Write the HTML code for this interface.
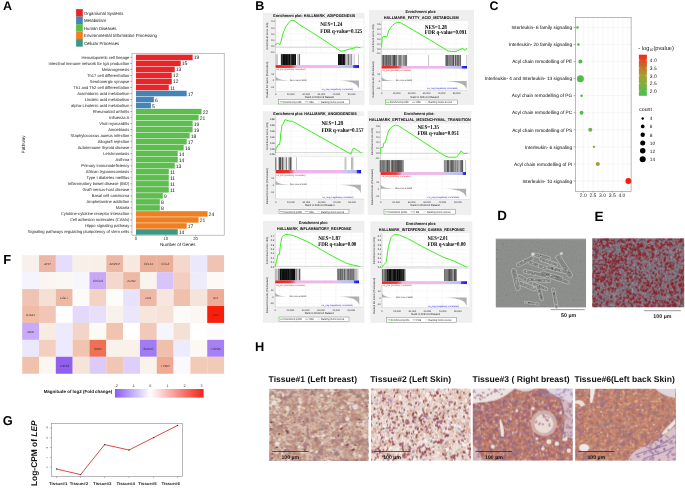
<!DOCTYPE html>
<html><head><meta charset="utf-8"><style>
html,body{margin:0;padding:0;background:#fff;overflow:hidden}
svg{display:block;will-change:transform;text-rendering:geometricPrecision}

</style></head><body>
<svg width="685" height="490" viewBox="0 0 685 490">
<rect width="685" height="490" fill="#fff"/>
<text x="2.90" y="9.80" font-size="12.5" text-anchor="start" font-weight="bold" fill="#000" font-family="'Liberation Sans',sans-serif"  style="">A</text>
<text x="255.20" y="9.90" font-size="12.6" text-anchor="start" font-weight="bold" fill="#000" font-family="'Liberation Sans',sans-serif"  style="">B</text>
<text x="489.50" y="9.70" font-size="12.4" text-anchor="start" font-weight="bold" fill="#000" font-family="'Liberation Sans',sans-serif"  style="">C</text>
<text x="497.20" y="220.40" font-size="13.4" text-anchor="start" font-weight="bold" fill="#000" font-family="'Liberation Sans',sans-serif"  style="">D</text>
<text x="594.40" y="220.60" font-size="13.6" text-anchor="start" font-weight="bold" fill="#000" font-family="'Liberation Sans',sans-serif"  style="">E</text>
<text x="3.20" y="264.00" font-size="13.0" text-anchor="start" font-weight="bold" fill="#000" font-family="'Liberation Sans',sans-serif"  style="">F</text>
<text x="2.80" y="425.20" font-size="12.8" text-anchor="start" font-weight="bold" fill="#000" font-family="'Liberation Sans',sans-serif"  style="">G</text>
<text x="255.10" y="350.80" font-size="12.8" text-anchor="start" font-weight="bold" fill="#000" font-family="'Liberation Sans',sans-serif"  style="">H</text>
<rect x="76.10" y="9.10" width="6.70" height="7.55" fill="#e8262a" />
<text x="84.00" y="14.60" font-size="4.45" text-anchor="start" font-weight="normal" fill="#111" font-family="'Liberation Sans',sans-serif" textLength="39.4" lengthAdjust="spacingAndGlyphs"  style="">Organismal Systems</text>
<rect x="76.10" y="16.60" width="6.70" height="7.55" fill="#4684b8" />
<text x="84.00" y="22.10" font-size="4.45" text-anchor="start" font-weight="normal" fill="#111" font-family="'Liberation Sans',sans-serif" textLength="22.2" lengthAdjust="spacingAndGlyphs"  style="">Metabolism</text>
<rect x="76.10" y="24.10" width="6.70" height="7.55" fill="#5ebd4f" />
<text x="84.00" y="29.60" font-size="4.45" text-anchor="start" font-weight="normal" fill="#111" font-family="'Liberation Sans',sans-serif" textLength="32.4" lengthAdjust="spacingAndGlyphs"  style="">Human Diseases</text>
<rect x="76.10" y="31.60" width="6.70" height="7.55" fill="#ee8022" />
<text x="84.00" y="37.10" font-size="4.45" text-anchor="start" font-weight="normal" fill="#111" font-family="'Liberation Sans',sans-serif" textLength="73.0" lengthAdjust="spacingAndGlyphs"  style="">Environmental Information Processing</text>
<rect x="76.10" y="39.10" width="6.70" height="7.55" fill="#3e9888" />
<text x="84.00" y="44.60" font-size="4.45" text-anchor="start" font-weight="normal" fill="#111" font-family="'Liberation Sans',sans-serif" textLength="35.2" lengthAdjust="spacingAndGlyphs"  style="">Cellular Processes</text>
<rect x="132.00" y="53.40" width="92.20" height="181.80" fill="#fff" stroke="#9a9a9a" stroke-width="0.6"/>
<rect x="136.00" y="54.65" width="56.62" height="5.50" fill="#e8262a" />
<text x="193.72" y="59.40" font-size="5.0" text-anchor="start" font-weight="normal" fill="#111" font-family="'Liberation Sans',sans-serif"  style="">19</text>
<text x="129.30" y="58.90" font-size="4.1" text-anchor="end" font-weight="normal" fill="#222" font-family="'Liberation Sans',sans-serif"  style="">Hematopoietic cell lineage</text>
<line x1="130.40" y1="57.40" x2="132.00" y2="57.40" stroke="#333" stroke-width="0.4" />
<rect x="136.00" y="60.67" width="44.70" height="5.50" fill="#e8262a" />
<text x="181.80" y="65.42" font-size="5.0" text-anchor="start" font-weight="normal" fill="#111" font-family="'Liberation Sans',sans-serif"  style="">15</text>
<text x="129.30" y="64.92" font-size="4.1" text-anchor="end" font-weight="normal" fill="#222" font-family="'Liberation Sans',sans-serif"  style="">Intestinal immune network for IgA production</text>
<line x1="130.40" y1="63.42" x2="132.00" y2="63.42" stroke="#333" stroke-width="0.4" />
<rect x="136.00" y="66.69" width="38.74" height="5.50" fill="#e8262a" />
<text x="175.84" y="71.44" font-size="5.0" text-anchor="start" font-weight="normal" fill="#111" font-family="'Liberation Sans',sans-serif"  style="">13</text>
<text x="129.30" y="70.94" font-size="4.1" text-anchor="end" font-weight="normal" fill="#222" font-family="'Liberation Sans',sans-serif"  style="">Melanogenesis</text>
<line x1="130.40" y1="69.44" x2="132.00" y2="69.44" stroke="#333" stroke-width="0.4" />
<rect x="136.00" y="72.71" width="35.76" height="5.50" fill="#e8262a" />
<text x="172.86" y="77.46" font-size="5.0" text-anchor="start" font-weight="normal" fill="#111" font-family="'Liberation Sans',sans-serif"  style="">12</text>
<text x="129.30" y="76.96" font-size="4.1" text-anchor="end" font-weight="normal" fill="#222" font-family="'Liberation Sans',sans-serif"  style="">Th17 cell differentiation</text>
<line x1="130.40" y1="75.46" x2="132.00" y2="75.46" stroke="#333" stroke-width="0.4" />
<rect x="136.00" y="78.73" width="35.76" height="5.50" fill="#e8262a" />
<text x="172.86" y="83.48" font-size="5.0" text-anchor="start" font-weight="normal" fill="#111" font-family="'Liberation Sans',sans-serif"  style="">12</text>
<text x="129.30" y="82.98" font-size="4.1" text-anchor="end" font-weight="normal" fill="#222" font-family="'Liberation Sans',sans-serif"  style="">Serotonergic synapse</text>
<line x1="130.40" y1="81.48" x2="132.00" y2="81.48" stroke="#333" stroke-width="0.4" />
<rect x="136.00" y="84.75" width="32.78" height="5.50" fill="#e8262a" />
<text x="169.88" y="89.50" font-size="5.0" text-anchor="start" font-weight="normal" fill="#111" font-family="'Liberation Sans',sans-serif"  style="">11</text>
<text x="129.30" y="89.00" font-size="4.1" text-anchor="end" font-weight="normal" fill="#222" font-family="'Liberation Sans',sans-serif"  style="">Th1 and Th2 cell differentiation</text>
<line x1="130.40" y1="87.50" x2="132.00" y2="87.50" stroke="#333" stroke-width="0.4" />
<rect x="136.00" y="90.77" width="50.66" height="5.50" fill="#4684b8" />
<text x="187.76" y="95.52" font-size="5.0" text-anchor="start" font-weight="normal" fill="#111" font-family="'Liberation Sans',sans-serif"  style="">17</text>
<text x="129.30" y="95.02" font-size="4.1" text-anchor="end" font-weight="normal" fill="#222" font-family="'Liberation Sans',sans-serif"  style="">Arachidonic acid metabolism</text>
<line x1="130.40" y1="93.52" x2="132.00" y2="93.52" stroke="#333" stroke-width="0.4" />
<rect x="136.00" y="96.79" width="17.88" height="5.50" fill="#4684b8" />
<text x="154.98" y="101.54" font-size="5.0" text-anchor="start" font-weight="normal" fill="#111" font-family="'Liberation Sans',sans-serif"  style="">6</text>
<text x="129.30" y="101.04" font-size="4.1" text-anchor="end" font-weight="normal" fill="#222" font-family="'Liberation Sans',sans-serif"  style="">Linoleic acid metabolism</text>
<line x1="130.40" y1="99.54" x2="132.00" y2="99.54" stroke="#333" stroke-width="0.4" />
<rect x="136.00" y="102.81" width="14.90" height="5.50" fill="#4684b8" />
<text x="152.00" y="107.56" font-size="5.0" text-anchor="start" font-weight="normal" fill="#111" font-family="'Liberation Sans',sans-serif"  style="">5</text>
<text x="129.30" y="107.06" font-size="4.1" text-anchor="end" font-weight="normal" fill="#222" font-family="'Liberation Sans',sans-serif"  style="">alpha-Linolenic acid metabolism</text>
<line x1="130.40" y1="105.56" x2="132.00" y2="105.56" stroke="#333" stroke-width="0.4" />
<rect x="136.00" y="108.83" width="65.56" height="5.50" fill="#5ebd4f" />
<text x="202.66" y="113.58" font-size="5.0" text-anchor="start" font-weight="normal" fill="#111" font-family="'Liberation Sans',sans-serif"  style="">22</text>
<text x="129.30" y="113.08" font-size="4.1" text-anchor="end" font-weight="normal" fill="#222" font-family="'Liberation Sans',sans-serif"  style="">Rheumatoid arthritis</text>
<line x1="130.40" y1="111.58" x2="132.00" y2="111.58" stroke="#333" stroke-width="0.4" />
<rect x="136.00" y="114.85" width="62.58" height="5.50" fill="#5ebd4f" />
<text x="199.68" y="119.60" font-size="5.0" text-anchor="start" font-weight="normal" fill="#111" font-family="'Liberation Sans',sans-serif"  style="">21</text>
<text x="129.30" y="119.10" font-size="4.1" text-anchor="end" font-weight="normal" fill="#222" font-family="'Liberation Sans',sans-serif"  style="">Influenza A</text>
<line x1="130.40" y1="117.60" x2="132.00" y2="117.60" stroke="#333" stroke-width="0.4" />
<rect x="136.00" y="120.87" width="56.62" height="5.50" fill="#5ebd4f" />
<text x="193.72" y="125.62" font-size="5.0" text-anchor="start" font-weight="normal" fill="#111" font-family="'Liberation Sans',sans-serif"  style="">19</text>
<text x="129.30" y="125.12" font-size="4.1" text-anchor="end" font-weight="normal" fill="#222" font-family="'Liberation Sans',sans-serif"  style="">Viral myocarditis</text>
<line x1="130.40" y1="123.62" x2="132.00" y2="123.62" stroke="#333" stroke-width="0.4" />
<rect x="136.00" y="126.89" width="56.62" height="5.50" fill="#5ebd4f" />
<text x="193.72" y="131.64" font-size="5.0" text-anchor="start" font-weight="normal" fill="#111" font-family="'Liberation Sans',sans-serif"  style="">19</text>
<text x="129.30" y="131.14" font-size="4.1" text-anchor="end" font-weight="normal" fill="#222" font-family="'Liberation Sans',sans-serif"  style="">Amoebiasis</text>
<line x1="130.40" y1="129.64" x2="132.00" y2="129.64" stroke="#333" stroke-width="0.4" />
<rect x="136.00" y="132.91" width="53.64" height="5.50" fill="#5ebd4f" />
<text x="190.74" y="137.66" font-size="5.0" text-anchor="start" font-weight="normal" fill="#111" font-family="'Liberation Sans',sans-serif"  style="">18</text>
<text x="129.30" y="137.16" font-size="4.1" text-anchor="end" font-weight="normal" fill="#222" font-family="'Liberation Sans',sans-serif"  style="">Staphylococcus aureus infection</text>
<line x1="130.40" y1="135.66" x2="132.00" y2="135.66" stroke="#333" stroke-width="0.4" />
<rect x="136.00" y="138.93" width="50.66" height="5.50" fill="#5ebd4f" />
<text x="187.76" y="143.68" font-size="5.0" text-anchor="start" font-weight="normal" fill="#111" font-family="'Liberation Sans',sans-serif"  style="">17</text>
<text x="129.30" y="143.18" font-size="4.1" text-anchor="end" font-weight="normal" fill="#222" font-family="'Liberation Sans',sans-serif"  style="">Allograft rejection</text>
<line x1="130.40" y1="141.68" x2="132.00" y2="141.68" stroke="#333" stroke-width="0.4" />
<rect x="136.00" y="144.95" width="47.68" height="5.50" fill="#5ebd4f" />
<text x="184.78" y="149.70" font-size="5.0" text-anchor="start" font-weight="normal" fill="#111" font-family="'Liberation Sans',sans-serif"  style="">16</text>
<text x="129.30" y="149.20" font-size="4.1" text-anchor="end" font-weight="normal" fill="#222" font-family="'Liberation Sans',sans-serif"  style="">Autoimmune thyroid disease</text>
<line x1="130.40" y1="147.70" x2="132.00" y2="147.70" stroke="#333" stroke-width="0.4" />
<rect x="136.00" y="150.97" width="41.72" height="5.50" fill="#5ebd4f" />
<text x="178.82" y="155.72" font-size="5.0" text-anchor="start" font-weight="normal" fill="#111" font-family="'Liberation Sans',sans-serif"  style="">14</text>
<text x="129.30" y="155.22" font-size="4.1" text-anchor="end" font-weight="normal" fill="#222" font-family="'Liberation Sans',sans-serif"  style="">Leishmaniasis</text>
<line x1="130.40" y1="153.72" x2="132.00" y2="153.72" stroke="#333" stroke-width="0.4" />
<rect x="136.00" y="156.99" width="41.72" height="5.50" fill="#5ebd4f" />
<text x="178.82" y="161.74" font-size="5.0" text-anchor="start" font-weight="normal" fill="#111" font-family="'Liberation Sans',sans-serif"  style="">14</text>
<text x="129.30" y="161.24" font-size="4.1" text-anchor="end" font-weight="normal" fill="#222" font-family="'Liberation Sans',sans-serif"  style="">Asthma</text>
<line x1="130.40" y1="159.74" x2="132.00" y2="159.74" stroke="#333" stroke-width="0.4" />
<rect x="136.00" y="163.01" width="38.74" height="5.50" fill="#5ebd4f" />
<text x="175.84" y="167.76" font-size="5.0" text-anchor="start" font-weight="normal" fill="#111" font-family="'Liberation Sans',sans-serif"  style="">13</text>
<text x="129.30" y="167.26" font-size="4.1" text-anchor="end" font-weight="normal" fill="#222" font-family="'Liberation Sans',sans-serif"  style="">Primary immunodeficiency</text>
<line x1="130.40" y1="165.76" x2="132.00" y2="165.76" stroke="#333" stroke-width="0.4" />
<rect x="136.00" y="169.03" width="32.78" height="5.50" fill="#5ebd4f" />
<text x="169.88" y="173.78" font-size="5.0" text-anchor="start" font-weight="normal" fill="#111" font-family="'Liberation Sans',sans-serif"  style="">11</text>
<text x="129.30" y="173.28" font-size="4.1" text-anchor="end" font-weight="normal" fill="#222" font-family="'Liberation Sans',sans-serif"  style="">African trypanosomiasis</text>
<line x1="130.40" y1="171.78" x2="132.00" y2="171.78" stroke="#333" stroke-width="0.4" />
<rect x="136.00" y="175.05" width="32.78" height="5.50" fill="#5ebd4f" />
<text x="169.88" y="179.80" font-size="5.0" text-anchor="start" font-weight="normal" fill="#111" font-family="'Liberation Sans',sans-serif"  style="">11</text>
<text x="129.30" y="179.30" font-size="4.1" text-anchor="end" font-weight="normal" fill="#222" font-family="'Liberation Sans',sans-serif"  style="">Type I diabetes mellitus</text>
<line x1="130.40" y1="177.80" x2="132.00" y2="177.80" stroke="#333" stroke-width="0.4" />
<rect x="136.00" y="181.07" width="32.78" height="5.50" fill="#5ebd4f" />
<text x="169.88" y="185.82" font-size="5.0" text-anchor="start" font-weight="normal" fill="#111" font-family="'Liberation Sans',sans-serif"  style="">11</text>
<text x="129.30" y="185.32" font-size="4.1" text-anchor="end" font-weight="normal" fill="#222" font-family="'Liberation Sans',sans-serif"  style="">Inflammatory bowel disease (IBD)</text>
<line x1="130.40" y1="183.82" x2="132.00" y2="183.82" stroke="#333" stroke-width="0.4" />
<rect x="136.00" y="187.09" width="32.78" height="5.50" fill="#5ebd4f" />
<text x="169.88" y="191.84" font-size="5.0" text-anchor="start" font-weight="normal" fill="#111" font-family="'Liberation Sans',sans-serif"  style="">11</text>
<text x="129.30" y="191.34" font-size="4.1" text-anchor="end" font-weight="normal" fill="#222" font-family="'Liberation Sans',sans-serif"  style="">Graft-versus-host disease</text>
<line x1="130.40" y1="189.84" x2="132.00" y2="189.84" stroke="#333" stroke-width="0.4" />
<rect x="136.00" y="193.11" width="26.82" height="5.50" fill="#5ebd4f" />
<text x="163.92" y="197.86" font-size="5.0" text-anchor="start" font-weight="normal" fill="#111" font-family="'Liberation Sans',sans-serif"  style="">9</text>
<text x="129.30" y="197.36" font-size="4.1" text-anchor="end" font-weight="normal" fill="#222" font-family="'Liberation Sans',sans-serif"  style="">Basal cell carcinoma</text>
<line x1="130.40" y1="195.86" x2="132.00" y2="195.86" stroke="#333" stroke-width="0.4" />
<rect x="136.00" y="199.13" width="23.84" height="5.50" fill="#5ebd4f" />
<text x="160.94" y="203.88" font-size="5.0" text-anchor="start" font-weight="normal" fill="#111" font-family="'Liberation Sans',sans-serif"  style="">8</text>
<text x="129.30" y="203.38" font-size="4.1" text-anchor="end" font-weight="normal" fill="#222" font-family="'Liberation Sans',sans-serif"  style="">Amphetamine addiction</text>
<line x1="130.40" y1="201.88" x2="132.00" y2="201.88" stroke="#333" stroke-width="0.4" />
<rect x="136.00" y="205.15" width="23.84" height="5.50" fill="#5ebd4f" />
<text x="160.94" y="209.90" font-size="5.0" text-anchor="start" font-weight="normal" fill="#111" font-family="'Liberation Sans',sans-serif"  style="">8</text>
<text x="129.30" y="209.40" font-size="4.1" text-anchor="end" font-weight="normal" fill="#222" font-family="'Liberation Sans',sans-serif"  style="">Malaria</text>
<line x1="130.40" y1="207.90" x2="132.00" y2="207.90" stroke="#333" stroke-width="0.4" />
<rect x="136.00" y="211.17" width="71.52" height="5.50" fill="#ee8022" />
<text x="208.62" y="215.92" font-size="5.0" text-anchor="start" font-weight="normal" fill="#111" font-family="'Liberation Sans',sans-serif"  style="">24</text>
<text x="129.30" y="215.42" font-size="4.1" text-anchor="end" font-weight="normal" fill="#222" font-family="'Liberation Sans',sans-serif"  style="">Cytokine-cytokine receptor interaction</text>
<line x1="130.40" y1="213.92" x2="132.00" y2="213.92" stroke="#333" stroke-width="0.4" />
<rect x="136.00" y="217.19" width="62.58" height="5.50" fill="#ee8022" />
<text x="199.68" y="221.94" font-size="5.0" text-anchor="start" font-weight="normal" fill="#111" font-family="'Liberation Sans',sans-serif"  style="">21</text>
<text x="129.30" y="221.44" font-size="4.1" text-anchor="end" font-weight="normal" fill="#222" font-family="'Liberation Sans',sans-serif"  style="">Cell adhesion molecules (CAMs)</text>
<line x1="130.40" y1="219.94" x2="132.00" y2="219.94" stroke="#333" stroke-width="0.4" />
<rect x="136.00" y="223.21" width="50.66" height="5.50" fill="#ee8022" />
<text x="187.76" y="227.96" font-size="5.0" text-anchor="start" font-weight="normal" fill="#111" font-family="'Liberation Sans',sans-serif"  style="">17</text>
<text x="129.30" y="227.46" font-size="4.1" text-anchor="end" font-weight="normal" fill="#222" font-family="'Liberation Sans',sans-serif"  style="">Hippo signaling pathway</text>
<line x1="130.40" y1="225.96" x2="132.00" y2="225.96" stroke="#333" stroke-width="0.4" />
<rect x="136.00" y="229.23" width="41.72" height="5.50" fill="#3e9888" />
<text x="178.82" y="233.98" font-size="5.0" text-anchor="start" font-weight="normal" fill="#111" font-family="'Liberation Sans',sans-serif"  style="">14</text>
<text x="129.30" y="233.48" font-size="4.1" text-anchor="end" font-weight="normal" fill="#222" font-family="'Liberation Sans',sans-serif"  style="">Signaling pathways regulating pluripotency of stem cells</text>
<line x1="130.40" y1="231.98" x2="132.00" y2="231.98" stroke="#333" stroke-width="0.4" />
<line x1="136.00" y1="235.20" x2="136.00" y2="236.40" stroke="#333" stroke-width="0.4" />
<text x="136.00" y="239.60" font-size="4.2" text-anchor="middle" font-weight="normal" fill="#333" font-family="'Liberation Sans',sans-serif"  style="">0</text>
<line x1="165.80" y1="235.20" x2="165.80" y2="236.40" stroke="#333" stroke-width="0.4" />
<text x="165.80" y="239.60" font-size="4.2" text-anchor="middle" font-weight="normal" fill="#333" font-family="'Liberation Sans',sans-serif"  style="">10</text>
<line x1="195.60" y1="235.20" x2="195.60" y2="236.40" stroke="#333" stroke-width="0.4" />
<text x="195.60" y="239.60" font-size="4.2" text-anchor="middle" font-weight="normal" fill="#333" font-family="'Liberation Sans',sans-serif"  style="">20</text>
<text x="177.80" y="246.30" font-size="4.5" text-anchor="middle" font-weight="normal" fill="#111" font-family="'Liberation Sans',sans-serif"  style="">Number of Genes</text>
<text x="0" y="0" font-size="4.7" fill="#111" font-family="'Liberation Sans',sans-serif" text-anchor="middle" transform="translate(25.0,144.4) rotate(-90)">Pathway</text>
<rect x="262.80" y="13.00" width="101.80" height="92.00" fill="#efefef" />
<text x="273.30" y="16.65" font-size="4.0" text-anchor="start" font-weight="bold" fill="#000" font-family="'Liberation Sans',sans-serif" textLength="81.9" lengthAdjust="spacingAndGlyphs"  style="">Enrichment plot: HALLMARK_ADIPOGENESIS</text>
<rect x="275.60" y="18.60" width="87.80" height="35.00" fill="#fff" />
<line x1="290.74" y1="18.60" x2="290.74" y2="53.60" stroke="#ebebeb" stroke-width="0.35" />
<line x1="305.88" y1="18.60" x2="305.88" y2="53.60" stroke="#ebebeb" stroke-width="0.35" />
<line x1="321.01" y1="18.60" x2="321.01" y2="53.60" stroke="#ebebeb" stroke-width="0.35" />
<line x1="336.15" y1="18.60" x2="336.15" y2="53.60" stroke="#ebebeb" stroke-width="0.35" />
<line x1="351.29" y1="18.60" x2="351.29" y2="53.60" stroke="#ebebeb" stroke-width="0.35" />
<line x1="275.60" y1="21.60" x2="363.40" y2="21.60" stroke="#ebebeb" stroke-width="0.35" />
<text x="274.60" y="22.45" font-size="2.4" text-anchor="end" font-weight="normal" fill="#222" font-family="'Liberation Sans',sans-serif"  style="">0.4</text>
<line x1="275.60" y1="27.80" x2="363.40" y2="27.80" stroke="#ebebeb" stroke-width="0.35" />
<text x="274.60" y="28.65" font-size="2.4" text-anchor="end" font-weight="normal" fill="#222" font-family="'Liberation Sans',sans-serif"  style="">0.3</text>
<line x1="275.60" y1="34.00" x2="363.40" y2="34.00" stroke="#ebebeb" stroke-width="0.35" />
<text x="274.60" y="34.85" font-size="2.4" text-anchor="end" font-weight="normal" fill="#222" font-family="'Liberation Sans',sans-serif"  style="">0.2</text>
<line x1="275.60" y1="40.20" x2="363.40" y2="40.20" stroke="#ebebeb" stroke-width="0.35" />
<text x="274.60" y="41.05" font-size="2.4" text-anchor="end" font-weight="normal" fill="#222" font-family="'Liberation Sans',sans-serif"  style="">0.1</text>
<line x1="275.60" y1="46.40" x2="363.40" y2="46.40" stroke="#ebebeb" stroke-width="0.35" />
<text x="274.60" y="47.25" font-size="2.4" text-anchor="end" font-weight="normal" fill="#222" font-family="'Liberation Sans',sans-serif"  style="">0.0</text>
<line x1="275.60" y1="52.60" x2="363.40" y2="52.60" stroke="#ebebeb" stroke-width="0.35" />
<text x="274.60" y="53.45" font-size="2.4" text-anchor="end" font-weight="normal" fill="#222" font-family="'Liberation Sans',sans-serif"  style="">-0.1</text>
<line x1="275.60" y1="47.30" x2="363.40" y2="47.30" stroke="#9a9a9a" stroke-width="0.4" />
<line x1="275.60" y1="18.60" x2="275.60" y2="53.60" stroke="#999" stroke-width="0.35" />
<text x="0" y="0" font-size="2.7" fill="#222" font-family="'Liberation Sans',sans-serif" text-anchor="middle" transform="translate(268.20,36.10) rotate(-90)">Enrichment score (ES)</text>
<polyline points="275.60,45.20 276.20,43.80 277.20,43.20 278.50,43.60 279.80,44.60 281.20,41.00 282.50,35.00 284.00,31.00 286.00,26.50 288.50,23.00 290.50,20.80 292.50,20.30 294.00,20.60 300.00,25.00 320.00,37.50 341.00,51.40 343.00,51.00 346.00,50.00 350.00,49.00 353.00,48.30 355.00,47.80 356.50,46.60 357.50,47.80 359.00,47.40 360.00,47.80" fill="none" stroke="#3cf01c" stroke-width="1.0" stroke-linejoin="round" stroke-linecap="round"/>
<text x="320.30" y="26.00" font-size="5.9" text-anchor="start" font-weight="bold" fill="#000" font-family="'Liberation Serif',serif" textLength="22.0" lengthAdjust="spacingAndGlyphs"  style="">NES=1.24</text>
<text x="320.30" y="32.50" font-size="5.9" text-anchor="start" font-weight="bold" fill="#000" font-family="'Liberation Serif',serif" textLength="42.1" lengthAdjust="spacingAndGlyphs"  style="">FDR q-value=0.125</text>
<rect x="275.60" y="54.00" width="87.80" height="11.10" fill="#fff" />
<line x1="275.60" y1="54.00" x2="275.60" y2="65.10" stroke="#999" stroke-width="0.35" />
<rect x="280.90" y="54.10" width="15.10" height="10.90" fill="#0c0c0c" />
<line x1="282.08" y1="54.10" x2="282.08" y2="65.00" stroke="#bbb" stroke-width="0.4642157515961874" />
<line x1="285.42" y1="54.10" x2="285.42" y2="65.00" stroke="#444" stroke-width="0.37696031826556775" />
<line x1="288.17" y1="54.10" x2="288.17" y2="65.00" stroke="#777" stroke-width="0.45097507818026217" />
<line x1="290.57" y1="54.10" x2="290.57" y2="65.00" stroke="#bbb" stroke-width="0.44824421812998816" />
<line x1="291.78" y1="54.10" x2="291.78" y2="65.00" stroke="#999" stroke-width="0.28544878231486404" />
<line x1="294.37" y1="54.10" x2="294.37" y2="65.00" stroke="#555" stroke-width="0.3988591264601674" />
<line x1="297.50" y1="54.10" x2="297.50" y2="65.00" stroke="#a8a8a8" stroke-width="0.55" />
<line x1="298.34" y1="54.10" x2="298.34" y2="65.00" stroke="#a8a8a8" stroke-width="0.55" />
<line x1="299.12" y1="54.10" x2="299.12" y2="65.00" stroke="#a8a8a8" stroke-width="0.55" />
<line x1="299.56" y1="54.10" x2="299.56" y2="65.00" stroke="#0c0c0c" stroke-width="0.55" />
<rect x="338.00" y="54.10" width="7.00" height="10.90" fill="#0c0c0c" />
<line x1="339.40" y1="54.10" x2="339.40" y2="65.00" stroke="#444" stroke-width="0.3315733381370662" />
<line x1="342.15" y1="54.10" x2="342.15" y2="65.00" stroke="#777" stroke-width="0.37978102869101915" />
<line x1="345.00" y1="54.10" x2="345.00" y2="65.00" stroke="#555" stroke-width="0.55" />
<line x1="345.80" y1="54.10" x2="345.80" y2="65.00" stroke="#555" stroke-width="0.55" />
<line x1="346.36" y1="54.10" x2="346.36" y2="65.00" stroke="#a8a8a8" stroke-width="0.55" />
<line x1="347.36" y1="54.10" x2="347.36" y2="65.00" stroke="#a8a8a8" stroke-width="0.55" />
<line x1="348.19" y1="54.10" x2="348.19" y2="65.00" stroke="#0c0c0c" stroke-width="0.55" />
<line x1="348.72" y1="54.10" x2="348.72" y2="65.00" stroke="#0c0c0c" stroke-width="0.55" />
<line x1="349.17" y1="54.10" x2="349.17" y2="65.00" stroke="#a8a8a8" stroke-width="0.55" />
<line x1="349.81" y1="54.10" x2="349.81" y2="65.00" stroke="#a8a8a8" stroke-width="0.55" />
<line x1="350.44" y1="54.10" x2="350.44" y2="65.00" stroke="#a8a8a8" stroke-width="0.55" />
<line x1="351.35" y1="54.10" x2="351.35" y2="65.00" stroke="#0c0c0c" stroke-width="0.55" />
<line x1="351.87" y1="54.10" x2="351.87" y2="65.00" stroke="#a8a8a8" stroke-width="0.55" />
<line x1="276.30" y1="54.20" x2="276.30" y2="64.90" stroke="#555" stroke-width="0.35" />
<line x1="277.40" y1="54.20" x2="277.40" y2="64.90" stroke="#555" stroke-width="0.35" />
<line x1="354.20" y1="54.20" x2="354.20" y2="64.90" stroke="#555" stroke-width="0.35" />
<line x1="358.50" y1="54.20" x2="358.50" y2="64.90" stroke="#555" stroke-width="0.35" />
<linearGradient id="cb1" x1="0" x2="1" y1="0" y2="0"><stop offset="0" stop-color="#f02020"/><stop offset="0.168" stop-color="#e83838"/><stop offset="0.210" stop-color="#e07090"/><stop offset="0.240" stop-color="#f0b4ea"/><stop offset="0.710" stop-color="#f0b8ea"/><stop offset="0.715" stop-color="#c8c8f0"/><stop offset="0.880" stop-color="#b8b8f2"/><stop offset="0.890" stop-color="#3838f0"/><stop offset="0.950" stop-color="#1010e8"/><stop offset="0.951" stop-color="#ffffff"/><stop offset="1" stop-color="#ffffff"/></linearGradient>
<rect x="275.60" y="65.10" width="87.80" height="2.80" fill="url(#cb1)" />
<rect x="275.60" y="68.40" width="87.80" height="23.00" fill="#fff" />
<line x1="275.60" y1="68.40" x2="275.60" y2="91.40" stroke="#999" stroke-width="0.35" />
<line x1="275.60" y1="91.40" x2="363.40" y2="91.40" stroke="#bbb" stroke-width="0.35" />
<line x1="290.74" y1="68.40" x2="290.74" y2="91.40" stroke="#ebebeb" stroke-width="0.35" />
<line x1="305.88" y1="68.40" x2="305.88" y2="91.40" stroke="#ebebeb" stroke-width="0.35" />
<line x1="321.01" y1="68.40" x2="321.01" y2="91.40" stroke="#ebebeb" stroke-width="0.35" />
<line x1="336.15" y1="68.40" x2="336.15" y2="91.40" stroke="#ebebeb" stroke-width="0.35" />
<line x1="351.29" y1="68.40" x2="351.29" y2="91.40" stroke="#ebebeb" stroke-width="0.35" />
<line x1="275.60" y1="73.60" x2="363.40" y2="73.60" stroke="#f0f0f0" stroke-width="0.3" />
<text x="274.20" y="74.50" font-size="2.6" text-anchor="end" font-weight="normal" fill="#333" font-family="'Liberation Sans',sans-serif"  style="">10</text>
<line x1="275.60" y1="80.40" x2="363.40" y2="80.40" stroke="#f0f0f0" stroke-width="0.3" />
<text x="274.20" y="81.30" font-size="2.6" text-anchor="end" font-weight="normal" fill="#333" font-family="'Liberation Sans',sans-serif"  style="">0</text>
<line x1="275.60" y1="87.20" x2="363.40" y2="87.20" stroke="#f0f0f0" stroke-width="0.3" />
<text x="274.20" y="88.10" font-size="2.6" text-anchor="end" font-weight="normal" fill="#333" font-family="'Liberation Sans',sans-serif"  style="">-10</text>
<text x="276.40" y="70.00" font-size="2.2" text-anchor="start" font-weight="normal" fill="#e02020" font-family="'Liberation Sans',sans-serif" textLength="29.0" lengthAdjust="spacingAndGlyphs"  style="">na_pos (positively correlated)</text>
<text x="321.87" y="90.30" font-size="2.2" text-anchor="start" font-weight="normal" fill="#2020e0" font-family="'Liberation Sans',sans-serif" textLength="31.2" lengthAdjust="spacingAndGlyphs"  style="">na_neg (negatively correlated)</text>
<path d="M275.60,80.40 L275.60,76.20 C277.60,78.90 280.60,80.10 289.65,80.40 Z" fill="#b0b0b0"/>
<path d="M338.82,80.40 L359.01,80.40 L359.01,88.90 C357.51,82.90 351.01,81.20 338.82,80.40 Z" fill="#b0b0b0"/>
<text x="289.95" y="80.50" font-size="2.2" text-anchor="start" font-weight="normal" fill="#333" font-family="'Liberation Sans',sans-serif" textLength="16.7" lengthAdjust="spacingAndGlyphs"  style="">Zero cross at 16918</text>
<text x="0" y="0" font-size="2.6" fill="#222" font-family="'Liberation Sans',sans-serif" text-anchor="middle" transform="translate(268.20,79.65) rotate(-90)">Ranked list metric (PreRanked)</text>
<text x="275.60" y="94.50" font-size="2.5" text-anchor="middle" font-weight="normal" fill="#333" font-family="'Liberation Sans',sans-serif"  style="">0</text>
<text x="290.81" y="94.50" font-size="2.5" text-anchor="middle" font-weight="normal" fill="#333" font-family="'Liberation Sans',sans-serif"  style="">10,000</text>
<text x="306.03" y="94.50" font-size="2.5" text-anchor="middle" font-weight="normal" fill="#333" font-family="'Liberation Sans',sans-serif"  style="">20,000</text>
<text x="321.24" y="94.50" font-size="2.5" text-anchor="middle" font-weight="normal" fill="#333" font-family="'Liberation Sans',sans-serif"  style="">30,000</text>
<text x="336.45" y="94.50" font-size="2.5" text-anchor="middle" font-weight="normal" fill="#333" font-family="'Liberation Sans',sans-serif"  style="">40,000</text>
<text x="351.67" y="94.50" font-size="2.5" text-anchor="middle" font-weight="normal" fill="#333" font-family="'Liberation Sans',sans-serif"  style="">50,000</text>
<text x="319.50" y="97.60" font-size="2.8" text-anchor="middle" font-weight="normal" fill="#222" font-family="'Liberation Sans',sans-serif" textLength="29.0" lengthAdjust="spacingAndGlyphs"  style="">Rank in Ordered Dataset</text>
<rect x="278.80" y="99.60" width="70.40" height="4.40" fill="#fff" stroke="#666" stroke-width="0.4"/>
<line x1="279.70" y1="101.80" x2="282.80" y2="101.80" stroke="#3cf01c" stroke-width="0.9" />
<text x="283.20" y="102.80" font-size="2.8" text-anchor="start" font-weight="normal" fill="#222" font-family="'Liberation Sans',sans-serif" textLength="18.7" lengthAdjust="spacingAndGlyphs"  style="">Enrichment profile</text>
<line x1="304.85" y1="101.80" x2="308.37" y2="101.80" stroke="#444" stroke-width="0.4" />
<text x="308.72" y="102.80" font-size="2.8" text-anchor="start" font-weight="normal" fill="#222" font-family="'Liberation Sans',sans-serif"  style="">Hits</text>
<line x1="317.52" y1="101.80" x2="320.34" y2="101.80" stroke="#aaa" stroke-width="0.4" />
<text x="321.04" y="102.80" font-size="2.8" text-anchor="start" font-weight="normal" fill="#222" font-family="'Liberation Sans',sans-serif" textLength="23.2" lengthAdjust="spacingAndGlyphs"  style="">Ranking metric scores</text>
<rect x="369.00" y="9.80" width="105.00" height="95.20" fill="#efefef" />
<text x="405.60" y="13.45" font-size="4.0" text-anchor="start" font-weight="bold" fill="#000" font-family="'Liberation Sans',sans-serif" textLength="30.6" lengthAdjust="spacingAndGlyphs"  style="">Enrichment plot:</text>
<text x="383.80" y="18.75" font-size="4.0" text-anchor="start" font-weight="bold" fill="#000" font-family="'Liberation Sans',sans-serif" textLength="75.0" lengthAdjust="spacingAndGlyphs"  style="">HALLMARK_FATTY_ACID_METABOLISM</text>
<rect x="381.60" y="21.20" width="86.40" height="33.40" fill="#fff" />
<line x1="396.50" y1="21.20" x2="396.50" y2="54.60" stroke="#ebebeb" stroke-width="0.35" />
<line x1="411.39" y1="21.20" x2="411.39" y2="54.60" stroke="#ebebeb" stroke-width="0.35" />
<line x1="426.29" y1="21.20" x2="426.29" y2="54.60" stroke="#ebebeb" stroke-width="0.35" />
<line x1="441.19" y1="21.20" x2="441.19" y2="54.60" stroke="#ebebeb" stroke-width="0.35" />
<line x1="456.08" y1="21.20" x2="456.08" y2="54.60" stroke="#ebebeb" stroke-width="0.35" />
<line x1="381.60" y1="24.20" x2="468.00" y2="24.20" stroke="#ebebeb" stroke-width="0.35" />
<text x="380.60" y="25.05" font-size="2.4" text-anchor="end" font-weight="normal" fill="#222" font-family="'Liberation Sans',sans-serif"  style="">0.5</text>
<line x1="381.60" y1="29.10" x2="468.00" y2="29.10" stroke="#ebebeb" stroke-width="0.35" />
<text x="380.60" y="29.95" font-size="2.4" text-anchor="end" font-weight="normal" fill="#222" font-family="'Liberation Sans',sans-serif"  style="">0.4</text>
<line x1="381.60" y1="34.00" x2="468.00" y2="34.00" stroke="#ebebeb" stroke-width="0.35" />
<text x="380.60" y="34.85" font-size="2.4" text-anchor="end" font-weight="normal" fill="#222" font-family="'Liberation Sans',sans-serif"  style="">0.3</text>
<line x1="381.60" y1="38.90" x2="468.00" y2="38.90" stroke="#ebebeb" stroke-width="0.35" />
<text x="380.60" y="39.75" font-size="2.4" text-anchor="end" font-weight="normal" fill="#222" font-family="'Liberation Sans',sans-serif"  style="">0.2</text>
<line x1="381.60" y1="43.80" x2="468.00" y2="43.80" stroke="#ebebeb" stroke-width="0.35" />
<text x="380.60" y="44.65" font-size="2.4" text-anchor="end" font-weight="normal" fill="#222" font-family="'Liberation Sans',sans-serif"  style="">0.1</text>
<line x1="381.60" y1="48.70" x2="468.00" y2="48.70" stroke="#ebebeb" stroke-width="0.35" />
<text x="380.60" y="49.55" font-size="2.4" text-anchor="end" font-weight="normal" fill="#222" font-family="'Liberation Sans',sans-serif"  style="">0.0</text>
<line x1="381.60" y1="53.60" x2="468.00" y2="53.60" stroke="#ebebeb" stroke-width="0.35" />
<text x="380.60" y="54.45" font-size="2.4" text-anchor="end" font-weight="normal" fill="#222" font-family="'Liberation Sans',sans-serif"  style="">-0.1</text>
<line x1="381.60" y1="49.20" x2="468.00" y2="49.20" stroke="#9a9a9a" stroke-width="0.4" />
<line x1="381.60" y1="21.20" x2="381.60" y2="54.60" stroke="#999" stroke-width="0.35" />
<text x="0" y="0" font-size="2.7" fill="#222" font-family="'Liberation Sans',sans-serif" text-anchor="middle" transform="translate(374.20,37.90) rotate(-90)">Enrichment score (ES)</text>
<polyline points="381.60,47.00 382.20,38.00 383.00,36.50 384.00,37.00 385.00,36.00 386.50,37.00 387.50,35.00 388.50,31.00 390.00,29.00 391.00,27.00 392.50,25.50 394.50,23.60 396.50,22.70 399.00,22.30 401.00,23.00 420.00,34.00 445.00,49.00 448.00,51.00 452.00,51.50 456.00,51.40 458.00,50.50 461.00,49.00 463.00,48.60 465.00,50.50 466.50,48.50" fill="none" stroke="#3cf01c" stroke-width="1.0" stroke-linejoin="round" stroke-linecap="round"/>
<text x="424.80" y="28.50" font-size="5.9" text-anchor="start" font-weight="bold" fill="#000" font-family="'Liberation Serif',serif" textLength="22.0" lengthAdjust="spacingAndGlyphs"  style="">NES=1.28</text>
<text x="424.80" y="34.40" font-size="5.9" text-anchor="start" font-weight="bold" fill="#000" font-family="'Liberation Serif',serif" textLength="42.0" lengthAdjust="spacingAndGlyphs"  style="">FDR q-value=0.091</text>
<rect x="381.60" y="54.90" width="86.40" height="11.10" fill="#fff" />
<line x1="381.60" y1="54.90" x2="381.60" y2="66.00" stroke="#999" stroke-width="0.35" />
<line x1="382.30" y1="55.00" x2="382.30" y2="65.90" stroke="#0c0c0c" stroke-width="0.55" />
<line x1="383.09" y1="55.00" x2="383.09" y2="65.90" stroke="#555" stroke-width="0.55" />
<line x1="383.58" y1="55.00" x2="383.58" y2="65.90" stroke="#0c0c0c" stroke-width="0.55" />
<line x1="384.20" y1="55.00" x2="384.20" y2="65.90" stroke="#0c0c0c" stroke-width="0.55" />
<line x1="385.09" y1="55.00" x2="385.09" y2="65.90" stroke="#555" stroke-width="0.55" />
<line x1="385.85" y1="55.00" x2="385.85" y2="65.90" stroke="#555" stroke-width="0.55" />
<line x1="386.00" y1="55.00" x2="386.00" y2="65.90" stroke="#0c0c0c" stroke-width="0.55" />
<line x1="386.66" y1="55.00" x2="386.66" y2="65.90" stroke="#0c0c0c" stroke-width="0.55" />
<line x1="387.61" y1="55.00" x2="387.61" y2="65.90" stroke="#0c0c0c" stroke-width="0.55" />
<line x1="388.50" y1="55.00" x2="388.50" y2="65.90" stroke="#0c0c0c" stroke-width="0.55" />
<line x1="389.31" y1="55.00" x2="389.31" y2="65.90" stroke="#0c0c0c" stroke-width="0.55" />
<line x1="389.95" y1="55.00" x2="389.95" y2="65.90" stroke="#555" stroke-width="0.55" />
<line x1="390.37" y1="55.00" x2="390.37" y2="65.90" stroke="#0c0c0c" stroke-width="0.55" />
<line x1="391.31" y1="55.00" x2="391.31" y2="65.90" stroke="#0c0c0c" stroke-width="0.55" />
<line x1="391.77" y1="55.00" x2="391.77" y2="65.90" stroke="#a8a8a8" stroke-width="0.55" />
<line x1="392.74" y1="55.00" x2="392.74" y2="65.90" stroke="#0c0c0c" stroke-width="0.55" />
<line x1="393.39" y1="55.00" x2="393.39" y2="65.90" stroke="#0c0c0c" stroke-width="0.55" />
<line x1="393.98" y1="55.00" x2="393.98" y2="65.90" stroke="#0c0c0c" stroke-width="0.55" />
<line x1="394.48" y1="55.00" x2="394.48" y2="65.90" stroke="#0c0c0c" stroke-width="0.55" />
<line x1="394.91" y1="55.00" x2="394.91" y2="65.90" stroke="#0c0c0c" stroke-width="0.55" />
<line x1="395.80" y1="55.00" x2="395.80" y2="65.90" stroke="#0c0c0c" stroke-width="0.55" />
<line x1="396.00" y1="55.00" x2="396.00" y2="65.90" stroke="#555" stroke-width="0.55" />
<line x1="396.69" y1="55.00" x2="396.69" y2="65.90" stroke="#0c0c0c" stroke-width="0.55" />
<line x1="397.10" y1="55.00" x2="397.10" y2="65.90" stroke="#a8a8a8" stroke-width="0.55" />
<line x1="398.08" y1="55.00" x2="398.08" y2="65.90" stroke="#a8a8a8" stroke-width="0.55" />
<line x1="398.88" y1="55.00" x2="398.88" y2="65.90" stroke="#0c0c0c" stroke-width="0.55" />
<line x1="399.50" y1="55.00" x2="399.50" y2="65.90" stroke="#555" stroke-width="0.55" />
<line x1="400.31" y1="55.00" x2="400.31" y2="65.90" stroke="#0c0c0c" stroke-width="0.55" />
<line x1="400.50" y1="55.00" x2="400.50" y2="65.90" stroke="#555" stroke-width="0.55" />
<line x1="401.21" y1="55.00" x2="401.21" y2="65.90" stroke="#a8a8a8" stroke-width="0.55" />
<line x1="401.91" y1="55.00" x2="401.91" y2="65.90" stroke="#0c0c0c" stroke-width="0.55" />
<line x1="402.80" y1="55.00" x2="402.80" y2="65.90" stroke="#a8a8a8" stroke-width="0.55" />
<line x1="403.51" y1="55.00" x2="403.51" y2="65.90" stroke="#555" stroke-width="0.55" />
<line x1="404.17" y1="55.00" x2="404.17" y2="65.90" stroke="#555" stroke-width="0.55" />
<line x1="405.03" y1="55.00" x2="405.03" y2="65.90" stroke="#0c0c0c" stroke-width="0.55" />
<line x1="405.76" y1="55.00" x2="405.76" y2="65.90" stroke="#0c0c0c" stroke-width="0.55" />
<line x1="406.58" y1="55.00" x2="406.58" y2="65.90" stroke="#0c0c0c" stroke-width="0.55" />
<line x1="445.80" y1="55.00" x2="445.80" y2="65.90" stroke="#0c0c0c" stroke-width="0.55" />
<line x1="446.58" y1="55.00" x2="446.58" y2="65.90" stroke="#0c0c0c" stroke-width="0.55" />
<line x1="447.26" y1="55.00" x2="447.26" y2="65.90" stroke="#0c0c0c" stroke-width="0.55" />
<line x1="447.83" y1="55.00" x2="447.83" y2="65.90" stroke="#0c0c0c" stroke-width="0.55" />
<line x1="448.80" y1="55.00" x2="448.80" y2="65.90" stroke="#0c0c0c" stroke-width="0.55" />
<line x1="449.78" y1="55.00" x2="449.78" y2="65.90" stroke="#0c0c0c" stroke-width="0.55" />
<line x1="450.73" y1="55.00" x2="450.73" y2="65.90" stroke="#0c0c0c" stroke-width="0.55" />
<line x1="451.24" y1="55.00" x2="451.24" y2="65.90" stroke="#555" stroke-width="0.55" />
<line x1="452.19" y1="55.00" x2="452.19" y2="65.90" stroke="#0c0c0c" stroke-width="0.55" />
<line x1="452.75" y1="55.00" x2="452.75" y2="65.90" stroke="#555" stroke-width="0.55" />
<line x1="453.36" y1="55.00" x2="453.36" y2="65.90" stroke="#0c0c0c" stroke-width="0.55" />
<line x1="453.76" y1="55.00" x2="453.76" y2="65.90" stroke="#0c0c0c" stroke-width="0.55" />
<line x1="454.53" y1="55.00" x2="454.53" y2="65.90" stroke="#a8a8a8" stroke-width="0.55" />
<line x1="455.53" y1="55.00" x2="455.53" y2="65.90" stroke="#0c0c0c" stroke-width="0.55" />
<line x1="455.95" y1="55.00" x2="455.95" y2="65.90" stroke="#0c0c0c" stroke-width="0.55" />
<line x1="456.82" y1="55.00" x2="456.82" y2="65.90" stroke="#555" stroke-width="0.55" />
<line x1="457.60" y1="55.00" x2="457.60" y2="65.90" stroke="#0c0c0c" stroke-width="0.55" />
<line x1="458.32" y1="55.00" x2="458.32" y2="65.90" stroke="#0c0c0c" stroke-width="0.55" />
<line x1="459.10" y1="55.00" x2="459.10" y2="65.90" stroke="#0c0c0c" stroke-width="0.55" />
<line x1="460.06" y1="55.00" x2="460.06" y2="65.90" stroke="#555" stroke-width="0.55" />
<line x1="460.56" y1="55.00" x2="460.56" y2="65.90" stroke="#0c0c0c" stroke-width="0.55" />
<line x1="428.60" y1="55.10" x2="428.60" y2="65.80" stroke="#555" stroke-width="0.35" />
<line x1="466.80" y1="55.10" x2="466.80" y2="65.80" stroke="#555" stroke-width="0.35" />
<linearGradient id="cb2" x1="0" x2="1" y1="0" y2="0"><stop offset="0" stop-color="#f02020"/><stop offset="0.171" stop-color="#e83838"/><stop offset="0.214" stop-color="#e07090"/><stop offset="0.244" stop-color="#f0b4ea"/><stop offset="0.743" stop-color="#f0b8ea"/><stop offset="0.748" stop-color="#c8c8f0"/><stop offset="0.923" stop-color="#b8b8f2"/><stop offset="0.933" stop-color="#3838f0"/><stop offset="0.985" stop-color="#1010e8"/><stop offset="0.986" stop-color="#ffffff"/><stop offset="1" stop-color="#ffffff"/></linearGradient>
<rect x="381.60" y="66.00" width="86.40" height="2.50" fill="url(#cb2)" />
<rect x="381.60" y="69.20" width="86.40" height="21.20" fill="#fff" />
<line x1="381.60" y1="69.20" x2="381.60" y2="90.40" stroke="#999" stroke-width="0.35" />
<line x1="381.60" y1="90.40" x2="468.00" y2="90.40" stroke="#bbb" stroke-width="0.35" />
<line x1="396.50" y1="69.20" x2="396.50" y2="90.40" stroke="#ebebeb" stroke-width="0.35" />
<line x1="411.39" y1="69.20" x2="411.39" y2="90.40" stroke="#ebebeb" stroke-width="0.35" />
<line x1="426.29" y1="69.20" x2="426.29" y2="90.40" stroke="#ebebeb" stroke-width="0.35" />
<line x1="441.19" y1="69.20" x2="441.19" y2="90.40" stroke="#ebebeb" stroke-width="0.35" />
<line x1="456.08" y1="69.20" x2="456.08" y2="90.40" stroke="#ebebeb" stroke-width="0.35" />
<line x1="381.60" y1="74.20" x2="468.00" y2="74.20" stroke="#f0f0f0" stroke-width="0.3" />
<text x="380.20" y="75.10" font-size="2.6" text-anchor="end" font-weight="normal" fill="#333" font-family="'Liberation Sans',sans-serif"  style="">10</text>
<line x1="381.60" y1="81.00" x2="468.00" y2="81.00" stroke="#f0f0f0" stroke-width="0.3" />
<text x="380.20" y="81.90" font-size="2.6" text-anchor="end" font-weight="normal" fill="#333" font-family="'Liberation Sans',sans-serif"  style="">0</text>
<line x1="381.60" y1="87.80" x2="468.00" y2="87.80" stroke="#f0f0f0" stroke-width="0.3" />
<text x="380.20" y="88.70" font-size="2.6" text-anchor="end" font-weight="normal" fill="#333" font-family="'Liberation Sans',sans-serif"  style="">-10</text>
<text x="382.40" y="70.60" font-size="2.2" text-anchor="start" font-weight="normal" fill="#e02020" font-family="'Liberation Sans',sans-serif" textLength="28.5" lengthAdjust="spacingAndGlyphs"  style="">na_pos (positively correlated)</text>
<text x="427.13" y="89.30" font-size="2.2" text-anchor="start" font-weight="normal" fill="#2020e0" font-family="'Liberation Sans',sans-serif" textLength="30.7" lengthAdjust="spacingAndGlyphs"  style="">na_neg (negatively correlated)</text>
<path d="M381.60,81.00 L381.60,76.80 C383.60,79.50 386.60,80.70 395.42,81.00 Z" fill="#b0b0b0"/>
<path d="M443.81,81.00 L466.70,81.00 L466.70,89.50 C465.20,83.50 458.70,81.80 443.81,81.00 Z" fill="#b0b0b0"/>
<text x="395.72" y="81.10" font-size="2.2" text-anchor="start" font-weight="normal" fill="#333" font-family="'Liberation Sans',sans-serif" textLength="16.4" lengthAdjust="spacingAndGlyphs"  style="">Zero cross at 16918</text>
<text x="0" y="0" font-size="2.6" fill="#222" font-family="'Liberation Sans',sans-serif" text-anchor="middle" transform="translate(374.20,79.45) rotate(-90)">Ranked list metric (PreRanked)</text>
<text x="381.60" y="94.20" font-size="2.5" text-anchor="middle" font-weight="normal" fill="#333" font-family="'Liberation Sans',sans-serif"  style="">0</text>
<text x="396.57" y="94.20" font-size="2.5" text-anchor="middle" font-weight="normal" fill="#333" font-family="'Liberation Sans',sans-serif"  style="">10,000</text>
<text x="411.54" y="94.20" font-size="2.5" text-anchor="middle" font-weight="normal" fill="#333" font-family="'Liberation Sans',sans-serif"  style="">20,000</text>
<text x="426.51" y="94.20" font-size="2.5" text-anchor="middle" font-weight="normal" fill="#333" font-family="'Liberation Sans',sans-serif"  style="">30,000</text>
<text x="441.48" y="94.20" font-size="2.5" text-anchor="middle" font-weight="normal" fill="#333" font-family="'Liberation Sans',sans-serif"  style="">40,000</text>
<text x="456.46" y="94.20" font-size="2.5" text-anchor="middle" font-weight="normal" fill="#333" font-family="'Liberation Sans',sans-serif"  style="">50,000</text>
<text x="424.80" y="97.50" font-size="2.8" text-anchor="middle" font-weight="normal" fill="#222" font-family="'Liberation Sans',sans-serif" textLength="28.5" lengthAdjust="spacingAndGlyphs"  style="">Rank in Ordered Dataset</text>
<rect x="385.30" y="100.00" width="71.90" height="4.60" fill="#fff" stroke="#666" stroke-width="0.4"/>
<line x1="386.20" y1="102.30" x2="389.30" y2="102.30" stroke="#3cf01c" stroke-width="0.9" />
<text x="389.70" y="103.30" font-size="2.8" text-anchor="start" font-weight="normal" fill="#222" font-family="'Liberation Sans',sans-serif" textLength="19.1" lengthAdjust="spacingAndGlyphs"  style="">Enrichment profile</text>
<line x1="411.90" y1="102.30" x2="415.50" y2="102.30" stroke="#444" stroke-width="0.4" />
<text x="415.86" y="103.30" font-size="2.8" text-anchor="start" font-weight="normal" fill="#222" font-family="'Liberation Sans',sans-serif"  style="">Hits</text>
<line x1="424.85" y1="102.30" x2="427.72" y2="102.30" stroke="#aaa" stroke-width="0.4" />
<text x="428.44" y="103.30" font-size="2.8" text-anchor="start" font-weight="normal" fill="#222" font-family="'Liberation Sans',sans-serif" textLength="23.7" lengthAdjust="spacingAndGlyphs"  style="">Ranking metric scores</text>
<rect x="262.80" y="111.20" width="101.40" height="103.20" fill="#efefef" />
<text x="273.30" y="114.95" font-size="4.0" text-anchor="start" font-weight="bold" fill="#000" font-family="'Liberation Sans',sans-serif" textLength="83.5" lengthAdjust="spacingAndGlyphs"  style="">Enrichment plot: HALLMARK_ANGIOGENESIS</text>
<rect x="275.60" y="116.20" width="88.40" height="39.40" fill="#fff" />
<line x1="290.84" y1="116.20" x2="290.84" y2="155.60" stroke="#ebebeb" stroke-width="0.35" />
<line x1="306.08" y1="116.20" x2="306.08" y2="155.60" stroke="#ebebeb" stroke-width="0.35" />
<line x1="321.32" y1="116.20" x2="321.32" y2="155.60" stroke="#ebebeb" stroke-width="0.35" />
<line x1="336.57" y1="116.20" x2="336.57" y2="155.60" stroke="#ebebeb" stroke-width="0.35" />
<line x1="351.81" y1="116.20" x2="351.81" y2="155.60" stroke="#ebebeb" stroke-width="0.35" />
<line x1="275.60" y1="119.20" x2="364.00" y2="119.20" stroke="#ebebeb" stroke-width="0.35" />
<text x="274.60" y="120.05" font-size="2.4" text-anchor="end" font-weight="normal" fill="#222" font-family="'Liberation Sans',sans-serif"  style="">0.55</text>
<line x1="275.60" y1="125.10" x2="364.00" y2="125.10" stroke="#ebebeb" stroke-width="0.35" />
<text x="274.60" y="125.95" font-size="2.4" text-anchor="end" font-weight="normal" fill="#222" font-family="'Liberation Sans',sans-serif"  style="">0.45</text>
<line x1="275.60" y1="131.00" x2="364.00" y2="131.00" stroke="#ebebeb" stroke-width="0.35" />
<text x="274.60" y="131.85" font-size="2.4" text-anchor="end" font-weight="normal" fill="#222" font-family="'Liberation Sans',sans-serif"  style="">0.35</text>
<line x1="275.60" y1="136.90" x2="364.00" y2="136.90" stroke="#ebebeb" stroke-width="0.35" />
<text x="274.60" y="137.75" font-size="2.4" text-anchor="end" font-weight="normal" fill="#222" font-family="'Liberation Sans',sans-serif"  style="">0.25</text>
<line x1="275.60" y1="142.80" x2="364.00" y2="142.80" stroke="#ebebeb" stroke-width="0.35" />
<text x="274.60" y="143.65" font-size="2.4" text-anchor="end" font-weight="normal" fill="#222" font-family="'Liberation Sans',sans-serif"  style="">0.15</text>
<line x1="275.60" y1="148.70" x2="364.00" y2="148.70" stroke="#ebebeb" stroke-width="0.35" />
<text x="274.60" y="149.55" font-size="2.4" text-anchor="end" font-weight="normal" fill="#222" font-family="'Liberation Sans',sans-serif"  style="">0.05</text>
<line x1="275.60" y1="154.60" x2="364.00" y2="154.60" stroke="#ebebeb" stroke-width="0.35" />
<text x="274.60" y="155.45" font-size="2.4" text-anchor="end" font-weight="normal" fill="#222" font-family="'Liberation Sans',sans-serif"  style="">-0.05</text>
<line x1="275.60" y1="152.60" x2="364.00" y2="152.60" stroke="#9a9a9a" stroke-width="0.4" />
<line x1="275.60" y1="116.20" x2="275.60" y2="155.60" stroke="#999" stroke-width="0.35" />
<text x="0" y="0" font-size="2.7" fill="#222" font-family="'Liberation Sans',sans-serif" text-anchor="middle" transform="translate(268.20,135.90) rotate(-90)">Enrichment score (ES)</text>
<polyline points="275.60,152.60 276.00,147.00 277.00,147.50 277.60,146.00 278.20,144.50 279.50,144.80 280.30,140.00 280.60,134.00 281.50,130.00 281.80,125.30 283.00,124.50 284.00,122.00 285.00,119.60 287.00,120.30 289.00,121.00 292.50,121.30 351.00,154.20 352.00,151.00 353.50,148.00 357.00,150.00 360.80,152.60" fill="none" stroke="#3cf01c" stroke-width="1.0" stroke-linejoin="round" stroke-linecap="round"/>
<text x="321.40" y="124.90" font-size="5.9" text-anchor="start" font-weight="bold" fill="#000" font-family="'Liberation Serif',serif" textLength="21.7" lengthAdjust="spacingAndGlyphs"  style="">NES=1.28</text>
<text x="321.40" y="131.60" font-size="5.9" text-anchor="start" font-weight="bold" fill="#000" font-family="'Liberation Serif',serif" textLength="42.1" lengthAdjust="spacingAndGlyphs"  style="">FDR q-value=0.157</text>
<rect x="275.60" y="157.20" width="88.40" height="12.80" fill="#fff" />
<line x1="275.60" y1="157.20" x2="275.60" y2="170.00" stroke="#999" stroke-width="0.35" />
<line x1="275.80" y1="157.30" x2="275.80" y2="169.90" stroke="#0c0c0c" stroke-width="0.55" />
<line x1="276.61" y1="157.30" x2="276.61" y2="169.90" stroke="#a8a8a8" stroke-width="0.55" />
<line x1="279.00" y1="157.30" x2="279.00" y2="169.90" stroke="#0c0c0c" stroke-width="0.55" />
<line x1="279.54" y1="157.30" x2="279.54" y2="169.90" stroke="#0c0c0c" stroke-width="0.55" />
<line x1="280.07" y1="157.30" x2="280.07" y2="169.90" stroke="#555" stroke-width="0.55" />
<line x1="280.55" y1="157.30" x2="280.55" y2="169.90" stroke="#0c0c0c" stroke-width="0.55" />
<line x1="281.08" y1="157.30" x2="281.08" y2="169.90" stroke="#0c0c0c" stroke-width="0.55" />
<line x1="281.74" y1="157.30" x2="281.74" y2="169.90" stroke="#a8a8a8" stroke-width="0.55" />
<line x1="282.50" y1="157.30" x2="282.50" y2="169.90" stroke="#0c0c0c" stroke-width="0.55" />
<line x1="283.07" y1="157.30" x2="283.07" y2="169.90" stroke="#0c0c0c" stroke-width="0.55" />
<line x1="283.99" y1="157.30" x2="283.99" y2="169.90" stroke="#a8a8a8" stroke-width="0.55" />
<line x1="284.88" y1="157.30" x2="284.88" y2="169.90" stroke="#a8a8a8" stroke-width="0.55" />
<line x1="285.72" y1="157.30" x2="285.72" y2="169.90" stroke="#a8a8a8" stroke-width="0.55" />
<line x1="286.60" y1="157.30" x2="286.60" y2="169.90" stroke="#0c0c0c" stroke-width="0.55" />
<line x1="289.00" y1="157.30" x2="289.00" y2="169.90" stroke="#0c0c0c" stroke-width="0.55" />
<line x1="289.85" y1="157.30" x2="289.85" y2="169.90" stroke="#555" stroke-width="0.55" />
<line x1="290.51" y1="157.30" x2="290.51" y2="169.90" stroke="#0c0c0c" stroke-width="0.55" />
<line x1="291.17" y1="157.30" x2="291.17" y2="169.90" stroke="#0c0c0c" stroke-width="0.55" />
<line x1="291.64" y1="157.30" x2="291.64" y2="169.90" stroke="#a8a8a8" stroke-width="0.55" />
<line x1="296.50" y1="157.40" x2="296.50" y2="169.80" stroke="#555" stroke-width="0.35" />
<line x1="345.00" y1="157.40" x2="345.00" y2="169.80" stroke="#555" stroke-width="0.35" />
<line x1="346.00" y1="157.40" x2="346.00" y2="169.80" stroke="#555" stroke-width="0.35" />
<line x1="351.50" y1="157.40" x2="351.50" y2="169.80" stroke="#555" stroke-width="0.35" />
<line x1="352.20" y1="157.40" x2="352.20" y2="169.80" stroke="#555" stroke-width="0.35" />
<line x1="353.00" y1="157.40" x2="353.00" y2="169.80" stroke="#555" stroke-width="0.35" />
<linearGradient id="cb3" x1="0" x2="1" y1="0" y2="0"><stop offset="0" stop-color="#f02020"/><stop offset="0.148" stop-color="#e83838"/><stop offset="0.185" stop-color="#e07090"/><stop offset="0.215" stop-color="#f0b4ea"/><stop offset="0.764" stop-color="#f0b8ea"/><stop offset="0.769" stop-color="#c8c8f0"/><stop offset="0.913" stop-color="#b8b8f2"/><stop offset="0.923" stop-color="#3838f0"/><stop offset="0.964" stop-color="#1010e8"/><stop offset="0.965" stop-color="#ffffff"/><stop offset="1" stop-color="#ffffff"/></linearGradient>
<rect x="275.60" y="170.00" width="88.40" height="3.40" fill="url(#cb3)" />
<rect x="275.60" y="173.80" width="88.40" height="25.20" fill="#fff" />
<line x1="275.60" y1="173.80" x2="275.60" y2="199.00" stroke="#999" stroke-width="0.35" />
<line x1="275.60" y1="199.00" x2="364.00" y2="199.00" stroke="#bbb" stroke-width="0.35" />
<line x1="290.84" y1="173.80" x2="290.84" y2="199.00" stroke="#ebebeb" stroke-width="0.35" />
<line x1="306.08" y1="173.80" x2="306.08" y2="199.00" stroke="#ebebeb" stroke-width="0.35" />
<line x1="321.32" y1="173.80" x2="321.32" y2="199.00" stroke="#ebebeb" stroke-width="0.35" />
<line x1="336.57" y1="173.80" x2="336.57" y2="199.00" stroke="#ebebeb" stroke-width="0.35" />
<line x1="351.81" y1="173.80" x2="351.81" y2="199.00" stroke="#ebebeb" stroke-width="0.35" />
<line x1="275.60" y1="178.00" x2="364.00" y2="178.00" stroke="#f0f0f0" stroke-width="0.3" />
<text x="274.20" y="178.90" font-size="2.6" text-anchor="end" font-weight="normal" fill="#333" font-family="'Liberation Sans',sans-serif"  style="">10</text>
<line x1="275.60" y1="184.80" x2="364.00" y2="184.80" stroke="#f0f0f0" stroke-width="0.3" />
<text x="274.20" y="185.70" font-size="2.6" text-anchor="end" font-weight="normal" fill="#333" font-family="'Liberation Sans',sans-serif"  style="">0</text>
<line x1="275.60" y1="191.60" x2="364.00" y2="191.60" stroke="#f0f0f0" stroke-width="0.3" />
<text x="274.20" y="192.50" font-size="2.6" text-anchor="end" font-weight="normal" fill="#333" font-family="'Liberation Sans',sans-serif"  style="">-10</text>
<text x="276.40" y="175.50" font-size="2.2" text-anchor="start" font-weight="normal" fill="#e02020" font-family="'Liberation Sans',sans-serif" textLength="29.2" lengthAdjust="spacingAndGlyphs"  style="">na_pos (positively correlated)</text>
<text x="322.19" y="197.90" font-size="2.2" text-anchor="start" font-weight="normal" fill="#2020e0" font-family="'Liberation Sans',sans-serif" textLength="31.4" lengthAdjust="spacingAndGlyphs"  style="">na_neg (negatively correlated)</text>
<path d="M275.60,184.80 L275.60,180.60 C277.60,183.30 280.60,184.50 289.74,184.80 Z" fill="#b0b0b0"/>
<path d="M339.25,184.80 L360.82,184.80 L360.82,193.30 C359.32,187.30 352.82,185.60 339.25,184.80 Z" fill="#b0b0b0"/>
<text x="290.04" y="184.90" font-size="2.2" text-anchor="start" font-weight="normal" fill="#333" font-family="'Liberation Sans',sans-serif" textLength="16.8" lengthAdjust="spacingAndGlyphs"  style="">Zero cross at 16918</text>
<text x="0" y="0" font-size="2.6" fill="#222" font-family="'Liberation Sans',sans-serif" text-anchor="middle" transform="translate(268.20,186.20) rotate(-90)">Ranked list metric (PreRanked)</text>
<text x="275.60" y="202.80" font-size="2.5" text-anchor="middle" font-weight="normal" fill="#333" font-family="'Liberation Sans',sans-serif"  style="">0</text>
<text x="290.92" y="202.80" font-size="2.5" text-anchor="middle" font-weight="normal" fill="#333" font-family="'Liberation Sans',sans-serif"  style="">10,000</text>
<text x="306.24" y="202.80" font-size="2.5" text-anchor="middle" font-weight="normal" fill="#333" font-family="'Liberation Sans',sans-serif"  style="">20,000</text>
<text x="321.55" y="202.80" font-size="2.5" text-anchor="middle" font-weight="normal" fill="#333" font-family="'Liberation Sans',sans-serif"  style="">30,000</text>
<text x="336.87" y="202.80" font-size="2.5" text-anchor="middle" font-weight="normal" fill="#333" font-family="'Liberation Sans',sans-serif"  style="">40,000</text>
<text x="352.19" y="202.80" font-size="2.5" text-anchor="middle" font-weight="normal" fill="#333" font-family="'Liberation Sans',sans-serif"  style="">50,000</text>
<text x="319.80" y="206.40" font-size="2.8" text-anchor="middle" font-weight="normal" fill="#222" font-family="'Liberation Sans',sans-serif" textLength="29.2" lengthAdjust="spacingAndGlyphs"  style="">Rank in Ordered Dataset</text>
<rect x="279.00" y="209.60" width="70.00" height="4.00" fill="#fff" stroke="#666" stroke-width="0.4"/>
<line x1="279.90" y1="211.60" x2="283.00" y2="211.60" stroke="#3cf01c" stroke-width="0.9" />
<text x="283.40" y="212.60" font-size="2.8" text-anchor="start" font-weight="normal" fill="#222" font-family="'Liberation Sans',sans-serif" textLength="18.6" lengthAdjust="spacingAndGlyphs"  style="">Enrichment profile</text>
<line x1="304.90" y1="211.60" x2="308.40" y2="211.60" stroke="#444" stroke-width="0.4" />
<text x="308.75" y="212.60" font-size="2.8" text-anchor="start" font-weight="normal" fill="#222" font-family="'Liberation Sans',sans-serif"  style="">Hits</text>
<line x1="317.50" y1="211.60" x2="320.30" y2="211.60" stroke="#aaa" stroke-width="0.4" />
<text x="321.00" y="212.60" font-size="2.8" text-anchor="start" font-weight="normal" fill="#222" font-family="'Liberation Sans',sans-serif" textLength="23.1" lengthAdjust="spacingAndGlyphs"  style="">Ranking metric scores</text>
<rect x="367.70" y="111.00" width="103.70" height="104.00" fill="#efefef" />
<text x="404.00" y="115.05" font-size="4.0" text-anchor="start" font-weight="bold" fill="#000" font-family="'Liberation Sans',sans-serif" textLength="30.5" lengthAdjust="spacingAndGlyphs"  style="">Enrichment plot:</text>
<text x="369.00" y="120.55" font-size="4.0" text-anchor="start" font-weight="bold" fill="#000" font-family="'Liberation Sans',sans-serif" textLength="101.6" lengthAdjust="spacingAndGlyphs"  style="">HALLMARK_EPITHELIAL_MESENCHYMAL_TRANSITION</text>
<rect x="380.60" y="123.60" width="89.20" height="36.00" fill="#fff" />
<line x1="395.98" y1="123.60" x2="395.98" y2="159.60" stroke="#ebebeb" stroke-width="0.35" />
<line x1="411.36" y1="123.60" x2="411.36" y2="159.60" stroke="#ebebeb" stroke-width="0.35" />
<line x1="426.74" y1="123.60" x2="426.74" y2="159.60" stroke="#ebebeb" stroke-width="0.35" />
<line x1="442.12" y1="123.60" x2="442.12" y2="159.60" stroke="#ebebeb" stroke-width="0.35" />
<line x1="457.50" y1="123.60" x2="457.50" y2="159.60" stroke="#ebebeb" stroke-width="0.35" />
<line x1="380.60" y1="126.60" x2="469.80" y2="126.60" stroke="#ebebeb" stroke-width="0.35" />
<text x="379.60" y="127.45" font-size="2.4" text-anchor="end" font-weight="normal" fill="#222" font-family="'Liberation Sans',sans-serif"  style="">0.5</text>
<line x1="380.60" y1="131.93" x2="469.80" y2="131.93" stroke="#ebebeb" stroke-width="0.35" />
<text x="379.60" y="132.78" font-size="2.4" text-anchor="end" font-weight="normal" fill="#222" font-family="'Liberation Sans',sans-serif"  style="">0.4</text>
<line x1="380.60" y1="137.27" x2="469.80" y2="137.27" stroke="#ebebeb" stroke-width="0.35" />
<text x="379.60" y="138.12" font-size="2.4" text-anchor="end" font-weight="normal" fill="#222" font-family="'Liberation Sans',sans-serif"  style="">0.3</text>
<line x1="380.60" y1="142.60" x2="469.80" y2="142.60" stroke="#ebebeb" stroke-width="0.35" />
<text x="379.60" y="143.45" font-size="2.4" text-anchor="end" font-weight="normal" fill="#222" font-family="'Liberation Sans',sans-serif"  style="">0.2</text>
<line x1="380.60" y1="147.93" x2="469.80" y2="147.93" stroke="#ebebeb" stroke-width="0.35" />
<text x="379.60" y="148.78" font-size="2.4" text-anchor="end" font-weight="normal" fill="#222" font-family="'Liberation Sans',sans-serif"  style="">0.1</text>
<line x1="380.60" y1="153.27" x2="469.80" y2="153.27" stroke="#ebebeb" stroke-width="0.35" />
<text x="379.60" y="154.12" font-size="2.4" text-anchor="end" font-weight="normal" fill="#222" font-family="'Liberation Sans',sans-serif"  style="">0.0</text>
<line x1="380.60" y1="158.60" x2="469.80" y2="158.60" stroke="#ebebeb" stroke-width="0.35" />
<text x="379.60" y="159.45" font-size="2.4" text-anchor="end" font-weight="normal" fill="#222" font-family="'Liberation Sans',sans-serif"  style="">-0.1</text>
<line x1="380.60" y1="153.30" x2="469.80" y2="153.30" stroke="#9a9a9a" stroke-width="0.4" />
<line x1="380.60" y1="123.60" x2="380.60" y2="159.60" stroke="#999" stroke-width="0.35" />
<text x="0" y="0" font-size="2.7" fill="#222" font-family="'Liberation Sans',sans-serif" text-anchor="middle" transform="translate(373.20,141.60) rotate(-90)">Enrichment score (ES)</text>
<polyline points="380.60,153.20 380.90,147.60 383.00,147.60 383.80,143.10 385.40,142.60 386.50,137.50 388.70,130.70 390.50,128.20 392.10,126.70 394.00,125.50 395.50,125.10 397.50,125.40 398.80,125.90 444.90,155.90 448.30,157.20 456.10,157.20 458.50,155.00 461.10,150.90 462.50,152.20 464.00,153.60 466.90,153.20" fill="none" stroke="#3cf01c" stroke-width="1.0" stroke-linejoin="round" stroke-linecap="round"/>
<text x="417.40" y="129.00" font-size="5.9" text-anchor="start" font-weight="bold" fill="#000" font-family="'Liberation Serif',serif" textLength="21.6" lengthAdjust="spacingAndGlyphs"  style="">NES=1.35</text>
<text x="417.40" y="134.90" font-size="5.9" text-anchor="start" font-weight="bold" fill="#000" font-family="'Liberation Serif',serif" textLength="41.6" lengthAdjust="spacingAndGlyphs"  style="">FDR q-value=0.051</text>
<rect x="380.60" y="160.00" width="89.20" height="12.10" fill="#fff" />
<line x1="380.60" y1="160.00" x2="380.60" y2="172.10" stroke="#999" stroke-width="0.35" />
<line x1="380.20" y1="160.10" x2="380.20" y2="172.00" stroke="#0c0c0c" stroke-width="0.55" />
<line x1="381.02" y1="160.10" x2="381.02" y2="172.00" stroke="#0c0c0c" stroke-width="0.55" />
<line x1="381.99" y1="160.10" x2="381.99" y2="172.00" stroke="#0c0c0c" stroke-width="0.55" />
<line x1="382.54" y1="160.10" x2="382.54" y2="172.00" stroke="#555" stroke-width="0.55" />
<line x1="383.33" y1="160.10" x2="383.33" y2="172.00" stroke="#0c0c0c" stroke-width="0.55" />
<line x1="384.14" y1="160.10" x2="384.14" y2="172.00" stroke="#0c0c0c" stroke-width="0.55" />
<line x1="385.01" y1="160.10" x2="385.01" y2="172.00" stroke="#0c0c0c" stroke-width="0.55" />
<line x1="385.55" y1="160.10" x2="385.55" y2="172.00" stroke="#a8a8a8" stroke-width="0.55" />
<line x1="386.16" y1="160.10" x2="386.16" y2="172.00" stroke="#0c0c0c" stroke-width="0.55" />
<line x1="387.04" y1="160.10" x2="387.04" y2="172.00" stroke="#0c0c0c" stroke-width="0.55" />
<line x1="387.53" y1="160.10" x2="387.53" y2="172.00" stroke="#0c0c0c" stroke-width="0.55" />
<line x1="388.33" y1="160.10" x2="388.33" y2="172.00" stroke="#0c0c0c" stroke-width="0.55" />
<line x1="389.12" y1="160.10" x2="389.12" y2="172.00" stroke="#0c0c0c" stroke-width="0.55" />
<line x1="389.72" y1="160.10" x2="389.72" y2="172.00" stroke="#0c0c0c" stroke-width="0.55" />
<line x1="390.25" y1="160.10" x2="390.25" y2="172.00" stroke="#a8a8a8" stroke-width="0.55" />
<line x1="390.89" y1="160.10" x2="390.89" y2="172.00" stroke="#a8a8a8" stroke-width="0.55" />
<line x1="391.55" y1="160.10" x2="391.55" y2="172.00" stroke="#0c0c0c" stroke-width="0.55" />
<line x1="392.48" y1="160.10" x2="392.48" y2="172.00" stroke="#0c0c0c" stroke-width="0.55" />
<line x1="392.94" y1="160.10" x2="392.94" y2="172.00" stroke="#0c0c0c" stroke-width="0.55" />
<line x1="393.72" y1="160.10" x2="393.72" y2="172.00" stroke="#0c0c0c" stroke-width="0.55" />
<line x1="394.18" y1="160.10" x2="394.18" y2="172.00" stroke="#555" stroke-width="0.55" />
<line x1="394.89" y1="160.10" x2="394.89" y2="172.00" stroke="#0c0c0c" stroke-width="0.55" />
<line x1="395.56" y1="160.10" x2="395.56" y2="172.00" stroke="#0c0c0c" stroke-width="0.55" />
<line x1="396.44" y1="160.10" x2="396.44" y2="172.00" stroke="#0c0c0c" stroke-width="0.55" />
<line x1="396.90" y1="160.10" x2="396.90" y2="172.00" stroke="#555" stroke-width="0.55" />
<line x1="397.35" y1="160.10" x2="397.35" y2="172.00" stroke="#0c0c0c" stroke-width="0.55" />
<line x1="397.77" y1="160.10" x2="397.77" y2="172.00" stroke="#555" stroke-width="0.55" />
<line x1="398.24" y1="160.10" x2="398.24" y2="172.00" stroke="#0c0c0c" stroke-width="0.55" />
<line x1="398.69" y1="160.10" x2="398.69" y2="172.00" stroke="#0c0c0c" stroke-width="0.55" />
<line x1="399.51" y1="160.10" x2="399.51" y2="172.00" stroke="#0c0c0c" stroke-width="0.55" />
<line x1="400.18" y1="160.10" x2="400.18" y2="172.00" stroke="#0c0c0c" stroke-width="0.55" />
<line x1="400.84" y1="160.10" x2="400.84" y2="172.00" stroke="#0c0c0c" stroke-width="0.55" />
<line x1="401.30" y1="160.10" x2="401.30" y2="172.00" stroke="#0c0c0c" stroke-width="0.55" />
<line x1="401.84" y1="160.10" x2="401.84" y2="172.00" stroke="#555" stroke-width="0.55" />
<line x1="402.80" y1="160.10" x2="402.80" y2="172.00" stroke="#0c0c0c" stroke-width="0.55" />
<line x1="403.29" y1="160.10" x2="403.29" y2="172.00" stroke="#555" stroke-width="0.55" />
<line x1="444.40" y1="160.10" x2="444.40" y2="172.00" stroke="#0c0c0c" stroke-width="0.55" />
<line x1="445.22" y1="160.10" x2="445.22" y2="172.00" stroke="#a8a8a8" stroke-width="0.55" />
<line x1="445.88" y1="160.10" x2="445.88" y2="172.00" stroke="#0c0c0c" stroke-width="0.55" />
<line x1="446.62" y1="160.10" x2="446.62" y2="172.00" stroke="#a8a8a8" stroke-width="0.55" />
<line x1="447.18" y1="160.10" x2="447.18" y2="172.00" stroke="#0c0c0c" stroke-width="0.55" />
<line x1="447.69" y1="160.10" x2="447.69" y2="172.00" stroke="#0c0c0c" stroke-width="0.55" />
<line x1="448.37" y1="160.10" x2="448.37" y2="172.00" stroke="#0c0c0c" stroke-width="0.55" />
<line x1="449.00" y1="160.10" x2="449.00" y2="172.00" stroke="#0c0c0c" stroke-width="0.55" />
<line x1="449.59" y1="160.10" x2="449.59" y2="172.00" stroke="#a8a8a8" stroke-width="0.55" />
<line x1="450.34" y1="160.10" x2="450.34" y2="172.00" stroke="#0c0c0c" stroke-width="0.55" />
<line x1="451.30" y1="160.10" x2="451.30" y2="172.00" stroke="#0c0c0c" stroke-width="0.55" />
<line x1="451.86" y1="160.10" x2="451.86" y2="172.00" stroke="#0c0c0c" stroke-width="0.55" />
<line x1="452.34" y1="160.10" x2="452.34" y2="172.00" stroke="#0c0c0c" stroke-width="0.55" />
<line x1="452.88" y1="160.10" x2="452.88" y2="172.00" stroke="#555" stroke-width="0.55" />
<line x1="453.44" y1="160.10" x2="453.44" y2="172.00" stroke="#0c0c0c" stroke-width="0.55" />
<line x1="454.20" y1="160.10" x2="454.20" y2="172.00" stroke="#a8a8a8" stroke-width="0.55" />
<line x1="454.78" y1="160.10" x2="454.78" y2="172.00" stroke="#555" stroke-width="0.55" />
<line x1="455.40" y1="160.10" x2="455.40" y2="172.00" stroke="#0c0c0c" stroke-width="0.55" />
<line x1="456.16" y1="160.10" x2="456.16" y2="172.00" stroke="#a8a8a8" stroke-width="0.55" />
<line x1="457.01" y1="160.10" x2="457.01" y2="172.00" stroke="#0c0c0c" stroke-width="0.55" />
<line x1="457.92" y1="160.10" x2="457.92" y2="172.00" stroke="#0c0c0c" stroke-width="0.55" />
<line x1="458.55" y1="160.10" x2="458.55" y2="172.00" stroke="#a8a8a8" stroke-width="0.55" />
<line x1="459.27" y1="160.10" x2="459.27" y2="172.00" stroke="#555" stroke-width="0.55" />
<line x1="459.86" y1="160.10" x2="459.86" y2="172.00" stroke="#a8a8a8" stroke-width="0.55" />
<line x1="460.63" y1="160.10" x2="460.63" y2="172.00" stroke="#0c0c0c" stroke-width="0.55" />
<line x1="461.59" y1="160.10" x2="461.59" y2="172.00" stroke="#0c0c0c" stroke-width="0.55" />
<line x1="462.19" y1="160.10" x2="462.19" y2="172.00" stroke="#0c0c0c" stroke-width="0.55" />
<line x1="462.66" y1="160.10" x2="462.66" y2="172.00" stroke="#0c0c0c" stroke-width="0.55" />
<line x1="465.60" y1="160.20" x2="465.60" y2="171.90" stroke="#555" stroke-width="0.35" />
<linearGradient id="cb4" x1="0" x2="1" y1="0" y2="0"><stop offset="0" stop-color="#f02020"/><stop offset="0.170" stop-color="#e83838"/><stop offset="0.212" stop-color="#e07090"/><stop offset="0.242" stop-color="#f0b4ea"/><stop offset="0.714" stop-color="#f0b8ea"/><stop offset="0.719" stop-color="#c8c8f0"/><stop offset="0.915" stop-color="#b8b8f2"/><stop offset="0.925" stop-color="#3838f0"/><stop offset="0.959" stop-color="#1010e8"/><stop offset="0.960" stop-color="#ffffff"/><stop offset="1" stop-color="#ffffff"/></linearGradient>
<rect x="380.60" y="172.10" width="89.20" height="2.80" fill="url(#cb4)" />
<rect x="380.60" y="175.00" width="89.20" height="24.50" fill="#fff" />
<line x1="380.60" y1="175.00" x2="380.60" y2="199.50" stroke="#999" stroke-width="0.35" />
<line x1="380.60" y1="199.50" x2="469.80" y2="199.50" stroke="#bbb" stroke-width="0.35" />
<line x1="395.98" y1="175.00" x2="395.98" y2="199.50" stroke="#ebebeb" stroke-width="0.35" />
<line x1="411.36" y1="175.00" x2="411.36" y2="199.50" stroke="#ebebeb" stroke-width="0.35" />
<line x1="426.74" y1="175.00" x2="426.74" y2="199.50" stroke="#ebebeb" stroke-width="0.35" />
<line x1="442.12" y1="175.00" x2="442.12" y2="199.50" stroke="#ebebeb" stroke-width="0.35" />
<line x1="457.50" y1="175.00" x2="457.50" y2="199.50" stroke="#ebebeb" stroke-width="0.35" />
<line x1="380.60" y1="182.00" x2="469.80" y2="182.00" stroke="#f0f0f0" stroke-width="0.3" />
<text x="379.20" y="182.90" font-size="2.6" text-anchor="end" font-weight="normal" fill="#333" font-family="'Liberation Sans',sans-serif"  style="">10</text>
<line x1="380.60" y1="188.80" x2="469.80" y2="188.80" stroke="#f0f0f0" stroke-width="0.3" />
<text x="379.20" y="189.70" font-size="2.6" text-anchor="end" font-weight="normal" fill="#333" font-family="'Liberation Sans',sans-serif"  style="">0</text>
<line x1="380.60" y1="195.60" x2="469.80" y2="195.60" stroke="#f0f0f0" stroke-width="0.3" />
<text x="379.20" y="196.50" font-size="2.6" text-anchor="end" font-weight="normal" fill="#333" font-family="'Liberation Sans',sans-serif"  style="">-10</text>
<text x="381.40" y="177.00" font-size="2.2" text-anchor="start" font-weight="normal" fill="#e02020" font-family="'Liberation Sans',sans-serif" textLength="29.4" lengthAdjust="spacingAndGlyphs"  style="">na_pos (positively correlated)</text>
<text x="427.61" y="198.40" font-size="2.2" text-anchor="start" font-weight="normal" fill="#2020e0" font-family="'Liberation Sans',sans-serif" textLength="31.7" lengthAdjust="spacingAndGlyphs"  style="">na_neg (negatively correlated)</text>
<path d="M380.60,188.80 L380.60,184.60 C382.60,187.30 385.60,188.50 394.87,188.80 Z" fill="#b0b0b0"/>
<path d="M444.82,188.80 L466.14,188.80 L466.14,197.30 C464.64,191.30 458.14,189.60 444.82,188.80 Z" fill="#b0b0b0"/>
<text x="395.17" y="188.90" font-size="2.2" text-anchor="start" font-weight="normal" fill="#333" font-family="'Liberation Sans',sans-serif" textLength="16.9" lengthAdjust="spacingAndGlyphs"  style="">Zero cross at 16918</text>
<text x="0" y="0" font-size="2.6" fill="#222" font-family="'Liberation Sans',sans-serif" text-anchor="middle" transform="translate(373.20,187.20) rotate(-90)">Ranked list metric (PreRanked)</text>
<text x="380.60" y="203.20" font-size="2.5" text-anchor="middle" font-weight="normal" fill="#333" font-family="'Liberation Sans',sans-serif"  style="">0</text>
<text x="396.06" y="203.20" font-size="2.5" text-anchor="middle" font-weight="normal" fill="#333" font-family="'Liberation Sans',sans-serif"  style="">10,000</text>
<text x="411.51" y="203.20" font-size="2.5" text-anchor="middle" font-weight="normal" fill="#333" font-family="'Liberation Sans',sans-serif"  style="">20,000</text>
<text x="426.97" y="203.20" font-size="2.5" text-anchor="middle" font-weight="normal" fill="#333" font-family="'Liberation Sans',sans-serif"  style="">30,000</text>
<text x="442.42" y="203.20" font-size="2.5" text-anchor="middle" font-weight="normal" fill="#333" font-family="'Liberation Sans',sans-serif"  style="">40,000</text>
<text x="457.88" y="203.20" font-size="2.5" text-anchor="middle" font-weight="normal" fill="#333" font-family="'Liberation Sans',sans-serif"  style="">50,000</text>
<text x="425.20" y="206.40" font-size="2.8" text-anchor="middle" font-weight="normal" fill="#222" font-family="'Liberation Sans',sans-serif" textLength="29.4" lengthAdjust="spacingAndGlyphs"  style="">Rank in Ordered Dataset</text>
<rect x="384.00" y="209.60" width="71.50" height="4.50" fill="#fff" stroke="#666" stroke-width="0.4"/>
<line x1="384.90" y1="211.85" x2="388.00" y2="211.85" stroke="#3cf01c" stroke-width="0.9" />
<text x="388.40" y="212.85" font-size="2.8" text-anchor="start" font-weight="normal" fill="#222" font-family="'Liberation Sans',sans-serif" textLength="18.9" lengthAdjust="spacingAndGlyphs"  style="">Enrichment profile</text>
<line x1="410.45" y1="211.85" x2="414.03" y2="211.85" stroke="#444" stroke-width="0.4" />
<text x="414.39" y="212.85" font-size="2.8" text-anchor="start" font-weight="normal" fill="#222" font-family="'Liberation Sans',sans-serif"  style="">Hits</text>
<line x1="423.32" y1="211.85" x2="426.19" y2="211.85" stroke="#aaa" stroke-width="0.4" />
<text x="426.90" y="212.85" font-size="2.8" text-anchor="start" font-weight="normal" fill="#222" font-family="'Liberation Sans',sans-serif" textLength="23.6" lengthAdjust="spacingAndGlyphs"  style="">Ranking metric scores</text>
<rect x="263.10" y="221.00" width="101.20" height="101.80" fill="#efefef" />
<text x="299.00" y="224.45" font-size="4.0" text-anchor="start" font-weight="bold" fill="#000" font-family="'Liberation Sans',sans-serif" textLength="28.9" lengthAdjust="spacingAndGlyphs"  style="">Enrichment plot:</text>
<text x="277.00" y="230.15" font-size="4.0" text-anchor="start" font-weight="bold" fill="#000" font-family="'Liberation Sans',sans-serif" textLength="74.5" lengthAdjust="spacingAndGlyphs"  style="">HALLMARK_INFLAMMATORY_RESPONSE</text>
<rect x="275.20" y="232.70" width="88.00" height="35.40" fill="#fff" />
<line x1="290.37" y1="232.70" x2="290.37" y2="268.10" stroke="#ebebeb" stroke-width="0.35" />
<line x1="305.54" y1="232.70" x2="305.54" y2="268.10" stroke="#ebebeb" stroke-width="0.35" />
<line x1="320.72" y1="232.70" x2="320.72" y2="268.10" stroke="#ebebeb" stroke-width="0.35" />
<line x1="335.89" y1="232.70" x2="335.89" y2="268.10" stroke="#ebebeb" stroke-width="0.35" />
<line x1="351.06" y1="232.70" x2="351.06" y2="268.10" stroke="#ebebeb" stroke-width="0.35" />
<line x1="275.20" y1="235.70" x2="363.20" y2="235.70" stroke="#ebebeb" stroke-width="0.35" />
<text x="274.20" y="236.55" font-size="2.4" text-anchor="end" font-weight="normal" fill="#222" font-family="'Liberation Sans',sans-serif"  style="">0.7</text>
<line x1="275.20" y1="240.19" x2="363.20" y2="240.19" stroke="#ebebeb" stroke-width="0.35" />
<text x="274.20" y="241.04" font-size="2.4" text-anchor="end" font-weight="normal" fill="#222" font-family="'Liberation Sans',sans-serif"  style="">0.6</text>
<line x1="275.20" y1="244.67" x2="363.20" y2="244.67" stroke="#ebebeb" stroke-width="0.35" />
<text x="274.20" y="245.52" font-size="2.4" text-anchor="end" font-weight="normal" fill="#222" font-family="'Liberation Sans',sans-serif"  style="">0.5</text>
<line x1="275.20" y1="249.16" x2="363.20" y2="249.16" stroke="#ebebeb" stroke-width="0.35" />
<text x="274.20" y="250.01" font-size="2.4" text-anchor="end" font-weight="normal" fill="#222" font-family="'Liberation Sans',sans-serif"  style="">0.4</text>
<line x1="275.20" y1="253.64" x2="363.20" y2="253.64" stroke="#ebebeb" stroke-width="0.35" />
<text x="274.20" y="254.49" font-size="2.4" text-anchor="end" font-weight="normal" fill="#222" font-family="'Liberation Sans',sans-serif"  style="">0.3</text>
<line x1="275.20" y1="258.13" x2="363.20" y2="258.13" stroke="#ebebeb" stroke-width="0.35" />
<text x="274.20" y="258.98" font-size="2.4" text-anchor="end" font-weight="normal" fill="#222" font-family="'Liberation Sans',sans-serif"  style="">0.2</text>
<line x1="275.20" y1="262.61" x2="363.20" y2="262.61" stroke="#ebebeb" stroke-width="0.35" />
<text x="274.20" y="263.46" font-size="2.4" text-anchor="end" font-weight="normal" fill="#222" font-family="'Liberation Sans',sans-serif"  style="">0.1</text>
<line x1="275.20" y1="267.10" x2="363.20" y2="267.10" stroke="#ebebeb" stroke-width="0.35" />
<text x="274.20" y="267.95" font-size="2.4" text-anchor="end" font-weight="normal" fill="#222" font-family="'Liberation Sans',sans-serif"  style="">0.0</text>
<line x1="275.20" y1="266.40" x2="363.20" y2="266.40" stroke="#9a9a9a" stroke-width="0.4" />
<line x1="275.20" y1="232.70" x2="275.20" y2="268.10" stroke="#999" stroke-width="0.35" />
<text x="0" y="0" font-size="2.7" fill="#222" font-family="'Liberation Sans',sans-serif" text-anchor="middle" transform="translate(267.80,250.40) rotate(-90)">Enrichment score (ES)</text>
<polyline points="275.20,266.40 276.50,261.60 277.30,258.00 278.00,254.30 279.50,254.30 280.50,243.90 282.00,237.50 283.50,235.50 285.30,234.50 288.50,234.50 292.00,235.30 296.50,236.70 310.00,243.00 322.20,250.30 335.00,257.50 346.30,263.20 352.00,264.80 359.20,266.40" fill="none" stroke="#3cf01c" stroke-width="1.0" stroke-linejoin="round" stroke-linecap="round"/>
<text x="318.20" y="240.30" font-size="5.9" text-anchor="start" font-weight="bold" fill="#000" font-family="'Liberation Serif',serif" textLength="22.5" lengthAdjust="spacingAndGlyphs"  style="">NES=1.87</text>
<text x="318.20" y="246.20" font-size="5.9" text-anchor="start" font-weight="bold" fill="#000" font-family="'Liberation Serif',serif" textLength="38.1" lengthAdjust="spacingAndGlyphs"  style="">FDR q-value=0.00</text>
<rect x="275.20" y="268.70" width="88.00" height="11.80" fill="#fff" />
<line x1="275.20" y1="268.70" x2="275.20" y2="280.50" stroke="#999" stroke-width="0.35" />
<line x1="275.50" y1="268.80" x2="275.50" y2="280.40" stroke="#a8a8a8" stroke-width="0.55" />
<line x1="275.91" y1="268.80" x2="275.91" y2="280.40" stroke="#a8a8a8" stroke-width="0.55" />
<line x1="276.40" y1="268.80" x2="276.40" y2="280.40" stroke="#a8a8a8" stroke-width="0.55" />
<line x1="276.81" y1="268.80" x2="276.81" y2="280.40" stroke="#a8a8a8" stroke-width="0.55" />
<line x1="277.62" y1="268.80" x2="277.62" y2="280.40" stroke="#a8a8a8" stroke-width="0.55" />
<line x1="278.62" y1="268.80" x2="278.62" y2="280.40" stroke="#0c0c0c" stroke-width="0.55" />
<line x1="279.22" y1="268.80" x2="279.22" y2="280.40" stroke="#a8a8a8" stroke-width="0.55" />
<line x1="279.79" y1="268.80" x2="279.79" y2="280.40" stroke="#0c0c0c" stroke-width="0.55" />
<line x1="280.33" y1="268.80" x2="280.33" y2="280.40" stroke="#a8a8a8" stroke-width="0.55" />
<rect x="280.00" y="268.80" width="15.50" height="11.60" fill="#0c0c0c" />
<line x1="281.70" y1="268.80" x2="281.70" y2="280.40" stroke="#777" stroke-width="0.32640962102420307" />
<line x1="285.01" y1="268.80" x2="285.01" y2="280.40" stroke="#444" stroke-width="0.3078464671543791" />
<line x1="287.45" y1="268.80" x2="287.45" y2="280.40" stroke="#444" stroke-width="0.372405342904775" />
<line x1="289.90" y1="268.80" x2="289.90" y2="280.40" stroke="#999" stroke-width="0.3598256121754939" />
<line x1="291.88" y1="268.80" x2="291.88" y2="280.40" stroke="#444" stroke-width="0.3512751064764127" />
<line x1="295.50" y1="268.80" x2="295.50" y2="280.40" stroke="#a8a8a8" stroke-width="0.55" />
<line x1="296.19" y1="268.80" x2="296.19" y2="280.40" stroke="#a8a8a8" stroke-width="0.55" />
<line x1="296.61" y1="268.80" x2="296.61" y2="280.40" stroke="#0c0c0c" stroke-width="0.55" />
<line x1="297.11" y1="268.80" x2="297.11" y2="280.40" stroke="#a8a8a8" stroke-width="0.55" />
<line x1="297.92" y1="268.80" x2="297.92" y2="280.40" stroke="#a8a8a8" stroke-width="0.55" />
<line x1="298.49" y1="268.80" x2="298.49" y2="280.40" stroke="#a8a8a8" stroke-width="0.55" />
<line x1="299.43" y1="268.80" x2="299.43" y2="280.40" stroke="#0c0c0c" stroke-width="0.55" />
<line x1="299.90" y1="268.80" x2="299.90" y2="280.40" stroke="#0c0c0c" stroke-width="0.55" />
<line x1="337.50" y1="268.80" x2="337.50" y2="280.40" stroke="#555" stroke-width="0.55" />
<line x1="338.23" y1="268.80" x2="338.23" y2="280.40" stroke="#0c0c0c" stroke-width="0.55" />
<line x1="338.93" y1="268.80" x2="338.93" y2="280.40" stroke="#0c0c0c" stroke-width="0.55" />
<line x1="339.90" y1="268.80" x2="339.90" y2="280.40" stroke="#0c0c0c" stroke-width="0.55" />
<line x1="340.44" y1="268.80" x2="340.44" y2="280.40" stroke="#0c0c0c" stroke-width="0.55" />
<line x1="341.34" y1="268.80" x2="341.34" y2="280.40" stroke="#0c0c0c" stroke-width="0.55" />
<line x1="342.28" y1="268.80" x2="342.28" y2="280.40" stroke="#0c0c0c" stroke-width="0.55" />
<line x1="342.95" y1="268.80" x2="342.95" y2="280.40" stroke="#0c0c0c" stroke-width="0.55" />
<line x1="343.89" y1="268.80" x2="343.89" y2="280.40" stroke="#555" stroke-width="0.55" />
<line x1="344.58" y1="268.80" x2="344.58" y2="280.40" stroke="#0c0c0c" stroke-width="0.55" />
<line x1="345.27" y1="268.80" x2="345.27" y2="280.40" stroke="#0c0c0c" stroke-width="0.55" />
<line x1="346.18" y1="268.80" x2="346.18" y2="280.40" stroke="#a8a8a8" stroke-width="0.55" />
<line x1="347.02" y1="268.80" x2="347.02" y2="280.40" stroke="#0c0c0c" stroke-width="0.55" />
<line x1="347.45" y1="268.80" x2="347.45" y2="280.40" stroke="#555" stroke-width="0.55" />
<line x1="348.41" y1="268.80" x2="348.41" y2="280.40" stroke="#0c0c0c" stroke-width="0.55" />
<line x1="349.11" y1="268.80" x2="349.11" y2="280.40" stroke="#0c0c0c" stroke-width="0.55" />
<line x1="350.10" y1="268.80" x2="350.10" y2="280.40" stroke="#0c0c0c" stroke-width="0.55" />
<line x1="350.53" y1="268.80" x2="350.53" y2="280.40" stroke="#555" stroke-width="0.55" />
<line x1="351.28" y1="268.80" x2="351.28" y2="280.40" stroke="#0c0c0c" stroke-width="0.55" />
<line x1="352.14" y1="268.80" x2="352.14" y2="280.40" stroke="#0c0c0c" stroke-width="0.55" />
<line x1="353.00" y1="268.80" x2="353.00" y2="280.40" stroke="#0c0c0c" stroke-width="0.55" />
<line x1="353.45" y1="268.80" x2="353.45" y2="280.40" stroke="#0c0c0c" stroke-width="0.55" />
<line x1="354.05" y1="268.80" x2="354.05" y2="280.40" stroke="#a8a8a8" stroke-width="0.55" />
<line x1="354.68" y1="268.80" x2="354.68" y2="280.40" stroke="#555" stroke-width="0.55" />
<line x1="355.45" y1="268.80" x2="355.45" y2="280.40" stroke="#a8a8a8" stroke-width="0.55" />
<line x1="356.21" y1="268.80" x2="356.21" y2="280.40" stroke="#555" stroke-width="0.55" />
<line x1="357.10" y1="268.80" x2="357.10" y2="280.40" stroke="#a8a8a8" stroke-width="0.55" />
<line x1="358.04" y1="268.80" x2="358.04" y2="280.40" stroke="#a8a8a8" stroke-width="0.55" />
<linearGradient id="cb5" x1="0" x2="1" y1="0" y2="0"><stop offset="0" stop-color="#f02020"/><stop offset="0.166" stop-color="#e83838"/><stop offset="0.208" stop-color="#e07090"/><stop offset="0.238" stop-color="#f0b4ea"/><stop offset="0.712" stop-color="#f0b8ea"/><stop offset="0.717" stop-color="#c8c8f0"/><stop offset="0.891" stop-color="#b8b8f2"/><stop offset="0.901" stop-color="#3838f0"/><stop offset="0.955" stop-color="#1010e8"/><stop offset="0.956" stop-color="#ffffff"/><stop offset="1" stop-color="#ffffff"/></linearGradient>
<rect x="275.20" y="280.50" width="88.00" height="2.90" fill="url(#cb5)" />
<rect x="275.20" y="283.70" width="88.00" height="23.30" fill="#fff" />
<line x1="275.20" y1="283.70" x2="275.20" y2="307.00" stroke="#999" stroke-width="0.35" />
<line x1="275.20" y1="307.00" x2="363.20" y2="307.00" stroke="#bbb" stroke-width="0.35" />
<line x1="290.37" y1="283.70" x2="290.37" y2="307.00" stroke="#ebebeb" stroke-width="0.35" />
<line x1="305.54" y1="283.70" x2="305.54" y2="307.00" stroke="#ebebeb" stroke-width="0.35" />
<line x1="320.72" y1="283.70" x2="320.72" y2="307.00" stroke="#ebebeb" stroke-width="0.35" />
<line x1="335.89" y1="283.70" x2="335.89" y2="307.00" stroke="#ebebeb" stroke-width="0.35" />
<line x1="351.06" y1="283.70" x2="351.06" y2="307.00" stroke="#ebebeb" stroke-width="0.35" />
<line x1="275.20" y1="289.80" x2="363.20" y2="289.80" stroke="#f0f0f0" stroke-width="0.3" />
<text x="273.80" y="290.70" font-size="2.6" text-anchor="end" font-weight="normal" fill="#333" font-family="'Liberation Sans',sans-serif"  style="">10</text>
<line x1="275.20" y1="296.60" x2="363.20" y2="296.60" stroke="#f0f0f0" stroke-width="0.3" />
<text x="273.80" y="297.50" font-size="2.6" text-anchor="end" font-weight="normal" fill="#333" font-family="'Liberation Sans',sans-serif"  style="">0</text>
<line x1="275.20" y1="303.40" x2="363.20" y2="303.40" stroke="#f0f0f0" stroke-width="0.3" />
<text x="273.80" y="304.30" font-size="2.6" text-anchor="end" font-weight="normal" fill="#333" font-family="'Liberation Sans',sans-serif"  style="">-10</text>
<text x="276.00" y="285.50" font-size="2.2" text-anchor="start" font-weight="normal" fill="#e02020" font-family="'Liberation Sans',sans-serif" textLength="29.0" lengthAdjust="spacingAndGlyphs"  style="">na_pos (positively correlated)</text>
<text x="321.58" y="305.90" font-size="2.2" text-anchor="start" font-weight="normal" fill="#2020e0" font-family="'Liberation Sans',sans-serif" textLength="31.2" lengthAdjust="spacingAndGlyphs"  style="">na_neg (negatively correlated)</text>
<path d="M275.20,296.60 L275.20,292.40 C277.20,295.10 280.20,296.30 289.28,296.60 Z" fill="#b0b0b0"/>
<path d="M338.56,296.60 L359.24,296.60 L359.24,305.10 C357.74,299.10 351.24,297.40 338.56,296.60 Z" fill="#b0b0b0"/>
<text x="289.58" y="296.70" font-size="2.2" text-anchor="start" font-weight="normal" fill="#333" font-family="'Liberation Sans',sans-serif" textLength="16.7" lengthAdjust="spacingAndGlyphs"  style="">Zero cross at 16918</text>
<text x="0" y="0" font-size="2.6" fill="#222" font-family="'Liberation Sans',sans-serif" text-anchor="middle" transform="translate(267.80,295.20) rotate(-90)">Ranked list metric (PreRanked)</text>
<text x="275.20" y="310.80" font-size="2.5" text-anchor="middle" font-weight="normal" fill="#333" font-family="'Liberation Sans',sans-serif"  style="">0</text>
<text x="290.45" y="310.80" font-size="2.5" text-anchor="middle" font-weight="normal" fill="#333" font-family="'Liberation Sans',sans-serif"  style="">10,000</text>
<text x="305.70" y="310.80" font-size="2.5" text-anchor="middle" font-weight="normal" fill="#333" font-family="'Liberation Sans',sans-serif"  style="">20,000</text>
<text x="320.94" y="310.80" font-size="2.5" text-anchor="middle" font-weight="normal" fill="#333" font-family="'Liberation Sans',sans-serif"  style="">30,000</text>
<text x="336.19" y="310.80" font-size="2.5" text-anchor="middle" font-weight="normal" fill="#333" font-family="'Liberation Sans',sans-serif"  style="">40,000</text>
<text x="351.44" y="310.80" font-size="2.5" text-anchor="middle" font-weight="normal" fill="#333" font-family="'Liberation Sans',sans-serif"  style="">50,000</text>
<text x="319.20" y="314.40" font-size="2.8" text-anchor="middle" font-weight="normal" fill="#222" font-family="'Liberation Sans',sans-serif" textLength="29.0" lengthAdjust="spacingAndGlyphs"  style="">Rank in Ordered Dataset</text>
<rect x="279.00" y="317.00" width="70.00" height="4.40" fill="#fff" stroke="#666" stroke-width="0.4"/>
<line x1="279.90" y1="319.20" x2="283.00" y2="319.20" stroke="#3cf01c" stroke-width="0.9" />
<text x="283.40" y="320.20" font-size="2.8" text-anchor="start" font-weight="normal" fill="#222" font-family="'Liberation Sans',sans-serif" textLength="18.6" lengthAdjust="spacingAndGlyphs"  style="">Enrichment profile</text>
<line x1="304.90" y1="319.20" x2="308.40" y2="319.20" stroke="#444" stroke-width="0.4" />
<text x="308.75" y="320.20" font-size="2.8" text-anchor="start" font-weight="normal" fill="#222" font-family="'Liberation Sans',sans-serif"  style="">Hits</text>
<line x1="317.50" y1="319.20" x2="320.30" y2="319.20" stroke="#aaa" stroke-width="0.4" />
<text x="321.00" y="320.20" font-size="2.8" text-anchor="start" font-weight="normal" fill="#222" font-family="'Liberation Sans',sans-serif" textLength="23.1" lengthAdjust="spacingAndGlyphs"  style="">Ranking metric scores</text>
<rect x="370.40" y="221.40" width="101.90" height="101.40" fill="#efefef" />
<text x="406.00" y="224.85" font-size="4.0" text-anchor="start" font-weight="bold" fill="#000" font-family="'Liberation Sans',sans-serif" textLength="30.2" lengthAdjust="spacingAndGlyphs"  style="">Enrichment plot:</text>
<text x="378.80" y="230.75" font-size="4.0" text-anchor="start" font-weight="bold" fill="#000" font-family="'Liberation Sans',sans-serif" textLength="85.9" lengthAdjust="spacingAndGlyphs"  style="">HALLMARK_INTERFERON_GAMMA_RESPONSE</text>
<rect x="382.00" y="233.10" width="87.40" height="34.90" fill="#fff" />
<line x1="397.07" y1="233.10" x2="397.07" y2="268.00" stroke="#ebebeb" stroke-width="0.35" />
<line x1="412.14" y1="233.10" x2="412.14" y2="268.00" stroke="#ebebeb" stroke-width="0.35" />
<line x1="427.21" y1="233.10" x2="427.21" y2="268.00" stroke="#ebebeb" stroke-width="0.35" />
<line x1="442.28" y1="233.10" x2="442.28" y2="268.00" stroke="#ebebeb" stroke-width="0.35" />
<line x1="457.34" y1="233.10" x2="457.34" y2="268.00" stroke="#ebebeb" stroke-width="0.35" />
<line x1="382.00" y1="236.10" x2="469.40" y2="236.10" stroke="#ebebeb" stroke-width="0.35" />
<text x="381.00" y="236.95" font-size="2.4" text-anchor="end" font-weight="normal" fill="#222" font-family="'Liberation Sans',sans-serif"  style="">0.7</text>
<line x1="382.00" y1="240.51" x2="469.40" y2="240.51" stroke="#ebebeb" stroke-width="0.35" />
<text x="381.00" y="241.36" font-size="2.4" text-anchor="end" font-weight="normal" fill="#222" font-family="'Liberation Sans',sans-serif"  style="">0.6</text>
<line x1="382.00" y1="244.93" x2="469.40" y2="244.93" stroke="#ebebeb" stroke-width="0.35" />
<text x="381.00" y="245.78" font-size="2.4" text-anchor="end" font-weight="normal" fill="#222" font-family="'Liberation Sans',sans-serif"  style="">0.5</text>
<line x1="382.00" y1="249.34" x2="469.40" y2="249.34" stroke="#ebebeb" stroke-width="0.35" />
<text x="381.00" y="250.19" font-size="2.4" text-anchor="end" font-weight="normal" fill="#222" font-family="'Liberation Sans',sans-serif"  style="">0.4</text>
<line x1="382.00" y1="253.76" x2="469.40" y2="253.76" stroke="#ebebeb" stroke-width="0.35" />
<text x="381.00" y="254.61" font-size="2.4" text-anchor="end" font-weight="normal" fill="#222" font-family="'Liberation Sans',sans-serif"  style="">0.3</text>
<line x1="382.00" y1="258.17" x2="469.40" y2="258.17" stroke="#ebebeb" stroke-width="0.35" />
<text x="381.00" y="259.02" font-size="2.4" text-anchor="end" font-weight="normal" fill="#222" font-family="'Liberation Sans',sans-serif"  style="">0.2</text>
<line x1="382.00" y1="262.59" x2="469.40" y2="262.59" stroke="#ebebeb" stroke-width="0.35" />
<text x="381.00" y="263.44" font-size="2.4" text-anchor="end" font-weight="normal" fill="#222" font-family="'Liberation Sans',sans-serif"  style="">0.1</text>
<line x1="382.00" y1="267.00" x2="469.40" y2="267.00" stroke="#ebebeb" stroke-width="0.35" />
<text x="381.00" y="267.85" font-size="2.4" text-anchor="end" font-weight="normal" fill="#222" font-family="'Liberation Sans',sans-serif"  style="">0.0</text>
<line x1="382.00" y1="267.00" x2="469.40" y2="267.00" stroke="#9a9a9a" stroke-width="0.4" />
<line x1="382.00" y1="233.10" x2="382.00" y2="268.00" stroke="#999" stroke-width="0.35" />
<text x="0" y="0" font-size="2.7" fill="#222" font-family="'Liberation Sans',sans-serif" text-anchor="middle" transform="translate(374.60,250.55) rotate(-90)">Enrichment score (ES)</text>
<polyline points="382.00,267.00 384.10,264.50 385.80,262.50 386.50,261.00 386.70,258.60 388.30,246.90 390.90,237.70 393.00,235.30 395.00,234.50 399.30,235.00 407.60,238.50 425.00,248.00 442.90,257.00 455.00,261.50 466.40,267.00" fill="none" stroke="#3cf01c" stroke-width="1.0" stroke-linejoin="round" stroke-linecap="round"/>
<text x="427.50" y="240.20" font-size="5.9" text-anchor="start" font-weight="bold" fill="#000" font-family="'Liberation Serif',serif" textLength="20.4" lengthAdjust="spacingAndGlyphs"  style="">NES=2.01</text>
<text x="427.50" y="245.90" font-size="5.9" text-anchor="start" font-weight="bold" fill="#000" font-family="'Liberation Serif',serif" textLength="38.1" lengthAdjust="spacingAndGlyphs"  style="">FDR q-value=0.00</text>
<rect x="382.00" y="269.00" width="87.40" height="12.30" fill="#fff" />
<line x1="382.00" y1="269.00" x2="382.00" y2="281.30" stroke="#999" stroke-width="0.35" />
<line x1="382.50" y1="269.10" x2="382.50" y2="281.20" stroke="#0c0c0c" stroke-width="0.55" />
<line x1="383.19" y1="269.10" x2="383.19" y2="281.20" stroke="#555" stroke-width="0.55" />
<line x1="383.86" y1="269.10" x2="383.86" y2="281.20" stroke="#555" stroke-width="0.55" />
<line x1="384.65" y1="269.10" x2="384.65" y2="281.20" stroke="#0c0c0c" stroke-width="0.55" />
<line x1="385.43" y1="269.10" x2="385.43" y2="281.20" stroke="#0c0c0c" stroke-width="0.55" />
<line x1="386.01" y1="269.10" x2="386.01" y2="281.20" stroke="#0c0c0c" stroke-width="0.55" />
<line x1="386.50" y1="269.10" x2="386.50" y2="281.20" stroke="#a8a8a8" stroke-width="0.55" />
<rect x="386.50" y="269.10" width="18.00" height="12.10" fill="#0c0c0c" />
<line x1="388.18" y1="269.10" x2="388.18" y2="281.20" stroke="#bbb" stroke-width="0.3133765012405315" />
<line x1="392.04" y1="269.10" x2="392.04" y2="281.20" stroke="#bbb" stroke-width="0.4168547422270402" />
<line x1="393.09" y1="269.10" x2="393.09" y2="281.20" stroke="#444" stroke-width="0.399671877970451" />
<line x1="396.33" y1="269.10" x2="396.33" y2="281.20" stroke="#777" stroke-width="0.44566284922843835" />
<line x1="398.46" y1="269.10" x2="398.46" y2="281.20" stroke="#444" stroke-width="0.4469563031307243" />
<line x1="400.55" y1="269.10" x2="400.55" y2="281.20" stroke="#444" stroke-width="0.3791858062949448" />
<line x1="402.06" y1="269.10" x2="402.06" y2="281.20" stroke="#bbb" stroke-width="0.3232554990402525" />
<line x1="403.17" y1="269.10" x2="403.17" y2="281.20" stroke="#555" stroke-width="0.4581426419316643" />
<line x1="404.50" y1="269.10" x2="404.50" y2="281.20" stroke="#a8a8a8" stroke-width="0.55" />
<line x1="405.04" y1="269.10" x2="405.04" y2="281.20" stroke="#0c0c0c" stroke-width="0.55" />
<line x1="444.50" y1="269.10" x2="444.50" y2="281.20" stroke="#0c0c0c" stroke-width="0.55" />
<line x1="444.94" y1="269.10" x2="444.94" y2="281.20" stroke="#555" stroke-width="0.55" />
<line x1="445.78" y1="269.10" x2="445.78" y2="281.20" stroke="#0c0c0c" stroke-width="0.55" />
<line x1="446.68" y1="269.10" x2="446.68" y2="281.20" stroke="#0c0c0c" stroke-width="0.55" />
<line x1="447.63" y1="269.10" x2="447.63" y2="281.20" stroke="#0c0c0c" stroke-width="0.55" />
<line x1="448.51" y1="269.10" x2="448.51" y2="281.20" stroke="#0c0c0c" stroke-width="0.55" />
<line x1="449.28" y1="269.10" x2="449.28" y2="281.20" stroke="#0c0c0c" stroke-width="0.55" />
<line x1="449.69" y1="269.10" x2="449.69" y2="281.20" stroke="#0c0c0c" stroke-width="0.55" />
<line x1="450.23" y1="269.10" x2="450.23" y2="281.20" stroke="#0c0c0c" stroke-width="0.55" />
<line x1="450.85" y1="269.10" x2="450.85" y2="281.20" stroke="#0c0c0c" stroke-width="0.55" />
<line x1="451.65" y1="269.10" x2="451.65" y2="281.20" stroke="#0c0c0c" stroke-width="0.55" />
<line x1="452.24" y1="269.10" x2="452.24" y2="281.20" stroke="#0c0c0c" stroke-width="0.55" />
<line x1="453.21" y1="269.10" x2="453.21" y2="281.20" stroke="#555" stroke-width="0.55" />
<line x1="454.00" y1="269.10" x2="454.00" y2="281.20" stroke="#555" stroke-width="0.55" />
<line x1="454.54" y1="269.10" x2="454.54" y2="281.20" stroke="#0c0c0c" stroke-width="0.55" />
<line x1="455.00" y1="269.10" x2="455.00" y2="281.20" stroke="#0c0c0c" stroke-width="0.55" />
<line x1="455.40" y1="269.10" x2="455.40" y2="281.20" stroke="#0c0c0c" stroke-width="0.55" />
<line x1="456.35" y1="269.10" x2="456.35" y2="281.20" stroke="#0c0c0c" stroke-width="0.55" />
<linearGradient id="cb6" x1="0" x2="1" y1="0" y2="0"><stop offset="0" stop-color="#f02020"/><stop offset="0.166" stop-color="#e83838"/><stop offset="0.207" stop-color="#e07090"/><stop offset="0.237" stop-color="#f0b4ea"/><stop offset="0.725" stop-color="#f0b8ea"/><stop offset="0.730" stop-color="#c8c8f0"/><stop offset="0.898" stop-color="#b8b8f2"/><stop offset="0.908" stop-color="#3838f0"/><stop offset="0.969" stop-color="#1010e8"/><stop offset="0.970" stop-color="#ffffff"/><stop offset="1" stop-color="#ffffff"/></linearGradient>
<rect x="382.00" y="281.30" width="87.40" height="2.60" fill="url(#cb6)" />
<rect x="382.00" y="284.70" width="87.40" height="23.00" fill="#fff" />
<line x1="382.00" y1="284.70" x2="382.00" y2="307.70" stroke="#999" stroke-width="0.35" />
<line x1="382.00" y1="307.70" x2="469.40" y2="307.70" stroke="#bbb" stroke-width="0.35" />
<line x1="397.07" y1="284.70" x2="397.07" y2="307.70" stroke="#ebebeb" stroke-width="0.35" />
<line x1="412.14" y1="284.70" x2="412.14" y2="307.70" stroke="#ebebeb" stroke-width="0.35" />
<line x1="427.21" y1="284.70" x2="427.21" y2="307.70" stroke="#ebebeb" stroke-width="0.35" />
<line x1="442.28" y1="284.70" x2="442.28" y2="307.70" stroke="#ebebeb" stroke-width="0.35" />
<line x1="457.34" y1="284.70" x2="457.34" y2="307.70" stroke="#ebebeb" stroke-width="0.35" />
<line x1="382.00" y1="290.80" x2="469.40" y2="290.80" stroke="#f0f0f0" stroke-width="0.3" />
<text x="380.60" y="291.70" font-size="2.6" text-anchor="end" font-weight="normal" fill="#333" font-family="'Liberation Sans',sans-serif"  style="">10</text>
<line x1="382.00" y1="297.60" x2="469.40" y2="297.60" stroke="#f0f0f0" stroke-width="0.3" />
<text x="380.60" y="298.50" font-size="2.6" text-anchor="end" font-weight="normal" fill="#333" font-family="'Liberation Sans',sans-serif"  style="">0</text>
<line x1="382.00" y1="304.40" x2="469.40" y2="304.40" stroke="#f0f0f0" stroke-width="0.3" />
<text x="380.60" y="305.30" font-size="2.6" text-anchor="end" font-weight="normal" fill="#333" font-family="'Liberation Sans',sans-serif"  style="">-10</text>
<text x="382.80" y="286.00" font-size="2.2" text-anchor="start" font-weight="normal" fill="#e02020" font-family="'Liberation Sans',sans-serif" textLength="28.8" lengthAdjust="spacingAndGlyphs"  style="">na_pos (positively correlated)</text>
<text x="428.06" y="306.60" font-size="2.2" text-anchor="start" font-weight="normal" fill="#2020e0" font-family="'Liberation Sans',sans-serif" textLength="31.0" lengthAdjust="spacingAndGlyphs"  style="">na_neg (negatively correlated)</text>
<path d="M382.00,297.60 L382.00,293.40 C384.00,296.10 387.00,297.30 395.98,297.60 Z" fill="#b0b0b0"/>
<path d="M444.93,297.60 L466.69,297.60 L466.69,306.10 C465.19,300.10 458.69,298.40 444.93,297.60 Z" fill="#b0b0b0"/>
<text x="396.28" y="297.70" font-size="2.2" text-anchor="start" font-weight="normal" fill="#333" font-family="'Liberation Sans',sans-serif" textLength="16.6" lengthAdjust="spacingAndGlyphs"  style="">Zero cross at 16918</text>
<text x="0" y="0" font-size="2.6" fill="#222" font-family="'Liberation Sans',sans-serif" text-anchor="middle" transform="translate(374.60,295.80) rotate(-90)">Ranked list metric (PreRanked)</text>
<text x="382.00" y="311.60" font-size="2.5" text-anchor="middle" font-weight="normal" fill="#333" font-family="'Liberation Sans',sans-serif"  style="">0</text>
<text x="397.14" y="311.60" font-size="2.5" text-anchor="middle" font-weight="normal" fill="#333" font-family="'Liberation Sans',sans-serif"  style="">10,000</text>
<text x="412.29" y="311.60" font-size="2.5" text-anchor="middle" font-weight="normal" fill="#333" font-family="'Liberation Sans',sans-serif"  style="">20,000</text>
<text x="427.43" y="311.60" font-size="2.5" text-anchor="middle" font-weight="normal" fill="#333" font-family="'Liberation Sans',sans-serif"  style="">30,000</text>
<text x="442.58" y="311.60" font-size="2.5" text-anchor="middle" font-weight="normal" fill="#333" font-family="'Liberation Sans',sans-serif"  style="">40,000</text>
<text x="457.72" y="311.60" font-size="2.5" text-anchor="middle" font-weight="normal" fill="#333" font-family="'Liberation Sans',sans-serif"  style="">50,000</text>
<text x="425.70" y="315.00" font-size="2.8" text-anchor="middle" font-weight="normal" fill="#222" font-family="'Liberation Sans',sans-serif" textLength="28.8" lengthAdjust="spacingAndGlyphs"  style="">Rank in Ordered Dataset</text>
<rect x="386.70" y="317.40" width="69.60" height="5.00" fill="#fff" stroke="#666" stroke-width="0.4"/>
<line x1="387.60" y1="319.90" x2="390.70" y2="319.90" stroke="#3cf01c" stroke-width="0.9" />
<text x="391.10" y="320.90" font-size="2.8" text-anchor="start" font-weight="normal" fill="#222" font-family="'Liberation Sans',sans-serif" textLength="18.4" lengthAdjust="spacingAndGlyphs"  style="">Enrichment profile</text>
<line x1="412.45" y1="319.90" x2="415.93" y2="319.90" stroke="#444" stroke-width="0.4" />
<text x="416.28" y="320.90" font-size="2.8" text-anchor="start" font-weight="normal" fill="#222" font-family="'Liberation Sans',sans-serif"  style="">Hits</text>
<line x1="424.98" y1="319.90" x2="427.76" y2="319.90" stroke="#aaa" stroke-width="0.4" />
<text x="428.46" y="320.90" font-size="2.8" text-anchor="start" font-weight="normal" fill="#222" font-family="'Liberation Sans',sans-serif" textLength="23.0" lengthAdjust="spacingAndGlyphs"  style="">Ranking metric scores</text>
<rect x="575.50" y="17.50" width="55.60" height="173.90" fill="#fff" />
<line x1="578.36" y1="17.50" x2="578.36" y2="191.40" stroke="#ebebeb" stroke-width="0.3" />
<line x1="583.30" y1="17.50" x2="583.30" y2="191.40" stroke="#ebebeb" stroke-width="0.45" />
<line x1="588.24" y1="17.50" x2="588.24" y2="191.40" stroke="#ebebeb" stroke-width="0.3" />
<line x1="593.18" y1="17.50" x2="593.18" y2="191.40" stroke="#ebebeb" stroke-width="0.45" />
<line x1="598.12" y1="17.50" x2="598.12" y2="191.40" stroke="#ebebeb" stroke-width="0.3" />
<line x1="603.06" y1="17.50" x2="603.06" y2="191.40" stroke="#ebebeb" stroke-width="0.45" />
<line x1="608.00" y1="17.50" x2="608.00" y2="191.40" stroke="#ebebeb" stroke-width="0.3" />
<line x1="612.94" y1="17.50" x2="612.94" y2="191.40" stroke="#ebebeb" stroke-width="0.45" />
<line x1="617.88" y1="17.50" x2="617.88" y2="191.40" stroke="#ebebeb" stroke-width="0.3" />
<line x1="622.82" y1="17.50" x2="622.82" y2="191.40" stroke="#ebebeb" stroke-width="0.45" />
<line x1="627.76" y1="17.50" x2="627.76" y2="191.40" stroke="#ebebeb" stroke-width="0.3" />
<line x1="575.50" y1="27.50" x2="631.10" y2="27.50" stroke="#ebebeb" stroke-width="0.45" />
<line x1="573.60" y1="27.50" x2="575.50" y2="27.50" stroke="#333" stroke-width="0.4" />
<text x="572.10" y="29.20" font-size="4.71" text-anchor="end" font-weight="normal" fill="#000" font-family="'Liberation Sans',sans-serif"  style="">Interleukin- 6 family signaling</text>
<line x1="575.50" y1="44.55" x2="631.10" y2="44.55" stroke="#ebebeb" stroke-width="0.45" />
<line x1="573.60" y1="44.55" x2="575.50" y2="44.55" stroke="#333" stroke-width="0.4" />
<text x="572.10" y="46.25" font-size="4.71" text-anchor="end" font-weight="normal" fill="#000" font-family="'Liberation Sans',sans-serif"  style="">Interleukin- 20 family signaling</text>
<line x1="575.50" y1="61.60" x2="631.10" y2="61.60" stroke="#ebebeb" stroke-width="0.45" />
<line x1="573.60" y1="61.60" x2="575.50" y2="61.60" stroke="#333" stroke-width="0.4" />
<text x="572.10" y="63.30" font-size="4.71" text-anchor="end" font-weight="normal" fill="#000" font-family="'Liberation Sans',sans-serif"  style="">Acyl chain remodelling of PE</text>
<line x1="575.50" y1="78.65" x2="631.10" y2="78.65" stroke="#ebebeb" stroke-width="0.45" />
<line x1="573.60" y1="78.65" x2="575.50" y2="78.65" stroke="#333" stroke-width="0.4" />
<text x="572.10" y="80.35" font-size="4.71" text-anchor="end" font-weight="normal" fill="#000" font-family="'Liberation Sans',sans-serif"  style="">Interleukin- 4 and Interleukin- 13 signaling</text>
<line x1="575.50" y1="95.70" x2="631.10" y2="95.70" stroke="#ebebeb" stroke-width="0.45" />
<line x1="573.60" y1="95.70" x2="575.50" y2="95.70" stroke="#333" stroke-width="0.4" />
<text x="572.10" y="97.40" font-size="4.71" text-anchor="end" font-weight="normal" fill="#000" font-family="'Liberation Sans',sans-serif"  style="">Acyl chain remodelling of PG</text>
<line x1="575.50" y1="112.75" x2="631.10" y2="112.75" stroke="#ebebeb" stroke-width="0.45" />
<line x1="573.60" y1="112.75" x2="575.50" y2="112.75" stroke="#333" stroke-width="0.4" />
<text x="572.10" y="114.45" font-size="4.71" text-anchor="end" font-weight="normal" fill="#000" font-family="'Liberation Sans',sans-serif"  style="">Acyl chain remodelling of PC</text>
<line x1="575.50" y1="129.80" x2="631.10" y2="129.80" stroke="#ebebeb" stroke-width="0.45" />
<line x1="573.60" y1="129.80" x2="575.50" y2="129.80" stroke="#333" stroke-width="0.4" />
<text x="572.10" y="131.50" font-size="4.71" text-anchor="end" font-weight="normal" fill="#000" font-family="'Liberation Sans',sans-serif"  style="">Acyl chain remodelling of PS</text>
<line x1="575.50" y1="146.85" x2="631.10" y2="146.85" stroke="#ebebeb" stroke-width="0.45" />
<line x1="573.60" y1="146.85" x2="575.50" y2="146.85" stroke="#333" stroke-width="0.4" />
<text x="572.10" y="148.55" font-size="4.71" text-anchor="end" font-weight="normal" fill="#000" font-family="'Liberation Sans',sans-serif"  style="">Interleukin- 6 signaling</text>
<line x1="575.50" y1="163.90" x2="631.10" y2="163.90" stroke="#ebebeb" stroke-width="0.45" />
<line x1="573.60" y1="163.90" x2="575.50" y2="163.90" stroke="#333" stroke-width="0.4" />
<text x="572.10" y="165.60" font-size="4.71" text-anchor="end" font-weight="normal" fill="#000" font-family="'Liberation Sans',sans-serif"  style="">Acyl chain remodelling of PI</text>
<line x1="575.50" y1="180.95" x2="631.10" y2="180.95" stroke="#ebebeb" stroke-width="0.45" />
<line x1="573.60" y1="180.95" x2="575.50" y2="180.95" stroke="#333" stroke-width="0.4" />
<text x="572.10" y="182.65" font-size="4.71" text-anchor="end" font-weight="normal" fill="#000" font-family="'Liberation Sans',sans-serif"  style="">Interleukin- 10 signaling</text>
<circle cx="577.50" cy="27.50" r="1.3" fill="#4cbb4c"/>
<circle cx="578.46" cy="44.55" r="1.3" fill="#4cbb4c"/>
<circle cx="580.40" cy="61.60" r="2.0" fill="#50bb48"/>
<circle cx="580.40" cy="78.65" r="3.5" fill="#52bb4a"/>
<circle cx="581.56" cy="95.70" r="1.3" fill="#52bb48"/>
<circle cx="581.56" cy="112.75" r="1.9" fill="#52bb48"/>
<circle cx="590.27" cy="129.80" r="2.0" fill="#78b040"/>
<circle cx="593.94" cy="146.85" r="1.2" fill="#88a838"/>
<circle cx="597.81" cy="163.90" r="2.0" fill="#a09a38"/>
<circle cx="628.39" cy="180.95" r="3.0" fill="#f81c10"/>
<rect x="575.50" y="17.50" width="55.60" height="173.90" fill="none" stroke="#8a8a8a" stroke-width="0.6"/>
<line x1="583.30" y1="191.40" x2="583.30" y2="192.60" stroke="#333" stroke-width="0.4" />
<text x="583.20" y="197.30" font-size="5.0" text-anchor="middle" font-weight="normal" fill="#222" font-family="'Liberation Sans',sans-serif"  style="">2.0</text>
<line x1="592.97" y1="191.40" x2="592.97" y2="192.60" stroke="#333" stroke-width="0.4" />
<text x="592.87" y="197.30" font-size="5.0" text-anchor="middle" font-weight="normal" fill="#222" font-family="'Liberation Sans',sans-serif"  style="">2.5</text>
<line x1="602.65" y1="191.40" x2="602.65" y2="192.60" stroke="#333" stroke-width="0.4" />
<text x="602.55" y="197.30" font-size="5.0" text-anchor="middle" font-weight="normal" fill="#222" font-family="'Liberation Sans',sans-serif"  style="">3.0</text>
<line x1="612.32" y1="191.40" x2="612.32" y2="192.60" stroke="#333" stroke-width="0.4" />
<text x="612.22" y="197.30" font-size="5.0" text-anchor="middle" font-weight="normal" fill="#222" font-family="'Liberation Sans',sans-serif"  style="">3.5</text>
<line x1="622.00" y1="191.40" x2="622.00" y2="192.60" stroke="#333" stroke-width="0.4" />
<text x="621.90" y="197.30" font-size="5.0" text-anchor="middle" font-weight="normal" fill="#222" font-family="'Liberation Sans',sans-serif"  style="">4.0</text>
<text x="638.3" y="50.0" font-size="5.7" fill="#111" font-family="'Liberation Sans',sans-serif">- log<tspan font-size="3.6" dy="1.2">10</tspan><tspan dy="-1.2">(pvalue)</tspan></text>
<linearGradient id="cg" x1="0" x2="0" y1="0" y2="1"><stop offset="0" stop-color="#f42818"/><stop offset="0.5" stop-color="#a8a030"/><stop offset="1" stop-color="#48c050"/></linearGradient>
<rect x="638.90" y="54.70" width="8.00" height="41.10" fill="url(#cg)" />
<line x1="638.90" y1="60.20" x2="640.40" y2="60.20" stroke="#fff" stroke-width="0.4" />
<line x1="645.40" y1="60.20" x2="646.90" y2="60.20" stroke="#fff" stroke-width="0.4" />
<text x="649.80" y="62.00" font-size="4.9" text-anchor="start" font-weight="normal" fill="#111" font-family="'Liberation Sans',sans-serif"  style="">4.0</text>
<line x1="638.90" y1="67.95" x2="640.40" y2="67.95" stroke="#fff" stroke-width="0.4" />
<line x1="645.40" y1="67.95" x2="646.90" y2="67.95" stroke="#fff" stroke-width="0.4" />
<text x="649.80" y="69.75" font-size="4.9" text-anchor="start" font-weight="normal" fill="#111" font-family="'Liberation Sans',sans-serif"  style="">3.5</text>
<line x1="638.90" y1="75.70" x2="640.40" y2="75.70" stroke="#fff" stroke-width="0.4" />
<line x1="645.40" y1="75.70" x2="646.90" y2="75.70" stroke="#fff" stroke-width="0.4" />
<text x="649.80" y="77.50" font-size="4.9" text-anchor="start" font-weight="normal" fill="#111" font-family="'Liberation Sans',sans-serif"  style="">3.0</text>
<line x1="638.90" y1="83.45" x2="640.40" y2="83.45" stroke="#fff" stroke-width="0.4" />
<line x1="645.40" y1="83.45" x2="646.90" y2="83.45" stroke="#fff" stroke-width="0.4" />
<text x="649.80" y="85.25" font-size="4.9" text-anchor="start" font-weight="normal" fill="#111" font-family="'Liberation Sans',sans-serif"  style="">2.5</text>
<line x1="638.90" y1="91.20" x2="640.40" y2="91.20" stroke="#fff" stroke-width="0.4" />
<line x1="645.40" y1="91.20" x2="646.90" y2="91.20" stroke="#fff" stroke-width="0.4" />
<text x="649.80" y="93.00" font-size="4.9" text-anchor="start" font-weight="normal" fill="#111" font-family="'Liberation Sans',sans-serif"  style="">2.0</text>
<text x="639.20" y="111.20" font-size="5.2" text-anchor="start" font-weight="normal" fill="#111" font-family="'Liberation Sans',sans-serif"  style="">count</text>
<circle cx="642.7" cy="118.50" r="1.2" fill="#000"/>
<text x="649.80" y="120.20" font-size="4.8" text-anchor="start" font-weight="normal" fill="#111" font-family="'Liberation Sans',sans-serif"  style="">4</text>
<circle cx="642.7" cy="126.40" r="1.85" fill="#000"/>
<text x="649.80" y="128.10" font-size="4.8" text-anchor="start" font-weight="normal" fill="#111" font-family="'Liberation Sans',sans-serif"  style="">6</text>
<circle cx="642.7" cy="134.80" r="2.2" fill="#000"/>
<text x="649.80" y="136.50" font-size="4.8" text-anchor="start" font-weight="normal" fill="#111" font-family="'Liberation Sans',sans-serif"  style="">8</text>
<circle cx="642.7" cy="142.90" r="2.5" fill="#000"/>
<text x="649.80" y="144.60" font-size="4.8" text-anchor="start" font-weight="normal" fill="#111" font-family="'Liberation Sans',sans-serif"  style="">10</text>
<circle cx="642.7" cy="150.80" r="2.75" fill="#000"/>
<text x="649.80" y="152.50" font-size="4.8" text-anchor="start" font-weight="normal" fill="#111" font-family="'Liberation Sans',sans-serif"  style="">12</text>
<circle cx="642.7" cy="159.20" r="3.0" fill="#000"/>
<text x="649.80" y="160.90" font-size="4.8" text-anchor="start" font-weight="normal" fill="#111" font-family="'Liberation Sans',sans-serif"  style="">14</text>
<rect x="22.20" y="255.20" width="16.87" height="16.98" fill="#f8f0ea" />
<rect x="39.02" y="255.20" width="16.87" height="16.98" fill="#ecb8a5" />
<rect x="55.84" y="255.20" width="16.87" height="16.98" fill="#e6dcfb" />
<rect x="72.66" y="255.20" width="16.87" height="16.98" fill="#f8efe9" />
<rect x="89.48" y="255.20" width="16.87" height="16.98" fill="#f8efe9" />
<rect x="106.30" y="255.20" width="16.87" height="16.98" fill="#ecb8a5" />
<rect x="123.12" y="255.20" width="16.87" height="16.98" fill="#f7e9e0" />
<rect x="139.94" y="255.20" width="16.87" height="16.98" fill="#ecb09a" />
<rect x="156.76" y="255.20" width="16.87" height="16.98" fill="#ecb09a" />
<rect x="173.58" y="255.20" width="16.87" height="16.98" fill="#f4d8cc" />
<rect x="190.40" y="255.20" width="16.87" height="16.98" fill="#ece8fb" />
<rect x="207.22" y="255.20" width="16.87" height="16.98" fill="#f0c4b4" />
<rect x="22.20" y="272.13" width="16.87" height="16.98" fill="#f5f3fd" />
<rect x="39.02" y="272.13" width="16.87" height="16.98" fill="#faf5f1" />
<rect x="55.84" y="272.13" width="16.87" height="16.98" fill="#fbf8f2" />
<rect x="72.66" y="272.13" width="16.87" height="16.98" fill="#f8f6fd" />
<rect x="89.48" y="272.13" width="16.87" height="16.98" fill="#c8a8f5" />
<rect x="106.30" y="272.13" width="16.87" height="16.98" fill="#f4d8cc" />
<rect x="123.12" y="272.13" width="16.87" height="16.98" fill="#eeb8a5" />
<rect x="139.94" y="272.13" width="16.87" height="16.98" fill="#f9f4ee" />
<rect x="156.76" y="272.13" width="16.87" height="16.98" fill="#d8c4fa" />
<rect x="173.58" y="272.13" width="16.87" height="16.98" fill="#f3cdbe" />
<rect x="190.40" y="272.13" width="16.87" height="16.98" fill="#eeecfb" />
<rect x="207.22" y="272.13" width="16.87" height="16.98" fill="#fcfaf6" />
<rect x="22.20" y="289.06" width="16.87" height="16.98" fill="#f0c4b4" />
<rect x="39.02" y="289.06" width="16.87" height="16.98" fill="#f5e0d6" />
<rect x="55.84" y="289.06" width="16.87" height="16.98" fill="#eeb8a5" />
<rect x="72.66" y="289.06" width="16.87" height="16.98" fill="#fdfbf8" />
<rect x="89.48" y="289.06" width="16.87" height="16.98" fill="#f4d2c4" />
<rect x="106.30" y="289.06" width="16.87" height="16.98" fill="#fdfcf9" />
<rect x="123.12" y="289.06" width="16.87" height="16.98" fill="#e8e2fc" />
<rect x="139.94" y="289.06" width="16.87" height="16.98" fill="#eeb8a5" />
<rect x="156.76" y="289.06" width="16.87" height="16.98" fill="#f7e6dd" />
<rect x="173.58" y="289.06" width="16.87" height="16.98" fill="#f0c0ae" />
<rect x="190.40" y="289.06" width="16.87" height="16.98" fill="#f5e4da" />
<rect x="207.22" y="289.06" width="16.87" height="16.98" fill="#eeac98" />
<rect x="22.20" y="305.99" width="16.87" height="16.98" fill="#efbca8" />
<rect x="39.02" y="305.99" width="16.87" height="16.98" fill="#f2c6b6" />
<rect x="55.84" y="305.99" width="16.87" height="16.98" fill="#ffffff" />
<rect x="72.66" y="305.99" width="16.87" height="16.98" fill="#e4d8fb" />
<rect x="89.48" y="305.99" width="16.87" height="16.98" fill="#e8e0fb" />
<rect x="106.30" y="305.99" width="16.87" height="16.98" fill="#f9f2ec" />
<rect x="123.12" y="305.99" width="16.87" height="16.98" fill="#ece6fb" />
<rect x="139.94" y="305.99" width="16.87" height="16.98" fill="#f6e6dc" />
<rect x="156.76" y="305.99" width="16.87" height="16.98" fill="#f5e2d8" />
<rect x="173.58" y="305.99" width="16.87" height="16.98" fill="#fdfbf8" />
<rect x="190.40" y="305.99" width="16.87" height="16.98" fill="#fbf7f4" />
<rect x="207.22" y="305.99" width="16.87" height="16.98" fill="#f81e0c" />
<rect x="22.20" y="322.92" width="16.87" height="16.98" fill="#c8aaf8" />
<rect x="39.02" y="322.92" width="16.87" height="16.98" fill="#f8ebe2" />
<rect x="55.84" y="322.92" width="16.87" height="16.98" fill="#eceafc" />
<rect x="72.66" y="322.92" width="16.87" height="16.98" fill="#f3d4c8" />
<rect x="89.48" y="322.92" width="16.87" height="16.98" fill="#fcfaf5" />
<rect x="106.30" y="322.92" width="16.87" height="16.98" fill="#f1c4b2" />
<rect x="123.12" y="322.92" width="16.87" height="16.98" fill="#ffffff" />
<rect x="139.94" y="322.92" width="16.87" height="16.98" fill="#f2c8b8" />
<rect x="156.76" y="322.92" width="16.87" height="16.98" fill="#f6f5fd" />
<rect x="173.58" y="322.92" width="16.87" height="16.98" fill="#f5e0d6" />
<rect x="190.40" y="322.92" width="16.87" height="16.98" fill="#ffffff" />
<rect x="207.22" y="322.92" width="16.87" height="16.98" fill="#fcfbfe" />
<rect x="22.20" y="339.85" width="16.87" height="16.98" fill="#ece8fc" />
<rect x="39.02" y="339.85" width="16.87" height="16.98" fill="#f3cfc0" />
<rect x="55.84" y="339.85" width="16.87" height="16.98" fill="#eceafc" />
<rect x="72.66" y="339.85" width="16.87" height="16.98" fill="#f1c4b0" />
<rect x="89.48" y="339.85" width="16.87" height="16.98" fill="#ee7055" />
<rect x="106.30" y="339.85" width="16.87" height="16.98" fill="#f9f1eb" />
<rect x="123.12" y="339.85" width="16.87" height="16.98" fill="#f9f1ea" />
<rect x="139.94" y="339.85" width="16.87" height="16.98" fill="#a07cf4" />
<rect x="156.76" y="339.85" width="16.87" height="16.98" fill="#f0c0ac" />
<rect x="173.58" y="339.85" width="16.87" height="16.98" fill="#eeecfc" />
<rect x="190.40" y="339.85" width="16.87" height="16.98" fill="#fcf9f4" />
<rect x="207.22" y="339.85" width="16.87" height="16.98" fill="#a880f6" />
<rect x="22.20" y="356.78" width="16.87" height="16.98" fill="#f0c2ae" />
<rect x="39.02" y="356.78" width="16.87" height="16.98" fill="#fbf6f0" />
<rect x="55.84" y="356.78" width="16.87" height="16.98" fill="#9060f0" />
<rect x="72.66" y="356.78" width="16.87" height="16.98" fill="#f6e4da" />
<rect x="89.48" y="356.78" width="16.87" height="16.98" fill="#dccafa" />
<rect x="106.30" y="356.78" width="16.87" height="16.98" fill="#f2c6b4" />
<rect x="123.12" y="356.78" width="16.87" height="16.98" fill="#decffa" />
<rect x="139.94" y="356.78" width="16.87" height="16.98" fill="#f9f3ec" />
<rect x="156.76" y="356.78" width="16.87" height="16.98" fill="#eeaa94" />
<rect x="173.58" y="356.78" width="16.87" height="16.98" fill="#fafafe" />
<rect x="190.40" y="356.78" width="16.87" height="16.98" fill="#f2cab8" />
<rect x="207.22" y="356.78" width="16.87" height="16.98" fill="#f2cab8" />
<text x="47.43" y="265.26" font-size="3.1" text-anchor="middle" font-weight="normal" fill="#2a2a2a" font-family="'Liberation Sans',sans-serif"  style="font-style:italic">AHR</text>
<text x="114.71" y="265.26" font-size="3.1" text-anchor="middle" font-weight="normal" fill="#2a2a2a" font-family="'Liberation Sans',sans-serif"  style="font-style:italic">ANPEP</text>
<text x="148.35" y="265.26" font-size="3.1" text-anchor="middle" font-weight="normal" fill="#2a2a2a" font-family="'Liberation Sans',sans-serif"  style="font-style:italic">CCL11</text>
<text x="165.17" y="265.26" font-size="3.1" text-anchor="middle" font-weight="normal" fill="#2a2a2a" font-family="'Liberation Sans',sans-serif"  style="font-style:italic">CCL2</text>
<text x="97.89" y="282.19" font-size="3.1" text-anchor="middle" font-weight="normal" fill="#2a2a2a" font-family="'Liberation Sans',sans-serif"  style="font-style:italic">CXCL9</text>
<text x="131.53" y="282.19" font-size="3.1" text-anchor="middle" font-weight="normal" fill="#2a2a2a" font-family="'Liberation Sans',sans-serif"  style="font-style:italic">EDN1</text>
<text x="64.25" y="299.12" font-size="3.1" text-anchor="middle" font-weight="normal" fill="#2a2a2a" font-family="'Liberation Sans',sans-serif"  style="font-style:italic">FGF7</text>
<text x="148.35" y="299.12" font-size="3.1" text-anchor="middle" font-weight="normal" fill="#2a2a2a" font-family="'Liberation Sans',sans-serif"  style="font-style:italic">FN1</text>
<text x="215.63" y="299.12" font-size="3.1" text-anchor="middle" font-weight="normal" fill="#2a2a2a" font-family="'Liberation Sans',sans-serif"  style="font-style:italic">ID1</text>
<text x="30.61" y="316.06" font-size="3.1" text-anchor="middle" font-weight="normal" fill="#2a2a2a" font-family="'Liberation Sans',sans-serif"  style="font-style:italic">IFNA1</text>
<text x="215.63" y="316.06" font-size="3.1" text-anchor="middle" font-weight="normal" fill="#2a2a2a" font-family="'Liberation Sans',sans-serif"  style="font-style:italic">LEP</text>
<text x="30.61" y="332.98" font-size="3.1" text-anchor="middle" font-weight="normal" fill="#2a2a2a" font-family="'Liberation Sans',sans-serif"  style="font-style:italic">MDK</text>
<text x="97.89" y="349.92" font-size="3.1" text-anchor="middle" font-weight="normal" fill="#2a2a2a" font-family="'Liberation Sans',sans-serif"  style="font-style:italic">SPP1</text>
<text x="148.35" y="349.92" font-size="3.1" text-anchor="middle" font-weight="normal" fill="#2a2a2a" font-family="'Liberation Sans',sans-serif"  style="font-style:italic">SPARC</text>
<text x="215.63" y="349.92" font-size="3.1" text-anchor="middle" font-weight="normal" fill="#2a2a2a" font-family="'Liberation Sans',sans-serif"  style="font-style:italic">TOP2A</text>
<text x="64.25" y="366.84" font-size="3.1" text-anchor="middle" font-weight="normal" fill="#2a2a2a" font-family="'Liberation Sans',sans-serif"  style="font-style:italic">THBS2</text>
<text x="165.17" y="366.84" font-size="3.1" text-anchor="middle" font-weight="normal" fill="#2a2a2a" font-family="'Liberation Sans',sans-serif"  style="font-style:italic">TYMP</text>
<linearGradient id="fg" x1="0" x2="1" y1="0" y2="0"><stop offset="0" stop-color="#8c5cf4"/><stop offset="0.4" stop-color="#ffffff"/><stop offset="1" stop-color="#f02418"/></linearGradient>
<rect x="115.00" y="389.00" width="88.60" height="8.60" fill="url(#fg)" />
<text x="116.20" y="387.30" font-size="3.7" text-anchor="middle" font-weight="normal" fill="#333" font-family="'Liberation Sans',sans-serif"  style="">-2</text>
<text x="133.27" y="387.30" font-size="3.7" text-anchor="middle" font-weight="normal" fill="#333" font-family="'Liberation Sans',sans-serif"  style="">-1</text>
<text x="150.34" y="387.30" font-size="3.7" text-anchor="middle" font-weight="normal" fill="#333" font-family="'Liberation Sans',sans-serif"  style="">0</text>
<text x="167.41" y="387.30" font-size="3.7" text-anchor="middle" font-weight="normal" fill="#333" font-family="'Liberation Sans',sans-serif"  style="">1</text>
<text x="184.48" y="387.30" font-size="3.7" text-anchor="middle" font-weight="normal" fill="#333" font-family="'Liberation Sans',sans-serif"  style="">2</text>
<text x="201.55" y="387.30" font-size="3.7" text-anchor="middle" font-weight="normal" fill="#333" font-family="'Liberation Sans',sans-serif"  style="">3</text>
<text x="112.20" y="392.80" font-size="4.47" text-anchor="end" font-weight="bold" fill="#111" font-family="'Liberation Sans',sans-serif"  style="">Magnitude of log2 (Fold change)</text>
<rect x="51.6" y="423.6" width="130.80" height="53.00" fill="none" stroke="#888" stroke-width="0.6"/>
<line x1="50.00" y1="428.00" x2="51.60" y2="428.00" stroke="#555" stroke-width="0.4" />
<line x1="50.00" y1="437.80" x2="51.60" y2="437.80" stroke="#555" stroke-width="0.4" />
<line x1="50.00" y1="447.60" x2="51.60" y2="447.60" stroke="#555" stroke-width="0.4" />
<line x1="50.00" y1="457.40" x2="51.60" y2="457.40" stroke="#555" stroke-width="0.4" />
<line x1="50.00" y1="467.20" x2="51.60" y2="467.20" stroke="#555" stroke-width="0.4" />
<text x="47.40" y="428.90" font-size="2.6" text-anchor="middle" font-weight="normal" fill="#444" font-family="'Liberation Sans',sans-serif" transform="rotate(-90 47.40 428.00)" style="">10</text>
<text x="47.40" y="438.70" font-size="2.6" text-anchor="middle" font-weight="normal" fill="#444" font-family="'Liberation Sans',sans-serif" transform="rotate(-90 47.40 437.80)" style="">8</text>
<text x="47.40" y="448.50" font-size="2.6" text-anchor="middle" font-weight="normal" fill="#444" font-family="'Liberation Sans',sans-serif" transform="rotate(-90 47.40 447.60)" style="">6</text>
<text x="47.40" y="458.30" font-size="2.6" text-anchor="middle" font-weight="normal" fill="#444" font-family="'Liberation Sans',sans-serif" transform="rotate(-90 47.40 457.40)" style="">4</text>
<text x="47.40" y="468.10" font-size="2.6" text-anchor="middle" font-weight="normal" fill="#444" font-family="'Liberation Sans',sans-serif" transform="rotate(-90 47.40 467.20)" style="">2</text>
<polyline points="56.6,469.0 80.6,474.6 104.6,444.6 129.0,450.0 153.6,437.6 177.6,425.4" fill="none" stroke="#e43030" stroke-width="0.9"/>
<circle cx="56.6" cy="469.0" r="0.7" fill="#333"/>
<line x1="56.60" y1="476.60" x2="56.60" y2="478.00" stroke="#555" stroke-width="0.4" />
<text x="58.20" y="484.60" font-size="4.0" text-anchor="middle" font-weight="bold" fill="#222" font-family="'Liberation Sans',sans-serif" textLength="18.4" lengthAdjust="spacingAndGlyphs"  style="">Tissue#1</text>
<circle cx="80.6" cy="474.6" r="0.7" fill="#333"/>
<line x1="80.60" y1="476.60" x2="80.60" y2="478.00" stroke="#555" stroke-width="0.4" />
<text x="78.90" y="484.60" font-size="4.0" text-anchor="middle" font-weight="bold" fill="#222" font-family="'Liberation Sans',sans-serif" textLength="18.4" lengthAdjust="spacingAndGlyphs"  style="">Tissue#2</text>
<circle cx="104.6" cy="444.6" r="0.7" fill="#333"/>
<line x1="104.60" y1="476.60" x2="104.60" y2="478.00" stroke="#555" stroke-width="0.4" />
<text x="102.30" y="484.60" font-size="4.0" text-anchor="middle" font-weight="bold" fill="#222" font-family="'Liberation Sans',sans-serif" textLength="18.4" lengthAdjust="spacingAndGlyphs"  style="">Tissue#3</text>
<circle cx="129.0" cy="450.0" r="0.7" fill="#333"/>
<line x1="129.00" y1="476.60" x2="129.00" y2="478.00" stroke="#555" stroke-width="0.4" />
<text x="125.60" y="484.60" font-size="4.0" text-anchor="middle" font-weight="bold" fill="#222" font-family="'Liberation Sans',sans-serif" textLength="18.4" lengthAdjust="spacingAndGlyphs"  style="">Tissue#4</text>
<circle cx="153.6" cy="437.6" r="0.7" fill="#333"/>
<line x1="153.60" y1="476.60" x2="153.60" y2="478.00" stroke="#555" stroke-width="0.4" />
<text x="147.50" y="484.60" font-size="4.0" text-anchor="middle" font-weight="bold" fill="#222" font-family="'Liberation Sans',sans-serif" textLength="18.4" lengthAdjust="spacingAndGlyphs"  style="">Tissue#5</text>
<circle cx="177.6" cy="425.4" r="0.7" fill="#333"/>
<line x1="177.60" y1="476.60" x2="177.60" y2="478.00" stroke="#555" stroke-width="0.4" />
<text x="170.60" y="484.60" font-size="4.0" text-anchor="middle" font-weight="bold" fill="#222" font-family="'Liberation Sans',sans-serif" textLength="18.4" lengthAdjust="spacingAndGlyphs"  style="">Tissue#6</text>
<text x="0" y="0" font-size="8.4" font-weight="bold" fill="#111" font-family="'Liberation Sans',sans-serif" text-anchor="middle" transform="translate(37.2,453.2) rotate(-90)">Log-CPM of <tspan font-style="italic">LEP</tspan></text>
<text x="268.60" y="381.60" font-size="8.4" text-anchor="start" font-weight="bold" fill="#111" font-family="'Liberation Sans',sans-serif" textLength="88.4" lengthAdjust="spacingAndGlyphs"  style="">Tissue#1 (Left breast)</text>
<text x="370.20" y="381.60" font-size="8.4" text-anchor="start" font-weight="bold" fill="#111" font-family="'Liberation Sans',sans-serif" textLength="80.8" lengthAdjust="spacingAndGlyphs"  style="">Tissue#2 (Left Skin)</text>
<text x="472.60" y="381.60" font-size="8.4" text-anchor="start" font-weight="bold" fill="#111" font-family="'Liberation Sans',sans-serif" textLength="97.0" lengthAdjust="spacingAndGlyphs"  style="">Tissue#3 ( Right breast)</text>
<text x="574.40" y="381.60" font-size="8.4" text-anchor="start" font-weight="bold" fill="#111" font-family="'Liberation Sans',sans-serif" textLength="100.4" lengthAdjust="spacingAndGlyphs"  style="">Tissue#6(Left back Skin)</text>
<defs><filter id="soft" x="-20%" y="-20%" width="140%" height="140%"><feGaussianBlur stdDeviation="1.2"/></filter><filter id="soft2" x="-30%" y="-30%" width="160%" height="160%"><feGaussianBlur stdDeviation="0.7"/></filter><filter id="tex" x="0" y="0" width="100%" height="100%"><feGaussianBlur stdDeviation="0.35"/></filter><filter id="texH" x="0" y="0" width="100%" height="100%"><feGaussianBlur stdDeviation="0.5"/></filter><filter id="fDn" x="0" y="0" width="100%" height="100%" color-interpolation-filters="sRGB"><feTurbulence type="fractalNoise" baseFrequency="0.5" numOctaves="2" seed="5" result="n"/><feColorMatrix in="n" type="matrix" values="0 0 0 0 0.490 0 0 0 0 0.498 0 0 0 0 0.490 1 0 0 0 0"/><feComponentTransfer><feFuncA type="linear" slope="1.0" intercept="-0.45"/></feComponentTransfer><feComposite in2="SourceGraphic" operator="in"/></filter><filter id="soft2b" x="-10%" y="-10%" width="120%" height="120%"><feGaussianBlur stdDeviation="0.55"/></filter><filter id="fEg" x="0" y="0" width="100%" height="100%" color-interpolation-filters="sRGB"><feTurbulence type="fractalNoise" baseFrequency="0.7" numOctaves="2" seed="19" result="n"/><feColorMatrix in="n" type="matrix" values="0 0 0 0 0.667 0 0 0 0 0.510 0 0 0 0 0.569 1 0 0 0 0"/><feComponentTransfer><feFuncA type="linear" slope="2.4" intercept="-0.95"/></feComponentTransfer><feComposite in2="SourceGraphic" operator="in"/></filter><filter id="g1a" x="0" y="0" width="100%" height="100%" color-interpolation-filters="sRGB"><feTurbulence type="fractalNoise" baseFrequency="0.09" numOctaves="2" seed="31" result="n"/><feColorMatrix in="n" type="matrix" values="0 0 0 0 0.686 0 0 0 0 0.490 0 0 0 0 0.451 1 0 0 0 0"/><feComponentTransfer><feFuncA type="linear" slope="2.0" intercept="-0.8"/></feComponentTransfer><feComposite in2="SourceGraphic" operator="in"/></filter><filter id="g1b" x="0" y="0" width="100%" height="100%" color-interpolation-filters="sRGB"><feTurbulence type="fractalNoise" baseFrequency="0.18" numOctaves="2" seed="32" result="n"/><feColorMatrix in="n" type="matrix" values="0 0 0 0 0.957 0 0 0 0 0.925 0 0 0 0 0.902 1 0 0 0 0"/><feComponentTransfer><feFuncA type="linear" slope="3.2" intercept="-1.75"/></feComponentTransfer><feComposite in2="SourceGraphic" operator="in"/></filter><filter id="g1c" x="0" y="0" width="100%" height="100%" color-interpolation-filters="sRGB"><feTurbulence type="fractalNoise" baseFrequency="0.4" numOctaves="2" seed="33" result="n"/><feColorMatrix in="n" type="matrix" values="0 0 0 0 0.686 0 0 0 0 0.490 0 0 0 0 0.451 1 0 0 0 0"/><feComponentTransfer><feFuncA type="linear" slope="2.2" intercept="-0.95"/></feComponentTransfer><feComposite in2="SourceGraphic" operator="in"/></filter><filter id="g2a" x="0" y="0" width="100%" height="100%" color-interpolation-filters="sRGB"><feTurbulence type="fractalNoise" baseFrequency="0.1" numOctaves="2" seed="41" result="n"/><feColorMatrix in="n" type="matrix" values="0 0 0 0 0.824 0 0 0 0 0.627 0 0 0 0 0.569 1 0 0 0 0"/><feComponentTransfer><feFuncA type="linear" slope="2.0" intercept="-0.8"/></feComponentTransfer><feComposite in2="SourceGraphic" operator="in"/></filter><filter id="g2b" x="0" y="0" width="100%" height="100%" color-interpolation-filters="sRGB"><feTurbulence type="fractalNoise" baseFrequency="0.55" numOctaves="2" seed="42" result="n"/><feColorMatrix in="n" type="matrix" values="0 0 0 0 0.980 0 0 0 0 0.965 0 0 0 0 0.957 1 0 0 0 0"/><feComponentTransfer><feFuncA type="linear" slope="2.4" intercept="-1.0"/></feComponentTransfer><feComposite in2="SourceGraphic" operator="in"/></filter><filter id="g3c" x="0" y="0" width="100%" height="100%" color-interpolation-filters="sRGB"><feTurbulence type="fractalNoise" baseFrequency="0.12" numOctaves="2" seed="55" result="n"/><feColorMatrix in="n" type="matrix" values="0 0 0 0 0.784 0 0 0 0 0.471 0 0 0 0 0.373 1 0 0 0 0"/><feComponentTransfer><feFuncA type="linear" slope="2.2" intercept="-0.9"/></feComponentTransfer><feComposite in2="SourceGraphic" operator="in"/></filter><filter id="g3a" x="0" y="0" width="100%" height="100%" color-interpolation-filters="sRGB"><feTurbulence type="fractalNoise" baseFrequency="0.3" numOctaves="2" seed="51" result="n"/><feColorMatrix in="n" type="matrix" values="0 0 0 0 0.588 0 0 0 0 0.373 0 0 0 0 0.431 1 0 0 0 0"/><feComponentTransfer><feFuncA type="linear" slope="2.2" intercept="-0.95"/></feComponentTransfer><feComposite in2="SourceGraphic" operator="in"/></filter><filter id="g3b" x="0" y="0" width="100%" height="100%" color-interpolation-filters="sRGB"><feTurbulence type="fractalNoise" baseFrequency="0.35" numOctaves="2" seed="52" result="n"/><feColorMatrix in="n" type="matrix" values="0 0 0 0 0.910 0 0 0 0 0.804 0 0 0 0 0.765 1 0 0 0 0"/><feComponentTransfer><feFuncA type="linear" slope="2.6" intercept="-1.35"/></feComponentTransfer><feComposite in2="SourceGraphic" operator="in"/></filter><filter id="g4c" x="0" y="0" width="100%" height="100%" color-interpolation-filters="sRGB"><feTurbulence type="fractalNoise" baseFrequency="0.12" numOctaves="2" seed="65" result="n"/><feColorMatrix in="n" type="matrix" values="0 0 0 0 0.824 0 0 0 0 0.549 0 0 0 0 0.412 1 0 0 0 0"/><feComponentTransfer><feFuncA type="linear" slope="2.2" intercept="-0.9"/></feComponentTransfer><feComposite in2="SourceGraphic" operator="in"/></filter><filter id="g4a" x="0" y="0" width="100%" height="100%" color-interpolation-filters="sRGB"><feTurbulence type="fractalNoise" baseFrequency="0.3" numOctaves="2" seed="61" result="n"/><feColorMatrix in="n" type="matrix" values="0 0 0 0 0.627 0 0 0 0 0.392 0 0 0 0 0.431 1 0 0 0 0"/><feComponentTransfer><feFuncA type="linear" slope="2.2" intercept="-0.95"/></feComponentTransfer><feComposite in2="SourceGraphic" operator="in"/></filter><filter id="g4b" x="0" y="0" width="100%" height="100%" color-interpolation-filters="sRGB"><feTurbulence type="fractalNoise" baseFrequency="0.35" numOctaves="2" seed="62" result="n"/><feColorMatrix in="n" type="matrix" values="0 0 0 0 0.910 0 0 0 0 0.784 0 0 0 0 0.725 1 0 0 0 0"/><feComponentTransfer><feFuncA type="linear" slope="2.6" intercept="-1.4"/></feComponentTransfer><feComposite in2="SourceGraphic" operator="in"/></filter></defs><rect x="495.8" y="238.8" width="90.20" height="68.60" fill="#8e908e"/>
<rect x="495.8" y="238.8" width="90.20" height="68.60" fill="#fff" filter="url(#fDn)"/>
<line x1="495.8" y1="239.10000000000002" x2="586.0" y2="239.10000000000002" stroke="#b0b0b0" stroke-width="0.6"/>
<g filter="url(#soft2b)"><g stroke="#b8bab8" stroke-linecap="round" fill="none"><path d="M518.3 264.9L531.6 258.3" stroke-width="4.7"/><path d="M513.8 271.0L517.8 288.0" stroke-width="5.5"/><path d="M535.5 254.8L548.8 258.3" stroke-width="4.3"/><path d="M558.5 257.5L569.8 275.0" stroke-width="5.9"/><path d="M525.0 271.5L544.8 275.5" stroke-width="4.5"/><path d="M529.0 279.5L548.8 280.8" stroke-width="4.3"/><path d="M542.2 272.9L560.8 278.2" stroke-width="4.5"/><path d="M548.8 267.6L564.8 271.6" stroke-width="4.3"/><path d="M551.5 276.9L567.4 282.2" stroke-width="4.3"/><path d="M521.0 283.5L534.2 288.8" stroke-width="4.7"/><path d="M538.6 288.0L541.8 299.0" stroke-width="4.3"/><path d="M553.2 289.5L556.4 306.5" stroke-width="3.9"/><path d="M525.5 302.3L538.0 304.0" stroke-width="3.1"/><path d="M530.5 262.5L545.0 268.0" stroke-width="4.3"/><path d="M541.0 259.5L556.0 264.5" stroke-width="4.1"/><path d="M519.5 276.0L527.5 281.0" stroke-width="4.3"/><path d="M534.0 284.0L546.0 289.0" stroke-width="4.1"/></g><g stroke="#858785" stroke-linecap="round" fill="none"><path d="M518.3 264.9L531.6 258.3" stroke-width="3.4"/><path d="M513.8 271.0L517.8 288.0" stroke-width="4.2"/><path d="M535.5 254.8L548.8 258.3" stroke-width="3.0"/><path d="M558.5 257.5L569.8 275.0" stroke-width="4.6"/><path d="M525.0 271.5L544.8 275.5" stroke-width="3.2"/><path d="M529.0 279.5L548.8 280.8" stroke-width="3.0"/><path d="M542.2 272.9L560.8 278.2" stroke-width="3.2"/><path d="M548.8 267.6L564.8 271.6" stroke-width="3.0"/><path d="M551.5 276.9L567.4 282.2" stroke-width="3.0"/><path d="M521.0 283.5L534.2 288.8" stroke-width="3.4"/><path d="M538.6 288.0L541.8 299.0" stroke-width="3.0"/><path d="M553.2 289.5L556.4 306.5" stroke-width="2.6"/><path d="M525.5 302.3L538.0 304.0" stroke-width="1.8"/><path d="M530.5 262.5L545.0 268.0" stroke-width="3.0"/><path d="M541.0 259.5L556.0 264.5" stroke-width="2.8"/><path d="M519.5 276.0L527.5 281.0" stroke-width="3.0"/><path d="M534.0 284.0L546.0 289.0" stroke-width="2.8"/></g><circle cx="522.2" cy="262.9" r="0.38" fill="#d0d2d0"/><circle cx="520.2" cy="264.7" r="0.43" fill="#4a4c4a"/><circle cx="523.4" cy="261.3" r="0.50" fill="#d0d2d0"/><circle cx="520.0" cy="264.1" r="0.68" fill="#d0d2d0"/><circle cx="525.2" cy="260.6" r="0.54" fill="#5a5c5a"/><circle cx="521.8" cy="262.2" r="0.46" fill="#5a5c5a"/><circle cx="520.3" cy="263.4" r="0.38" fill="#4a4c4a"/><circle cx="525.9" cy="261.2" r="0.54" fill="#c8cac8"/><circle cx="525.3" cy="261.6" r="0.44" fill="#5a5c5a"/><circle cx="516.0" cy="282.7" r="0.53" fill="#c8cac8"/><circle cx="516.2" cy="284.0" r="0.39" fill="#b0b2b0"/><circle cx="514.3" cy="275.3" r="0.50" fill="#4a4c4a"/><circle cx="516.9" cy="284.3" r="0.46" fill="#c8cac8"/><circle cx="516.3" cy="280.9" r="0.64" fill="#c8cac8"/><circle cx="516.1" cy="278.2" r="0.60" fill="#d0d2d0"/><circle cx="518.3" cy="286.6" r="0.49" fill="#c8cac8"/><circle cx="514.0" cy="271.5" r="0.39" fill="#4a4c4a"/><circle cx="514.3" cy="275.7" r="0.49" fill="#b0b2b0"/><circle cx="537.1" cy="255.3" r="0.66" fill="#b0b2b0"/><circle cx="546.2" cy="257.6" r="0.48" fill="#b0b2b0"/><circle cx="547.1" cy="257.5" r="0.43" fill="#5a5c5a"/><circle cx="536.8" cy="254.5" r="0.45" fill="#5a5c5a"/><circle cx="541.0" cy="256.4" r="0.68" fill="#d0d2d0"/><circle cx="547.8" cy="258.3" r="0.51" fill="#d0d2d0"/><circle cx="540.7" cy="255.6" r="0.57" fill="#4a4c4a"/><circle cx="539.2" cy="255.5" r="0.39" fill="#d0d2d0"/><circle cx="536.0" cy="254.6" r="0.39" fill="#c8cac8"/><circle cx="564.3" cy="267.4" r="0.48" fill="#c8cac8"/><circle cx="569.0" cy="273.4" r="0.39" fill="#b0b2b0"/><circle cx="569.1" cy="274.0" r="0.38" fill="#4a4c4a"/><circle cx="567.2" cy="270.1" r="0.59" fill="#d0d2d0"/><circle cx="560.3" cy="258.8" r="0.40" fill="#d0d2d0"/><circle cx="569.0" cy="272.3" r="0.58" fill="#4a4c4a"/><circle cx="565.6" cy="269.0" r="0.41" fill="#5a5c5a"/><circle cx="565.1" cy="266.4" r="0.43" fill="#5a5c5a"/><circle cx="568.0" cy="271.6" r="0.43" fill="#d0d2d0"/><circle cx="535.1" cy="274.3" r="0.63" fill="#b0b2b0"/><circle cx="530.9" cy="273.4" r="0.51" fill="#c8cac8"/><circle cx="542.8" cy="274.7" r="0.43" fill="#5a5c5a"/><circle cx="532.0" cy="273.7" r="0.56" fill="#4a4c4a"/><circle cx="534.8" cy="273.9" r="0.38" fill="#4a4c4a"/><circle cx="542.7" cy="275.4" r="0.52" fill="#5a5c5a"/><circle cx="533.9" cy="272.6" r="0.68" fill="#b0b2b0"/><circle cx="534.6" cy="272.7" r="0.41" fill="#5a5c5a"/><circle cx="526.6" cy="271.7" r="0.58" fill="#d0d2d0"/><circle cx="545.4" cy="280.8" r="0.47" fill="#d0d2d0"/><circle cx="539.0" cy="280.7" r="0.60" fill="#4a4c4a"/><circle cx="540.0" cy="280.1" r="0.66" fill="#5a5c5a"/><circle cx="530.1" cy="279.6" r="0.62" fill="#c8cac8"/><circle cx="534.5" cy="279.3" r="0.67" fill="#c8cac8"/><circle cx="546.2" cy="281.1" r="0.53" fill="#d0d2d0"/><circle cx="531.8" cy="279.7" r="0.66" fill="#5a5c5a"/><circle cx="541.2" cy="279.8" r="0.40" fill="#d0d2d0"/><circle cx="543.0" cy="280.2" r="0.53" fill="#d0d2d0"/><circle cx="551.6" cy="276.1" r="0.37" fill="#5a5c5a"/><circle cx="548.2" cy="274.5" r="0.55" fill="#4a4c4a"/><circle cx="550.7" cy="275.3" r="0.53" fill="#c8cac8"/><circle cx="550.8" cy="275.3" r="0.68" fill="#d0d2d0"/><circle cx="558.5" cy="277.0" r="0.55" fill="#5a5c5a"/><circle cx="556.6" cy="276.6" r="0.50" fill="#4a4c4a"/><circle cx="554.3" cy="275.9" r="0.46" fill="#4a4c4a"/><circle cx="557.6" cy="277.8" r="0.58" fill="#5a5c5a"/><circle cx="546.8" cy="274.3" r="0.61" fill="#4a4c4a"/><circle cx="555.3" cy="270.0" r="0.64" fill="#5a5c5a"/><circle cx="560.5" cy="270.2" r="0.50" fill="#c8cac8"/><circle cx="554.5" cy="268.2" r="0.54" fill="#b0b2b0"/><circle cx="559.6" cy="270.4" r="0.45" fill="#4a4c4a"/><circle cx="551.9" cy="267.8" r="0.66" fill="#4a4c4a"/><circle cx="552.7" cy="269.2" r="0.44" fill="#5a5c5a"/><circle cx="561.9" cy="271.0" r="0.68" fill="#b0b2b0"/><circle cx="552.4" cy="268.4" r="0.60" fill="#4a4c4a"/><circle cx="554.1" cy="268.3" r="0.66" fill="#c8cac8"/><circle cx="565.9" cy="282.1" r="0.38" fill="#5a5c5a"/><circle cx="553.8" cy="277.4" r="0.47" fill="#d0d2d0"/><circle cx="558.9" cy="279.3" r="0.37" fill="#5a5c5a"/><circle cx="566.4" cy="281.3" r="0.41" fill="#c8cac8"/><circle cx="561.3" cy="279.7" r="0.51" fill="#5a5c5a"/><circle cx="556.6" cy="279.2" r="0.36" fill="#4a4c4a"/><circle cx="562.9" cy="280.2" r="0.52" fill="#b0b2b0"/><circle cx="554.3" cy="277.6" r="0.52" fill="#b0b2b0"/><circle cx="565.9" cy="281.4" r="0.43" fill="#5a5c5a"/><circle cx="531.9" cy="288.0" r="0.49" fill="#c8cac8"/><circle cx="533.9" cy="287.6" r="0.57" fill="#c8cac8"/><circle cx="526.0" cy="286.1" r="0.48" fill="#d0d2d0"/><circle cx="529.3" cy="286.5" r="0.45" fill="#b0b2b0"/><circle cx="523.5" cy="283.8" r="0.48" fill="#c8cac8"/><circle cx="533.3" cy="288.0" r="0.69" fill="#c8cac8"/><circle cx="523.7" cy="284.5" r="0.38" fill="#c8cac8"/><circle cx="527.1" cy="286.2" r="0.35" fill="#c8cac8"/><circle cx="530.8" cy="287.8" r="0.49" fill="#c8cac8"/><circle cx="539.2" cy="291.7" r="0.54" fill="#5a5c5a"/><circle cx="541.0" cy="295.6" r="0.49" fill="#c8cac8"/><circle cx="540.8" cy="295.4" r="0.57" fill="#5a5c5a"/><circle cx="539.4" cy="289.6" r="0.57" fill="#d0d2d0"/><circle cx="539.2" cy="289.9" r="0.64" fill="#4a4c4a"/><circle cx="541.3" cy="297.3" r="0.59" fill="#5a5c5a"/><circle cx="538.3" cy="289.6" r="0.69" fill="#b0b2b0"/><circle cx="541.3" cy="297.0" r="0.57" fill="#5a5c5a"/><circle cx="539.4" cy="293.8" r="0.61" fill="#d0d2d0"/><circle cx="555.4" cy="304.1" r="0.61" fill="#b0b2b0"/><circle cx="553.5" cy="293.9" r="0.61" fill="#5a5c5a"/><circle cx="554.2" cy="293.8" r="0.65" fill="#4a4c4a"/><circle cx="555.0" cy="298.0" r="0.57" fill="#5a5c5a"/><circle cx="553.1" cy="291.2" r="0.61" fill="#c8cac8"/><circle cx="554.7" cy="299.8" r="0.52" fill="#4a4c4a"/><circle cx="555.6" cy="300.7" r="0.53" fill="#b0b2b0"/><circle cx="555.0" cy="298.1" r="0.54" fill="#c8cac8"/><circle cx="556.7" cy="304.7" r="0.51" fill="#d0d2d0"/><circle cx="537.0" cy="303.7" r="0.42" fill="#5a5c5a"/><circle cx="526.6" cy="302.7" r="0.44" fill="#c8cac8"/><circle cx="527.9" cy="302.6" r="0.66" fill="#c8cac8"/><circle cx="529.1" cy="302.7" r="0.36" fill="#4a4c4a"/><circle cx="537.0" cy="303.8" r="0.60" fill="#b0b2b0"/><circle cx="529.8" cy="303.2" r="0.35" fill="#c8cac8"/><circle cx="535.2" cy="304.1" r="0.60" fill="#c8cac8"/><circle cx="528.6" cy="302.7" r="0.65" fill="#4a4c4a"/><circle cx="530.1" cy="302.7" r="0.37" fill="#4a4c4a"/><circle cx="532.1" cy="263.2" r="0.40" fill="#c8cac8"/><circle cx="536.6" cy="265.3" r="0.62" fill="#b0b2b0"/><circle cx="543.2" cy="267.3" r="0.67" fill="#d0d2d0"/><circle cx="538.7" cy="264.8" r="0.61" fill="#b0b2b0"/><circle cx="538.7" cy="266.4" r="0.52" fill="#d0d2d0"/><circle cx="532.8" cy="263.2" r="0.45" fill="#c8cac8"/><circle cx="536.1" cy="264.8" r="0.58" fill="#4a4c4a"/><circle cx="532.9" cy="263.2" r="0.67" fill="#b0b2b0"/><circle cx="538.3" cy="265.2" r="0.62" fill="#b0b2b0"/><circle cx="543.2" cy="259.8" r="0.47" fill="#4a4c4a"/><circle cx="545.9" cy="261.6" r="0.42" fill="#4a4c4a"/><circle cx="551.7" cy="263.0" r="0.53" fill="#b0b2b0"/><circle cx="545.8" cy="261.0" r="0.55" fill="#c8cac8"/><circle cx="543.5" cy="260.5" r="0.65" fill="#5a5c5a"/><circle cx="543.6" cy="260.0" r="0.58" fill="#b0b2b0"/><circle cx="555.1" cy="264.6" r="0.36" fill="#4a4c4a"/><circle cx="547.9" cy="262.1" r="0.69" fill="#b0b2b0"/><circle cx="541.6" cy="260.3" r="0.64" fill="#b0b2b0"/><circle cx="526.5" cy="280.0" r="0.40" fill="#d0d2d0"/><circle cx="526.3" cy="281.1" r="0.60" fill="#b0b2b0"/><circle cx="520.9" cy="275.9" r="0.39" fill="#d0d2d0"/><circle cx="526.7" cy="280.1" r="0.39" fill="#c8cac8"/><circle cx="523.6" cy="279.0" r="0.38" fill="#c8cac8"/><circle cx="523.8" cy="278.4" r="0.43" fill="#d0d2d0"/><circle cx="520.0" cy="277.0" r="0.45" fill="#c8cac8"/><circle cx="525.1" cy="279.1" r="0.43" fill="#5a5c5a"/><circle cx="520.0" cy="276.6" r="0.37" fill="#5a5c5a"/><circle cx="540.2" cy="286.4" r="0.44" fill="#b0b2b0"/><circle cx="544.2" cy="287.8" r="0.47" fill="#b0b2b0"/><circle cx="538.4" cy="285.2" r="0.45" fill="#d0d2d0"/><circle cx="535.3" cy="284.1" r="0.62" fill="#5a5c5a"/><circle cx="536.7" cy="285.7" r="0.45" fill="#d0d2d0"/><circle cx="539.5" cy="286.1" r="0.50" fill="#4a4c4a"/><circle cx="544.4" cy="288.4" r="0.42" fill="#d0d2d0"/><circle cx="535.5" cy="284.3" r="0.49" fill="#c8cac8"/><circle cx="543.2" cy="288.2" r="0.47" fill="#5a5c5a"/><circle cx="532.9" cy="254.3" r="1.8" fill="#d4d6d4"/><circle cx="561.4" cy="253.6" r="1.5" fill="#cfd1cf"/></g>
<circle cx="496.8" cy="249.5" r="0.45" fill="#555"/>
<circle cx="496.5" cy="259.5" r="0.45" fill="#555"/>
<circle cx="503" cy="244" r="0.45" fill="#555"/>
<circle cx="574" cy="300" r="0.45" fill="#555"/>
<circle cx="506" cy="295" r="0.45" fill="#555"/>
<circle cx="580" cy="262" r="0.45" fill="#555"/>
<line x1="550.7" y1="309.6" x2="584.7" y2="309.6" stroke="#808080" stroke-width="0.8"/>
<text x="568.6" y="316.5" font-size="5.3" font-weight="bold" text-anchor="middle" fill="#222" font-family="'Liberation Sans',sans-serif">50 µm</text>
<svg x="592.2" y="238.3" width="92.00" height="69.00" viewBox="0 0 92.00 69.00" overflow="hidden">
<rect width="92.00" height="69.00" fill="#6a6872"/>
<rect width="92.00" height="69.00" fill="#fff" filter="url(#fEg)"/>
<g filter="url(#tex)">
<path d="M87.3 33.7l-.2 .1M20.4 50l-.2 .2M37.9 38.6l.6 .5M80.5 48.3l.1 .1M23.3 21l-.1 .2M20.7 13.6l0 .4M14.2 23.7l.3 .01M26.5 24.7l0 .1M77.4 53.3l-.1 .4M18.8 18.7l-.1 .1M.2 65.5l.3 .1M69.4 24.2l-.3 .3M79.6 5.5l-.4 .7M42.4 2.5l-.2 .7M78.7 .9l.4 .1M12 .4l-.8 .4M43.5 39.3l-.5 .4M54.1 62.4l.1 .4M33.9 22.6l0 .4M54.8 46.7l-.2 .5M10 38.8l.4 .7M32 59.6l.4 .6M36.9 6.4l-.1 .1M49.9 8.5l.7 .2M90.4 48.3l.1 .3M73 -.6l-.1 .1M14.3 -.4l-.5 .1M80.1 63.2l.8 .6M66.8 54l-.1 .4M72.6 20.1l.4 .01M9 29.5l-.2 .5M47.6 14.2l.5 .2M12.9 46.2l.3 .5M25.9 61.6l-.2 .01M85.5 46.9l.1 .1M28 63.6l-.3 .3M9 69l0 .3M60.3 10.3l-.4 .6M12 16.3l-.3 .3M34.9 7.6l.2 .8M55.5 20.1l.3 .8M20 34.3l-.7 .1M60.7 15.4l.6 .4M82.8 66.5l-.2 .3M28.9 8.8l.4 .6M12.5 19.4l-.7 .1M68.2 6.9l.2 .2M24.5 22.9l.4 .6M38.2 10.5l.3 .5M14.9 64l.5 .3M23.6 41.1l.2 .1M33.2 32.8l0 .01M58.2 48l-.3 .3M24.7 63.8l.3 .1M62.9 54.7l0 .4M66.4 16.7l.2 .3M90.4 22.4l.5 .4M21.8 32.5l-.1 .2M83.5 67.4l-.4 .4M13.1 38.6l0 .4M91.5 60.6l-.2 .01M61.4 50.9l-.2 .1M64.8 42.6l-.7 .1M39.2 38.8l-.9 .3M27.3 18.7l-.8 .5M58.2 53.1l-.5 .6M64.9 -.7l0 .3M62.3 44.9l0 .1M32 30.1l0 .01M46.9 11.9l-.2 .5M4.2 51.1l-.1 .2M19.7 62.9l-.2 .1M10.8 17.7l-.2 .01M68.8 5.8l.6 .6M40.1 42.4l.2 .01M56.3 46.9l.2 .5M17.9 4.2l-.1 1M64.7 7l-.3 .1M90.5 32.1l0 .1M2.1 3.3l.1 .01M70.8 7.1l0 .01M45.6 40.6l.1 .1M56.6 6.5l-.1 .3M89.5 34.6l-.8 .6M86.1 20.3l-.1 .01M88.9 1l0 .1M26 22.7l.2 .7M18.8 15.9l.1 .1M16.2 44l.3 .7M63.4 5.7l-.1 .2M51.9 52.4l-.2 .3M56 1.9l.1 .7M53.2 40.1l.5 .1M58.9 23l.1 .2M-1.3 58.2l.7 .01M61.8 54.9l.7 .3M77.7 66.7l.6 .2M-.1 16.8l.7 .5M46.3 52l.1 .1M70.6 67.2l-.5 .6M12.4 31l.2 .3M76 67.4l-.5 .2M20.7 27.8l.6 .3M72.6 8.9l.2 .1M12.9 8.1l0 .2M85.8 22.1l-.2 .2M35.7 34.8l-.2 .3M21.4 22.8l.3 .2M61.9 11.1l-.5 .1M68.6 51.8l.7 .1M61 64l.2 .3M66.5 8.4l-.4 .01M-.8 59.6l.9 .01M9 60.2l-.2 .01M43.8 62.3l-.1 .2M26.5 2.6l.2 .2M80.6 30.3l-.1 .1M31.9 67.6l-.1 .5M60.4 17.2l-.1 .2M63 60.3l.4 .7M86 58.3l-.3 .4M46.9 44.4l.2 .1M72.5 6.3l0 .01M80.3 -.9l-.7 .2M13.7 36.7l.6 .01M87.4 46.2l.7 .1M16.9 17.6l.6 .8M90 -.6l.4 .5" stroke="#891e2b" stroke-width="2.03" stroke-linecap="round" stroke-opacity="0.90" fill="none"/><path d="M34.4 26.4l-.5 .3M30.7 66.2l.3 .01M43.6 11l.4 .2M.7 66.1l.4 .6M30.6 21.9l-.2 .7M65.3 26.9l-.1 .3M45.6 5.9l0 .01M86.6 14.3l-.3 .7M64.5 2.3l-.2 .1M48.2 16.7l.6 .1M55.7 3.8l.4 .3M-.6 60.7l.1 .1M89.9 33l-.1 .1M24 35.2l-.4 .5M27 21.8l.3 .2M8.6 40l.5 .6M59.4 45l.4 .1M82.9 18.7l-.6 .5M41.8 60l-.2 .2M18.7 15.2l-.2 .1M49.2 26.5l-.3 .2M72.4 22l-.3 .8M9 1.5l.4 .5M23.2 50.5l.1 .01M80.4 36l-.1 .1M22.5 30.2l.1 .3M41.2 58.7l0 .1M53.2 44.6l-.7 .3M-.9 17.4l0 .1M66.9 65.8l.1 .2M39.4 66.1l-.1 .3M89.8 44.7l0 .1M27.3 59.3l.3 .3M2.1 46l.1 .1M31.8 3.4l.6 .6M30.1 3.2l0 .2M58.4 58.2l0 .01M3.4 49.6l.7 .1M84.1 43.8l-.7 .2M5.4 8.2l.1 .4M3.8 13.5l.1 .5M25.7 65.7l.4 .4M25.5 35l.4 .5M37.7 1.6l-.2 .2M9 3.1l.3 .1M59.4 67.1l.3 .01M39.1 62.1l-.1 .2M61.1 68l-.1 .1M15.4 28.7l-.8 .3M10.9 31.4l.1 .01M2.2 63.1l-.3 .6M91.1 6.7l0 .2M59.9 56.2l0 .1M9.1 25.8l-.1 .2M73.4 17.2l0 .4M52.1 69.9l-.2 .01M8.1 66.5l0 .7M5.9 12.3l0 .3M70.1 56.1l-.3 .5M6.2 55.5l-.3 .4M86.6 69.3l.2 .5M30.4 10.2l-.7 .1M59.2 68.3l0 .01M47.4 65.1l.1 .01M43.4 11.8l-.6 .1M73.5 29.5l.1 .01M64.7 41.5l.8 .2M24.6 46.1l-.3 .01M86.1 19.4l.4 .7M55.7 9.1l.3 .3M17.5 33.1l0 .8M44.9 64.2l-.2 .1M79.1 42.5l-.1 .2M3.6 47.1l-.4 .2M68.3 46.4l.2 .01M72.9 16.1l.2 .2M12.3 8.2l-.3 .2M67.1 63l.1 .2M42 34.8l-.4 .6M78.1 24.4l.5 .2M29 7.7l.1 .01M20.8 21.1l.1 .4M90.9 41.2l-.4 .5M42 17.1l-.5 .5M39.8 23.8l.2 .7M58.4 19.8l.5 .5M15.1 42.6l-.5 .3M18.6 23.1l.1 .3M77 6.3l.1 .5M4.5 38l.2 .2M48.1 6.1l-.2 .2M86.4 37.8l.2 .4M73.7 31.3l-.2 .5M85.7 37.6l.5 .6M82.7 48.4l-.1 .3M39.9 17.1l-.6 .2M1.8 10.6l-.3 .5M49.2 7.3l0 .3M89.4 39l.5 .6M32.8 10.7l.6 .1M82.7 55.8l-.7 .3M13.3 44.3l-.2 .6M24.4 17.6l-.4 .1M88.1 42.2l-.2 .1M67.3 .8l-.2 .2M76 66.6l-.4 .5M70.9 52.4l-.3 .7M63.6 29.7l-.5 .4M6.1 1.5l.2 .4M82.4 48.3l.4 .1M55.1 33.8l0 .6M73.5 26.2l.4 .1M26 29.3l-.4 .2M38.3 35.2l-.1 .01M5.7 35.3l.2 .3M36.3 1.9l.1 .1M78.8 30.2l.3 .2M77.6 4l.2 .3M75.1 64.3l-.2 .01M91.6 29.5l-.3 .6M28.9 1.3l-.4 .6M12.3 40.7l-.1 .4M14.3 .3l.3 .2M24.4 30.3l-.3 .1M14.2 -.4l.6 .1M22.3 27.8l.4 .3M39.4 6.4l-.3 .3M51.4 36.8l0 .1M52.6 51.3l.1 .1M92.5 21.6l.3 .6M81.5 66.4l0 .1M30.2 46.9l0 .01M31.5 62.2l-.3 .7M14.5 65.7l-.2 .3M63.5 48.6l0 .1M75.7 66.8l.2 .1M6.2 37.6l-.6 .5M77.4 35.3l-.2 .3M46.9 61.1l-.1 .3M36.5 2.1l.1 .1M53.4 52.2l.4 .5M65.6 2.9l-.2 .3M74.6 24.8l.5 .5M17.3 24.1l-.5 .7M76 47l0 .1M23.5 69.2l.3 .3M75.7 16.4l-.4 .3" stroke="#8a1322" stroke-width="1.70" stroke-linecap="round" stroke-opacity="0.90" fill="none"/><path d="M51.6 29.1l-.3 .1M55 68.8l0 .01M31.5 27.4l0 .01M.9 6.1l.2 .6M15.1 24l.5 .2M80.7 49.9l.2 .01M91.8 39.1l.5 .3M44.3 49.6l.5 .3M31.4 17l-.1 .3M29.1 69.4l.2 .6M2.1 63.5l0 .01M2.8 -.1l-.1 .3M80.1 56.1l-.3 .4M2.2 22.4l-.5 .1M23.2 42l.5 .1M22.6 11.3l-.1 .01M54.9 44.6l.4 .2M92.1 -1l.1 .1M19.6 41.8l.1 .1M65.9 64.5l.1 .1M5.5 41.6l.1 .3M55.8 50.9l0 .1M37.8 27.7l0 .01M68.3 43.2l-.2 .1M20.4 50.1l.4 .2M78 27.1l-.4 .4M87.6 41.8l-.2 .5M34.3 18.1l0 .6M26.5 36.4l.1 .2M-.4 19.4l-.1 .4M16.1 35l.1 .1M33.6 28.5l-.5 .3M8.2 16l-.2 .3M5.4 4.1l.1 .2M74.7 54.5l0 .01M3.2 16.2l.1 .2M17 37.7l-.7 .1M17.5 28.4l0 .1M-.2 7.7l0 .5M22.8 23.5l.1 .5M17.8 9.3l0 .1M26.6 34.3l-.4 .2M79.8 56.9l.1 .5M54.6 69.6l0 .01M90.4 18.1l-.1 .01M24 28.9l-.4 .5M42 6.9l0 .01M90.1 27.7l.5 .4M9.1 6.2l.1 .1M48 15.8l-.3 .1M21.2 -.9l-.1 .2M3.2 28.7l.2 .01M12.3 49.4l0 .01M30.1 2.6l0 .01M67.6 41.1l-.3 .01M63.3 37.7l.1 .1M51.7 15.6l.1 .01M73.3 28.1l-.4 .1M56.2 7.2l.2 .2M12.8 27.1l-.1 .2M2.3 25.1l-.3 .2M49.9 16.4l0 .1M1.1 53.3l0 .1M32.5 18.1l.1 .2M36.2 .6l.2 .1M87.9 41.5l-.7 .1M9.1 43.1l.2 .2M36.2 62.2l-.3 .2M64.3 17.3l.3 .6M31 22.3l-.2 .1M60.7 7.6l-.2 .1M58.7 45.9l0 .01M20.8 23.8l0 .3M39.7 22.1l.4 .2M4.9 25.3l0 .1M20.8 8.8l.2 .3M47.9 59.8l.4 .5M88.6 -1l.2 .3M33.2 24.3l.2 .5M36.8 34.4l-.3 .2M64.6 53.2l-.3 .1M9.5 65.1l0 .01M89.3 33.1l-.1 .1M14.3 16.2l.1 .4M30.5 12.4l.3 .01M77.2 4.1l.1 .2M30.1 13.7l-.2 .1M76.6 36.2l.1 .3M39.1 39.8l-.1 .6M49 68l.2 .2M18.7 49.7l.4 .1M22.4 28.1l-.2 .01M47.5 26.9l.2 .1M64.8 2.2l0 .01M84.1 5.6l.3 .4M92 12.3l.1 .7M83.6 16l-.3 .3M3.8 46.3l.1 .1M12.2 60.1l0 .01M41.2 7.5l.2 .4M8.9 34.1l-.2 .2M29.4 44.9l-.1 .01M27.5 60.7l-.5 .1M62.7 24.1l0 .2M48.7 51.2l0 .6M40.1 7.1l-.2 .1M90.5 2.6l.1 .1M56.9 69.6l-.1 .1M69.7 43.3l-.6 .1M76.2 1.6l-.3 .2M72.6 19.1l-.3 .2M91.9 52.3l-.5 .2M1.5 69.5l-.2 .2M48.6 63.9l-.2 .3M72.2 67.2l.1 .5M67.8 19.2l-.1 .01M69.2 21.9l-.1 .3M22 22l0 .1M50.4 59l.2 .4M10.9 54.8l-.5 .2M11.9 21.9l0 .1M13.7 1.7l-.2 .01M59.6 32l-.5 .1M56.6 2.5l0 .1M92.6 49.4l-.1 .01M36.1 15.7l.2 .2M14.3 22.1l0 .1M39.8 13.5l-.2 .1M69.3 6l-.5 .1M77.4 .4l-.3 .6M63.4 2.5l0 .2M75.1 5.8l0 .4M92.5 52l-.1 .01M-.5 59.3l0 .7M46.2 46.3l0 .5M88.8 2l.1 .1M17.5 27.6l.1 .4M8.8 1.8l.5 .01M2.7 66.8l-.1 .01M1.5 -.7l.1 .2M45 67.3l-.4 .1M79.3 57.3l-.1 .4M36 42.7l.4 .4M58.5 60.6l.1 .01" stroke="#891e2b" stroke-width="1.37" stroke-linecap="round" stroke-opacity="0.90" fill="none"/><path d="M56 68.3l-.1 .1M26.8 69.2l0 .3M73.6 3.9l.4 .5M- 21.2l.3 .9M10.5 8.6l.6 .3M31.2 43.3l0 .1M57.8 3.2l.7 .4M21.5 30.3l.7 .2M42.1 9.5l.1 .2M47.5 15.1l0 .01M54.9 9.7l-.2 .3M85.4 25.1l-.1 .1M2 2.8l.2 .4M22.5 69.2l-.4 .1M30.9 12l.4 .3M90.9 29.8l-.2 .5M6.4 46.4l.1 .2M21.5 16.6l0 .1M63.7 45.8l.2 .1M61.2 55.7l-.4 .1M35.4 35.3l.3 .2M22.5 25.4l.4 .3M20.3 56.6l0 .1M20.4 29.5l0 .01M30.3 2.8l.7 .1M44.8 44.1l-.1 .7M2.3 3l-.2 .3M10.3 7.5l-.1 .2M12.2 36.6l.9 .5M.4 55.5l.8 .3M9.4 59.8l.2 .4M7.8 21l.5 .7M63.7 30.9l.4 .1M33.7 62.9l.1 .2M18.2 5.4l.6 .2M4.1 38.5l-.5 .2M25.8 27.6l-.1 .5M91.6 29.9l.6 .01M37.7 21.2l.8 .5M4.4 1.4l-.2 1M91.8 17.3l-.3 .1M5.3 43l-.2 .7M49.4 60.2l.1 .1M86 39.4l.7 .01M65.4 47.6l.5 .2M84.5 32.7l-.9 .5M18.3 16l0 .1M73 54.9l.1 .3M46.7 23l-.2 .6M4.9 30.5l-.1 .1M80.5 41.9l-.6 .5M31.3 63.9l.1 .3M2 -.7l-.8 .2M74.3 62.5l.4 .5M70.1 62.4l-.4 .7M79.6 14.8l.2 .3M38.2 2.9l.2 .6M67.2 66.1l-.4 .5M16.7 24.4l.7 .2M92.4 54l.2 .1M5.4 24.7l-.1 .1M30.7 39.9l.2 .5M42.6 24.1l.4 .1M25.4 11.3l.5 .5M51.2 20l-.6 .5M30.7 12.8l-.2 .01M26.3 37.2l.1 .3M87 57l-.4 .7M8.6 43.4l-.7 .01M59.3 25.5l-.8 .5M67.1 49.9l0 .5M70.5 1.6l.2 .2M33.1 69.2l.7 .5M80.6 14.6l-.1 .01M7.7 .8l-.7 .1M87.5 55.8l.1 .01M26.1 40.8l.2 .8M62.7 67.3l-.6 .01M12.3 13.5l.4 .6M60.9 43.4l.5 .4M65.9 6.9l.7 .01M27 40.9l-.3 .1M29.9 34.8l-.1 .3M51.4 56.6l.1 .7M5.6 10.9l.4 .1M9.9 31.7l.7 .01M9.4 37.4l-.7 .4M24.3 35.7l.1 .1M47.8 4.2l.3 .1M92.6 61l-.4 .6M61.9 46.6l.9 .2M51.9 18.6l0 .01M46.3 37.3l-.7 .5M88 4.5l-.4 .2M86.1 21l-.7 .7M10.8 3.1l0 .1M59.6 21.8l.3 .6M60 6.1l-.4 .01M55.4 48.4l-.9 .1M58 67.6l-.8 .1M11.8 11.3l-.7 .5M47 64.6l.3 .6M5.3 65.8l.5 .9M22.7 54l.1 .6M45.7 53.4l-.5 .4M87.6 32.8l-.6 .4M54.1 13.4l-.1 .3M38 36.5l.3 .4M57.7 60.8l-.5 .7M52.8 46.2l-.2 .7M2.7 34.7l0 .4M11.7 51.6l-.3 .4M6.1 3.5l.2 .2M88.3 6.2l-.3 .2M3 4.1l.3 .01M36.2 46.8l-.6 .2M91.5 1.7l-.5 .8M22.5 55.8l-.3 .5M22.3 9.8l0 .1M16.5 38.7l-.7 .3M65.3 6.8l-.4 .5M49.2 25.6l.1 .1M30 64l-.1 .2M71.4 35.1l0 1M74.3 4l.3 .5M54.6 42.2l-.2 .6M51.1 35.1l.3 .4M6.9 39.6l-.2 .2M89.4 42.4l-.1 .2M3 11.8l0 .2M78 42.5l.6 .3M84.8 51.6l-.6 .8M2.1 18.7l.3 .01M39.5 22.7l-.1 .2M44.4 53.2l0 .01M66.8 55.5l-.1 .7M3 25.9l0 .01M29.6 40.2l.4 .9M8.6 40.2l.2 .01M86.2 61.2l.6 .8M82.6 38.3l-.2 .5M44.9 14.9l-.1 .1M92 25.4l-.3 .4M55.8 44.2l.1 .7M.1 39.3l.6 .8M37.1 43l0 .2M89.2 53l0 .01M22.8 31.1l-.1 .4" stroke="#8a1322" stroke-width="2.03" stroke-linecap="round" stroke-opacity="0.90" fill="none"/><path d="M43.5 57.2l0 .1M90.2 50.6l-.6 .5M50.5 48l0 .4M39.9 32.9l-.1 .1M8.8 58.7l.1 .1M70.7 52.9l-.5 .7M13.7 31.8l-.1 .3M47.5 41.3l.4 .1M43 3.1l.1 .2M77.7 60.9l.1 .4M48 8.2l-.3 .01M47.8 36.9l0 .01M36.2 13.3l.1 .1M31 29.5l.4 .8M19.1 58.1l-.1 .2M14 1.7l.4 .3M34.8 53.7l.5 .4M3.9 25.6l0 .4M4.4 5.8l-.8 .5M30 11.8l.3 .9M43.8 35.6l.7 .2M14.7 50.6l1 .1M60 44.4l-.2 .1M92.1 37.8l-.2 .1M4.8 41.2l-.1 .8M45.2 9.2l.6 .8M6.1 41.8l-.1 .7M26.6 45.4l-.5 .3M78.4 54.8l.1 .2M28.5 46.9l0 .8M38.5 -.2l-.2 .1M87.1 46.3l.6 .8M47 15.8l-.3 .3M92.6 18.1l.2 .6M52.6 15.3l-.8 .3M14.7 .4l.1 .01M75.2 48.2l.3 .4M26.1 41.3l-.4 .7M56.9 9.4l-.7 .5M6.3 34.7l-.2 .3M31.7 3.6l.7 .6M6.6 40.1l-.1 .2M25.4 32.3l-.3 .1M5.6 40.7l0 .5M46.6 60.2l-.9 .01M81.3 26.3l-.4 .8M87.6 18.4l-.2 .6M23 52.2l-.1 .01M39.9 67.7l.4 .2M80.7 45.7l.6 .8M37.6 54.8l.9 .2M3.8 17.9l.5 .7M3.9 40.2l.5 .5M89.9 52.9l-.2 .5M81.1 50.3l.9 .2M11.3 9.3l-.2 .5M67.8 47.7l0 .1M72.6 63.3l-.1 1M30.9 12.4l-.4 .9M86.4 60.2l.1 .01M40.6 60.2l.2 .2M59.8 7.5l-.5 .2M38.5 26.2l.1 .2M4.2 40.9l.1 .7M60.6 15.5l-.1 .2M64.6 69.1l-.2 .6M10 53.4l-.3 .5M45.5 8.6l.6 .3M41.4 56.1l.3 .1M15.5 7.3l.4 .6M20.3 25.3l.2 .2M49.4 1.4l-.1 .01M54 61.2l-.5 .01M46.8 68.1l-.1 .6M76.1 64.9l.1 .01M75.9 31.7l.4 .3M75.3 48.8l-.4 .6M89.6 54.8l-.6 .1M19.1 31.2l.2 .3M57.3 63.5l.1 .3M45.6 63.6l-.3 .1M46.1 24.9l.7 .3M47.4 20.9l0 .1M49.6 39l-.1 .8M52.2 66.5l-.1 .8M36.8 53.4l.3 .9M55.8 7.9l-.6 .6M17.2 69l0 .3M22 3.8l.3 .9M.9 38.8l0 .1M.4 36.2l.4 .3M10.9 7.6l.6 .2M10.9 16.5l0 .01M61.3 35l-.1 .1M14.7 27.5l.1 .01M4.8 62l0 .1M15.6 5.6l0 .1M66.6 33.5l.2 .9M88.9 47.2l-.1 .2M1.5 32.7l0 .01M83.5 53.7l.2 .4M45.9 12.6l.9 .3M23.8 25.8l0 .5M68.5 45.6l.2 .2M59.5 9.4l-.2 .1M13.4 51.7l0 .01M38.6 14.9l.4 .3M21.9 30.9l.7 .3M64.1 54.6l-.6 .2M29.2 21.3l-.8 .2M46.7 56.7l.3 .4M35.2 31.4l-.1 .1M69.3 8l-.3 .8M46.1 5.6l-.1 .8M69.7 55.4l-.1 .6M34.7 40l.3 .1M42.8 63.8l-.6 .2M88.9 61.6l-.7 .1M15.4 3.6l.7 .01M28.7 .8l-.1 .1M33.6 31.5l.4 .8M44.5 17.5l0 .8M38.3 60.5l.4 .01M87.9 68.5l.1 .1M88.6 45l-.2 .7M45.7 69.5l.3 .6M83.2 17.6l.3 .3M89.1 1.9l-.6 .2M49.4 5.7l.6 .7M56.3 45.9l-.7 .3M35.3 29.3l-.1 .2M1.5 -l-.7 .5M18.7 18.5l.1 .01M29.3 65.3l-.8 .3M71.7 44.5l-.3 .1M18.4 38.5l0 .2M65.8 10.5l.3 .3M84.2 33.9l.1 .3M11.7 18.6l-.3 .5M38.9 46.6l.5 .3M18.3 7l-.4 .8M6.3 64l-.1 .1M46.3 61l.6 .1M77.4 38.6l0 .2M6.9 -1.4l.1 1M88.8 17.8l.3 .6M68.5 41.6l.2 .01M90.1 36.2l-.7 .01M50.5 65.7l0 .01M10.2 33.6l.5 .6M66.9 15.8l.4 .01M40.7 52.6l.1 .1M88.6 17.5l-.2 .9M20.3 18l.1 .2M4.4 41l-.4 .7M43.6 49.8l0 .7M43.4 6.5l-.8 .2M44.3 7.1l-.2 .1M53.2 50.1l.5 .1M91 40.1l0 .2M13.1 7.2l.1 .1M54.7 33l.3 .4M46.5 11.8l.4 .1" stroke="#862024" stroke-width="2.03" stroke-linecap="round" stroke-opacity="0.90" fill="none"/><path d="M-.5 22.2l.1 .4M83.7 15.1l.1 .1M78.3 5.7l-.1 .01M74.2 64.1l.1 .1M82.6 16.4l0 .01M26.4 65.2l-.5 .01M46.1 20.3l-.2 .2M49 22.3l-.1 .1M2 64.3l.2 .01M71 .4l.5 .1M80.2 68.3l-.3 .2M53.5 61.2l0 .01M18.1 38.1l.4 .5M78.7 l.1 .01M44 16.4l0 .01M42.4 17.1l.1 .01M35 36.8l-.4 .1M2.7 56.3l-.6 .1M22.8 64l.1 .2M35.4 -.3l-.2 .7M12.8 54.9l-.4 .3M81 7.5l-.1 .2M6.8 59.2l-.1 .1M69.9 45.4l-.1 .1M68.1 38.5l.1 .6M17.9 60.8l.1 .01M44 52.2l-.5 .3M30.2 14.8l0 .1M19.1 45.8l.1 .2M74.2 22l-.5 .1M24.7 45.9l.1 .01M45.5 62.9l.1 .01M7.2 60.1l-.2 .4M59.7 30.3l.1 .5M78.3 3.1l0 .1M57.7 7.2l.3 .4M13.7 26.5l-.1 .1M27.3 2.9l-.2 .2M41.6 64.8l.5 .4M32.7 28.8l.5 .01M72.7 55.3l0 .01M16.9 26.4l.1 .1M82.6 37.6l-.1 .2M18.1 42.4l-.1 .1M29.7 58.3l-.1 .01M6.7 26.2l-.5 .5M2.4 65.7l-.1 .01M66.7 12.4l.1 .4M61.7 53.2l-.4 .3M51.8 44.8l-.6 .3M65.4 45.9l-.1 .4M34.2 39.1l.6 .2M91 40.6l-.2 .1M52.4 17.1l.2 .1M27.6 16.6l.1 .1M91.9 62.2l0 .01M21 35.9l-.3 .1M65.6 43.7l-.3 .5M64.5 59.8l.2 .5M20.7 17l.3 .4M5.7 17.9l-.4 .6M63.3 17.3l.4 .2M82.4 46.1l0 .01M33.3 33.1l-.1 .5M38.4 22.3l.1 .5M27.2 -1l.6 .1M68.6 62.2l.1 .1M50.6 66.9l-.1 .01M81.3 52.3l0 .4M68.3 15.4l-.2 .1M5.4 59.6l.3 .2M20.5 43.3l-.1 .01M54.5 67.3l.4 .5M47.6 4.3l0 .2M61.4 18.8l.2 .01M41.8 9.5l0 .2M36.8 50.5l-.1 .2M22.5 10.8l-.1 .3M79.8 64.3l0 .1M82 53l.5 .3M91.9 21.7l-.1 .01M-.1 65l.4 .5M10.3 50.8l-.1 .1M82.4 67.5l.1 .3M47.3 67.7l.4 .01M88.6 48.5l.2 .2M18.9 28.6l-.2 .6M51.8 38l.2 .2M92.1 54.8l.1 .3M88.7 20.3l-.2 .3M65.2 17.2l-.3 .5M52.4 15.9l-.5 .01M61.8 20.1l0 .01M30.3 5.6l-.3 .2M85.7 34.7l.1 .6M32.8 9.3l.5 .2M7.5 13.2l-.1 .2M82.1 46.1l.4 .2M-1.1 32.2l.4 .1M87.5 23.9l-.6 .2M21.3 22l.1 .3M54.4 17l-.4 .2M20.8 42.1l-.2 .5M23 28.2l.3 .01M35 41.7l0 .1M64 1.9l-.5 .5M72.1 51.4l.1 .1M80.9 63.7l.4 .3M69.5 56.8l-.5 .3M26.3 1.3l-.5 .1M36.4 9.9l0 .5M5.7 52.1l-.5 .4M 20l.2 .5M83.2 48.6l-.1 .1M14.2 47.6l.4 .1M26.1 36.2l-.4 .1M23.2 -.3l-.2 .01M24.7 43.9l-.6 .3M77.3 4.1l.2 .6M26 32.7l.1 .01M59.9 7.2l0 .01M56.9 4.3l.2 .5" stroke="#8a1322" stroke-width="1.37" stroke-linecap="round" stroke-opacity="0.90" fill="none"/><path d="M49.9 57.4l.7 .3M80.2 41.6l.1 .01M84.4 3.6l-.1 .7M17.4 46l-.4 .4M43.7 62.6l0 .1M3.7 19.8l0 .01M35.2 51.3l-.4 .1M18.6 40.8l-.1 .3M81.9 11.7l-.5 .7M71.1 66.1l0 .1M85.8 38.5l-.1 .7M19.3 2.1l.1 .1M29.9 8.8l-.1 .5M74.1 31.9l-.6 .5M67.9 7.9l-.8 .2M75.5 25.1l.2 .2M47.5 21.4l-.1 .01M11.2 43.4l0 .01M4.1 41.6l-.3 .01M19.3 43.1l-.2 .1M1.3 35.2l0 .3M85.6 53.8l-.3 .8M89.8 35.2l.3 .3M34.5 1.4l-.1 .5M75.8 24.3l.2 .7M83.5 40.1l.4 .3M29.4 66.8l.1 .1M33.4 17.6l.2 .5M5.4 14.3l-.4 .4M21.6 1.9l-.1 .1M88.5 64.5l.7 .5M87.8 31.5l.8 .1M8.1 3.8l-.1 .1M66.1 44.9l.1 .1M30.3 11.1l.1 .2M77.7 53.2l-.2 .8M57.2 64.5l-.4 .4M39.2 6.4l-.5 .2M53.7 25.6l-.3 .2M84 62.3l-.3 .1M9.5 43.2l0 .2M47.4 33.8l-.1 .1M16.8 51.5l-.3 .3M17 32.3l.3 .01M66.4 67.6l.4 .2M1.4 5.8l0 .01M82.6 65.1l.5 .4M20.3 33l-.4 .1M14.2 6.2l-.1 .1M29.1 28.1l0 .1M59.4 38.5l.1 .8M33.8 8.8l.1 .1M11.5 34.1l-.8 .01M-.2 10.2l.1 .01M50.6 51.6l.5 .3M7.5 26.3l-.8 .2M31.8 65l-.1 .8M88.4 13.4l.4 .7M11.1 13.9l-.4 .1M68 9.4l.5 .6M9.7 4.4l-.1 .01M8.6 30.8l-.1 .6M34.1 11.7l.2 .01M73.5 55.8l-.6 .4M75.3 11l0 .4M78.6 59.8l0 .1M6.1 56.2l0 .01M27.3 36.9l-.2 .01M63.9 36l.3 .2M35.2 59.4l-.1 .2M4.2 68.6l.1 .8M17.4 35.9l.4 .7M53.8 68.3l0 .4M-.8 55.8l0 .6M1.8 32.7l.1 .3M25.1 3.6l0 .01M87.8 48.4l.1 .2M80.8 6.8l-.5 .4M70.2 38.9l0 .6M41.6 8.5l-.1 .4M1 60.6l.4 .4M39.7 66l0 .01M34.5 69.8l.1 .1M34.7 17.3l0 .1M64.2 24.2l0 .2M61.2 33.6l0 .4M24.5 23.4l0 .01M41.7 1.2l-.4 .1M60.9 8.2l-.1 .01M11.5 38.8l-.1 .6M54.3 18.1l.6 .3M38.1 55.5l.5 .5M89.8 -1l.4 .4M7.2 22.4l-.3 .4M13.6 21.8l-.1 .01M41.1 11.5l-.4 .7M80.5 44.9l-.2 .6M68.4 67.3l-.2 .2M71.5 15.8l.6 .4M28.6 59.6l.3 .4M79.9 53.6l.2 .7M69.9 27.4l0 .3M17.1 63l.4 .6M87.6 68.8l0 .1M58.4 2l-.4 .2M82.9 51.2l-.1 .7M47.5 63.9l.6 .3M77.4 17.6l0 .01M76.7 68.8l.6 .4M53.2 27.1l.1 .01M8.7 41.2l.1 .2M2 10.2l0 .7M11.1 42l-.4 .1M24.1 57.8l.4 .4M18.6 28.8l-.3 .3M4 5l-.1 .5M13.3 26.1l-.5 .4M9.9 4.6l0 .3M.1 45.6l.6 .1M11 26.3l.1 .5M24.3 65.7l.3 .3M19.6 39.7l-.1 .1M64.3 46.6l.2 .4M85.1 24.6l0 .2M11.1 17.8l-.2 .5M3 68.2l-.5 .5M84 20.8l0 .1M44 48.6l0 .5M28.2 29.2l-.3 .01M70.7 64l-.5 .2M76.1 67.2l.6 .1M17 -.3l-.1 .4M18.1 18.1l.4 .6M24.4 58.3l.1 .01M55.2 65.9l.6 .3M72.4 57.3l-.1 .2M37.4 1.1l.1 .4M49.8 34.1l-.4 .7M2.4 60.4l0 .7M67.9 14.3l.6 .4M60.6 49.3l-.2 .2M5.1 65.7l-.1 .8M6.8 49.4l.3 .1M63.6 64.2l-.5 .6M44.1 40.9l-.4 .3M25 47.1l.4 .4M7.4 7.1l.5 .2M38.1 9.4l.3 .1M62.2 53.5l.7 .4M18.6 38l0 .01M85.7 69.8l0 .3M11 29.7l-.2 .7M54.1 66.3l-.1 .1M57.7 13.6l-.1 .2M81.9 49.4l.6 .1M89.5 9l0 .8M18.7 4.8l.7 .4M15.2 62.2l.3 .6" stroke="#891e2b" stroke-width="1.70" stroke-linecap="round" stroke-opacity="0.90" fill="none"/><path d="M21 17.1l0 .5M65.8 49.2l.1 .6M62.3 52l-.2 .1M25 39.6l-.6 .1M3.2 35.3l.6 .1M71.9 15.2l-.1 .2M10.5 29.2l.2 .3M86.6 1.5l.1 .1M17.5 24.6l0 .5M17.6 2.9l.1 .01M51.5 44.7l.1 .1M60.9 40l-.1 .1M67.8 40.2l.3 .1M34.5 6.4l0 .01M50.8 17.6l.3 .5M32.2 24.9l-.1 .2M37.9 13.9l.5 .3M58.3 33.1l-.1 .2M7.7 40.9l.1 .01M54.5 51.9l0 .1M-.9 40.7l-.1 .2M61 9.7l.1 .5M41 40.7l0 .1M13.4 20.4l0 .1M75.7 65.6l.2 .3M9.9 40.3l.3 .01M44.1 20l0 .6M82.2 53.5l.5 .5M52.7 60.1l0 .6M26.4 68.2l.3 .2M50.6 46.9l0 .01M60.8 42.5l0 .01M18 15.5l-.3 .5M77.2 19.7l0 .5M41 .3l-.4 .3M2.1 51.2l-.2 .1M49 43.5l0 .1M81.6 56.6l-.3 .1M60.6 19.5l0 .3M32.5 30.3l-.1 .3M48.7 30l.2 .6M73.2 50.7l.3 .1M18.5 46.3l.2 .3M15.6 39.1l.2 .6M66.7 10.4l0 .1M48.1 64.4l-.1 .01M88.1 45.6l-.1 .1M62.3 67.2l.5 .3M92.8 16.9l-.1 .6M74.2 65.1l-.3 .4M20.1 5.3l.2 .2M37.7 18.6l.1 .01M28.2 56.4l0 .3M20.5 29.2l.1 .2M28.6 22.2l-.2 .01M48.6 57l-.5 .5M86.2 18.5l.1 .1M28.4 59.2l0 .2M48.1 19.1l.2 .2M79.2 26.7l-.6 .1M-.2 27l0 .3M36.2 40.3l.2 .1M67.5 36.9l-.4 .4M81.1 24.9l0 .1M26.1 29.5l-.1 .1M92.1 64.4l.2 .4M61.8 18.1l-.4 .5M5.2 18.7l.2 .1M63.1 57.1l.2 .01M23.1 21.8l.3 .1M58.9 52.4l-.4 .01M61.9 58.4l-.2 .1M3.1 8.2l-.4 .1M68.2 27.6l-.1 .2M91.3 46.8l.3 .2M71 18.7l0 .01M23.6 16l-.1 .2M1 26.4l.2 .1M68.8 63l.3 .01M52.8 20.4l0 .2M53.4 16l-.4 .3M75.9 1.2l0 .1M36.5 52.9l-.6 .1M42.7 69.7l.6 .1M4.6 35.5l-.3 .2M4.5 15.2l.1 .4M7.3 37.5l-.2 .3M-.3 32.6l0 .3M20.9 28l-.1 .1M2.6 18.5l.4 .3M38 64.8l-.2 .2M86 12.1l-.3 .1M53.9 9.9l.6 .01M18.5 26.9l.5 .2M23.8 36.4l-.3 .1M53.9 26.9l-.2 .5M13 13.5l.1 .1M84.7 6.5l.3 .3M46.2 16.5l0 .4M44.2 64.4l.1 .1M31.3 40.3l0 .01M52.4 17l.3 .6M36.1 43.8l-.2 .1M6.7 35.4l.6 .1M83.8 1.2l-.2 .01M28.8 25l0 .1M76.2 28.5l.1 .1M-.6 22.2l.3 .3M24.9 38.9l-.1 .4M.8 69.6l-.2 .1M67.3 15.7l.6 .1M78.2 46.2l0 .01M53.9 28.1l-.1 .6M47.5 19.3l-.2 .4M19.1 59.4l-.3 .4M15.6 66.9l-.1 .6M79.7 45.3l-.1 .4M56.3 1.1l.1 .5M20.2 2.2l-.1 .1M61.1 11.8l-.2 .1M51.8 36.3l.7 .1M52.8 1.4l0 .1M69.9 32.7l-.1 .01M80.6 64.3l-.6 .1M31.6 7.4l.2 .5M61.2 2.9l-.1 .01M41.3 2.3l.6 .1M12.5 33.9l-.2 .1M36.4 63.7l.2 .1M92 26.7l.2 .5M53.7 62.1l-.1 .01M9.2 21.8l.4 .3M48.7 31.4l.3 .01M22.8 25.4l.1 .1M51.8 13.2l-.4 .1" stroke="#862024" stroke-width="1.37" stroke-linecap="round" stroke-opacity="0.90" fill="none"/><path d="M.2 58l-.2 .2M16.1 1.6l-.2 .1M37.6 45.5l-.2 .5M91.6 46l.4 .7M54 19.7l.5 .5M82.8 10.6l-.1 .5M6.5 58.7l.2 .4M92.8 53.4l-.2 .4M29.4 67.4l.1 .4M43.9 29.3l-.4 .3M52.4 47.9l.1 .4M85.3 62.4l-.1 .1M36.2 58.7l.1 .1M-.8 41l-.3 .01M6.4 50.3l.1 .1M3.2 11.4l.3 .7M65 7.8l-.8 .2M75.2 4.9l-.1 .1M86.3 3.8l0 .2M29.3 18l-.1 .4M80.4 66.5l.3 .7M23.2 19.3l.5 .3M81.6 61l0 .2M39.7 23.6l.1 .3M70.3 62.8l.1 .01M74.7 51.9l-.1 .1M35.9 47l.3 .1M67.6 28.5l-.1 .01M79.5 28.3l-.6 .2M40.1 11.1l.2 .01M11.3 51.6l.1 .1M36.2 57.2l.3 .3M23 42.3l-.3 .01M91.2 60.6l-.1 .4M47.8 42.5l.2 .01M49.3 6.3l-.1 .6M55 42.4l.4 .6M17.9 46.4l.2 .01M46.8 21.3l.4 .7M35.4 36.8l-.2 .1M72.6 21.2l.3 .6M69 41l-.2 .6M36.3 63.4l.2 .1M87.9 41.4l-.7 .3M5.5 35.2l.5 .2M20.3 39.3l-.2 .2M28.6 39.7l-.7 .1M3 32.5l-.5 .4M33.3 20.9l-.3 .7M31.9 14.1l.2 .5M35.4 42.8l-.1 .1M61.1 68.3l-.5 .2M43.6 33.7l-.2 .3M73.2 43.5l-.3 .6M90.7 61.9l.1 .01M3.5 43.7l.1 .3M80.3 45.4l.1 .4M4.6 30.5l.1 .7M60 13.3l0 .01M3.4 10.4l0 .01M80.1 60l.4 .3M14.3 21.9l-.6 .3M90.4 40.6l.6 .4M52.6 48.6l-.1 .7M91.7 50.1l-.3 .2M78.2 8.9l-.3 .1M64.8 5l-.8 .1M9.8 64.2l0 .1M65.2 41.4l.1 .5M73.1 43.8l.6 .1M84.1 38.9l0 .5M59.7 15.1l0 .1M17.1 50.3l-.3 .2M39.1 61.3l0 .1M57.3 63.7l-.4 .1M38.2 51.8l0 .01M79.7 46.9l-.2 .1M56.8 44l-.4 .5M.8 36.5l-.3 .4M79.8 44.2l.2 .3M61.8 52.7l-.1 .5M43.7 .5l0 .2M18.6 44.7l.7 .3M35.3 40.3l.2 .3M82.6 67.9l-.7 .1M21.5 50.7l0 .01M87.8 39.1l0 .3M14 15.2l.2 .01M37.6 5.5l.1 .2M30.5 20l-.3 .01M69.8 35.9l.1 .1M54.5 66.4l0 .7M28.4 36.7l0 .2M18.7 18.1l.6 .4M88 3.6l.7 .2M35.6 6l.5 .01M70.9 12.1l.2 .2M43.8 31.3l-.7 .3M35.6 57.1l0 .01M34 68.5l0 .01M34 60l.3 .5M29.4 20.3l.7 .1M75.1 6.4l.2 .1M31.4 10l0 .1M91.4 31.2l.3 .1M47.8 29l-.1 .3M11.3 7l-.1 .3M85.9 59l.1 .5M27.6 15.2l-.6 .4M30.7 51.8l.5 .4M49.5 49.7l-.2 .01M36.1 6.3l-.5 .6M40.2 32.3l-.7 .3M20.6 -.8l-.2 .1M7.5 58.2l0 .01M16.4 22.2l.1 .1M65.2 62.3l.4 .3M69.2 2l.5 .1M75.9 49l-.2 .3M5.6 49.3l-.1 .1M40.1 16.4l-.4 .01M39.3 13.9l.4 .5M61.8 64.5l-.1 .2M64.4 56l-.2 .3M77.4 28.2l.6 .4M46.1 25.8l-.3 .3M16 24.1l0 .1M11.8 61.9l0 .1M88.9 62.9l.1 .6M43.2 63.7l.1 .01M33.2 68.1l.1 .1M25.1 47.8l0 .5M79.2 45.2l.1 .01M3.5 65.5l.3 .1M1 37.2l-.1 .2M71.5 37.1l.2 .5M67.9 69.4l.3 .4M42 10l.1 .1M77.2 51.3l-.2 .4M23.4 40.2l.6 .3M59.4 18.9l.7 .2M64.2 40.9l.4 .2M8.8 42.5l.7 .4M76.2 47l0 .3M37.7 31.1l.6 .1M54.7 50.9l.1 .01M63.6 62.6l.7 .3M51.7 51.5l.1 .6M46 52l-.3 .8M35.2 42.9l-.3 .4M57.7 45.4l.1 .1M2.9 60.2l0 .01M54.5 9.8l.1 .7M50.1 15.2l0 .6M20.4 52.8l-.2 .1" stroke="#862024" stroke-width="1.70" stroke-linecap="round" stroke-opacity="0.90" fill="none"/>
<path d="M-.8 55.9l0 .01M56.3 68l0 .01M69 67.3l0 .01M86.3 65.1l0 .01M31 5.6l0 .01M65.2 29.8l0 .01M63.9 60.6l0 .01M73.4 43.7l0 .01M12.6 18.3l0 .01M78.8 63.9l0 .01M61.7 14.5l0 .01M39.6 16.1l0 .01M5.9 5.9l0 .01M18.7 66.3l0 .01M7.3 42.9l0 .01M14.5 50.8l0 .01M65.2 34.3l0 .01M92 59.9l0 .01M81.8 9.3l0 .01M59.3 3.6l0 .01M10.8 57.6l0 .01M50.4 54.5l0 .01M82.6 17l0 .01M77.1 17.4l0 .01M42.2 34.9l0 .01M44.4 65.7l0 .01M72.4 58.8l0 .01M85.2 40.2l0 .01M83.4 -.1l0 .01M74.4 12.9l0 .01M69.1 11.5l0 .01M52.7 70l0 .01M.7 65l0 .01M42.6 30.4l0 .01M56.7 7.7l0 .01M56.4 5.2l0 .01M91.3 49.4l0 .01M84.5 7.9l0 .01M35.9 44.4l0 .01M6.7 5.8l0 .01M16.4 26.3l0 .01M6.1 51.8l0 .01M87.1 36.4l0 .01M59.2 18l0 .01M53.8 1.8l0 .01M45.8 45.9l0 .01M90 14.4l0 .01M10.7 16.1l0 .01M5 5.5l0 .01M3.5 25.8l0 .01M22.1 30.1l0 .01M1.3 8.2l0 .01M12.9 53l0 .01M22 57.6l0 .01M88.3 17.1l0 .01M4.2 8.8l0 .01M64.7 57.5l0 .01M23.4 41.9l0 .01M23 52.5l0 .01M48.6 67.9l0 .01M66.4 5.5l0 .01M74.6 21.2l0 .01M81.9 34.3l0 .01M53.2 23.3l0 .01M5.4 9.3l0 .01M47.4 -.9l0 .01M18.7 32.7l0 .01M17.8 5.7l0 .01M85.2 6l0 .01M18.6 3.1l0 .01M36.1 68.1l0 .01M89.6 21.1l0 .01M69.3 22.8l0 .01M30.3 7.4l0 .01M25 52.3l0 .01M71.5 4.4l0 .01M76.5 31.5l0 .01M56.3 16.2l0 .01M76.2 9.5l0 .01M26.1 55.7l0 .01M4.5 39.9l0 .01M3 69.5l0 .01M19.3 46.6l0 .01M46.5 23l0 .01M27.2 31.7l0 .01M83.1 21.8l0 .01M12.5 8.9l0 .01M90.5 28.3l0 .01M15.9 16.5l0 .01M35 13.1l0 .01M39.2 62.3l0 .01M45.1 52.8l0 .01M79.3 -.9l0 .01" stroke="#beb1b0" stroke-width="0.85" stroke-linecap="round" stroke-opacity="0.75" fill="none"/><path d="M29.7 42.8l0 .01M73 48l0 .01M25.3 34.5l0 .01M92.8 12.9l0 .01M16.2 28.3l0 .01M33.3 42.5l0 .01M91.5 57.8l0 .01M11 43.3l0 .01M90 48.8l0 .01M51.2 66.9l0 .01M79.4 18.9l0 .01M68.1 2.9l0 .01M32.8 27.5l0 .01M77.9 9.6l0 .01M52 29.8l0 .01M57.6 44.7l0 .01M1.3 64.7l0 .01M18.1 37.4l0 .01M23.1 57.6l0 .01M85.4 45.6l0 .01M2.8 48.2l0 .01M75.5 58.4l0 .01M17.1 3.6l0 .01M78.2 59.5l0 .01M27 11l0 .01M9.8 20l0 .01M70.2 54.3l0 .01M74.4 49.2l0 .01M19.8 38.8l0 .01M30.2 40l0 .01M91.3 23.9l0 .01M7.1 42.4l0 .01M91.7 12.6l0 .01M33.2 27.9l0 .01M57.8 51.9l0 .01M10 18.2l0 .01M53.6 26.8l0 .01M35.1 13l0 .01M73.5 37.9l0 .01M62.6 50.4l0 .01M84.7 4l0 .01M68.1 69.5l0 .01M46.9 65.7l0 .01M88.1 10.9l0 .01M75.5 30.5l0 .01M25.8 51.8l0 .01M50.8 35l0 .01M76.5 66.2l0 .01M16.4 36.6l0 .01M72.6 9.1l0 .01M40.6 23l0 .01M8.9 68.9l0 .01M41.5 38l0 .01M87.5 21l0 .01M27.3 62.5l0 .01M85 11.2l0 .01M24.5 11.4l0 .01M73.8 17.1l0 .01M79.2 14.4l0 .01M49.7 29.3l0 .01M15.2 22.3l0 .01M32.9 69.9l0 .01M.5 12.2l0 .01M15.3 49.5l0 .01M9.8 15.6l0 .01M1.1 69.3l0 .01M.6 6l0 .01M61.7 8.6l0 .01M2.1 56.5l0 .01M90.1 28.8l0 .01M66.7 63.8l0 .01M27.6 68l0 .01M55.9 10.2l0 .01M59.5 20.4l0 .01M67.6 37.3l0 .01M14.9 51.6l0 .01M30 49.9l0 .01M30.9 32.6l0 .01M36.3 18.8l0 .01M21.4 -.4l0 .01M75.2 50.7l0 .01M47.8 5.1l0 .01M2.6 49.6l0 .01M7.6 25.1l0 .01M71.7 40l0 .01M47.4 22.8l0 .01M4.9 63.3l0 .01M11.8 65.2l0 .01M66.9 50.3l0 .01M-.4 14l0 .01" stroke="#ccbabf" stroke-width="1.02" stroke-linecap="round" stroke-opacity="0.75" fill="none"/><path d="M27.5 12l0 .01M80.1 39.5l0 .01M38 7.9l0 .01M13.6 45.3l0 .01M20 61.5l0 .01M34.3 33l0 .01M53.9 24.8l0 .01M9.9 25.1l0 .01M85.5 17.9l0 .01M82.4 15.1l0 .01M21.3 41.9l0 .01M25.3 19.3l0 .01M70.9 28.9l0 .01M34.6 60.9l0 .01M22.1 14.8l0 .01M61.5 3.1l0 .01M4.2 1.1l0 .01M60 24l0 .01M10 67.8l0 .01M59.3 64.2l0 .01M23.7 6.7l0 .01M51.6 49l0 .01M63.2 14.1l0 .01M37.4 43l0 .01M87.4 62.8l0 .01M58.7 41.9l0 .01M28.6 40.6l0 .01M36.4 5.8l0 .01M19.6 63.8l0 .01M91.9 61.9l0 .01M81.8 38.1l0 .01M-.1 5.5l0 .01M65.1 38.3l0 .01M38.7 13.3l0 .01M87.9 62l0 .01M59.1 62.2l0 .01M23.9 21.8l0 .01M88.9 13l0 .01M61.9 67.7l0 .01M-.8 9.9l0 .01M41.7 67.5l0 .01M84.8 63.4l0 .01M41.3 8.8l0 .01M11.4 28.1l0 .01M36.1 33.3l0 .01M44.2 3.9l0 .01M50.3 23.4l0 .01M66 66l0 .01M70.4 58.5l0 .01M78.7 13.6l0 .01M70.6 24l0 .01M20.4 39.8l0 .01M90.4 25.3l0 .01M73.6 37.3l0 .01M9.8 20.7l0 .01M45.6 29.8l0 .01M57.6 38l0 .01M84.5 56.3l0 .01M88.8 15.7l0 .01M37.6 33.3l0 .01M32.2 3.3l0 .01M22.4 34.3l0 .01M49.7 3.1l0 .01M17.7 70l0 .01M24.8 26.1l0 .01M3.9 18l0 .01M16.2 67.2l0 .01M45.6 28.2l0 .01M2 4.2l0 .01" stroke="#ccbabf" stroke-width="0.68" stroke-linecap="round" stroke-opacity="0.75" fill="none"/><path d="M9.6 12.7l0 .01M58.1 29.8l0 .01M12.8 50.4l0 .01M91.3 60.9l0 .01M17.5 6.7l0 .01M88.9 44.9l0 .01M-.8 44.4l0 .01M50.2 57l0 .01M5.8 .4l0 .01M-.6 12.3l0 .01M82.3 20l0 .01M10 35.2l0 .01M47.5 -.8l0 .01M63.9 44l0 .01M49.7 16.1l0 .01M83.3 26.9l0 .01M50.1 13.8l0 .01M52.5 30l0 .01M73.1 8.6l0 .01M26.3 19.1l0 .01M82.9 57.4l0 .01M24.9 7.8l0 .01M64.3 5l0 .01M61.7 32.7l0 .01M80.4 60.1l0 .01M55.3 32.4l0 .01M86.3 6.8l0 .01M49.5 66.8l0 .01M40.2 7.7l0 .01M54.6 38.7l0 .01M28.5 47.5l0 .01M88.4 59.2l0 .01M60.3 31.9l0 .01M13.9 9.1l0 .01M60.9 31.8l0 .01M15.8 62.2l0 .01M25.5 63.9l0 .01M70.9 36.1l0 .01M15.3 52.9l0 .01M40.2 19.5l0 .01M41.7 26.5l0 .01M20.3 66.4l0 .01M11.3 29.5l0 .01M68.9 15.8l0 .01M21.5 68l0 .01M23 61.6l0 .01M71.2 19.1l0 .01M83.6 39.1l0 .01M41.6 4.9l0 .01M48.9 54.7l0 .01M69.1 16.3l0 .01M26.1 63.9l0 .01M17.3 63.5l0 .01M37.9 25.8l0 .01M35.3 24.7l0 .01M46.1 61.8l0 .01M6.2 36.5l0 .01M10 55.7l0 .01M91.8 11.1l0 .01M9.3 -l0 .01M40.4 .4l0 .01M21.5 15.2l0 .01M8.5 51l0 .01M29.4 13.4l0 .01M64.5 1.4l0 .01M41.8 52.7l0 .01M2.4 38.2l0 .01M77.7 63.8l0 .01M7.5 21.7l0 .01M1.6 5.7l0 .01M66.5 14.5l0 .01M68.5 35.9l0 .01M60 10.5l0 .01M56.1 -1l0 .01" stroke="#d5b3bb" stroke-width="0.85" stroke-linecap="round" stroke-opacity="0.75" fill="none"/><path d="M69.8 46.7l0 .01M6.3 18.1l0 .01M10.9 3.7l0 .01M26.7 68.9l0 .01M9 49.5l0 .01M80.7 25.9l0 .01M12.2 49.8l0 .01M80.2 16.6l0 .01M5.8 51.4l0 .01M78.7 30.4l0 .01M22.5 59.7l0 .01M41.7 39.3l0 .01M30.3 69.1l0 .01M56.8 .9l0 .01M24 55.7l0 .01M78.2 51.7l0 .01M70.3 40.6l0 .01M81.9 68.9l0 .01M82.2 56.5l0 .01M50.5 9.4l0 .01M4.8 1.6l0 .01M85.4 47.4l0 .01M90 9l0 .01M6.2 20.9l0 .01M52.3 4.7l0 .01M60.4 68.3l0 .01M.2 61.5l0 .01M40.8 44.6l0 .01M27.2 38.2l0 .01M40.4 1.7l0 .01M78.2 19.7l0 .01M.5 32.6l0 .01M24.3 42.5l0 .01M1.1 7.9l0 .01M25.2 61.1l0 .01M40.7 62.6l0 .01M92 41.7l0 .01M33.1 29.9l0 .01M40.9 5l0 .01M12.8 31.8l0 .01M64.5 68.6l0 .01M66.7 63.2l0 .01M34.8 27.6l0 .01M75.9 52.6l0 .01M40.6 53.6l0 .01M80.8 5.8l0 .01M81.3 56.4l0 .01M31.5 67.3l0 .01M18.5 7.7l0 .01M51.9 29l0 .01M80.9 51.7l0 .01M17.2 57.1l0 .01M52.9 48.5l0 .01M21 47.6l0 .01M29 44.9l0 .01M21.2 15.4l0 .01M33.9 14.6l0 .01M26.3 14.6l0 .01M38.7 15.1l0 .01M73.3 51.1l0 .01M58.3 43.2l0 .01M3.7 -.3l0 .01M67.9 7.6l0 .01M46 -.7l0 .01M64.6 13l0 .01M11.6 5.5l0 .01M83.7 22.6l0 .01M59.7 48.7l0 .01M47.4 49.5l0 .01M58.1 39.3l0 .01M78.1 47.6l0 .01M42.2 .1l0 .01M57.4 52.4l0 .01M40.5 52.7l0 .01M62.9 20l0 .01M29.6 9.1l0 .01M72 17.8l0 .01M- 29l0 .01" stroke="#d5b3bb" stroke-width="1.02" stroke-linecap="round" stroke-opacity="0.75" fill="none"/><path d="M53.3 55.9l0 .01M87.5 44.8l0 .01M45.5 41.6l0 .01M38 41.2l0 .01M57.7 46l0 .01M11.8 68l0 .01M53.1 20l0 .01M61.4 5.8l0 .01M58.7 4.7l0 .01M70.6 66.4l0 .01M59.6 14l0 .01M-.6 62.7l0 .01M92.5 67.3l0 .01M35.3 31.1l0 .01M25.6 69.5l0 .01M16.5 3.6l0 .01M64.7 15.5l0 .01M9.3 40.6l0 .01M18.3 13.6l0 .01M3.3 7.1l0 .01M47.8 57.4l0 .01M25.9 38.3l0 .01M66.8 25.7l0 .01M32.9 29.3l0 .01M20.7 43.3l0 .01M43.6 22.8l0 .01M22.6 49.7l0 .01M1.7 38.8l0 .01M2.1 10.4l0 .01M47.5 27l0 .01M21.5 58.9l0 .01M67.7 33.9l0 .01M32.9 17.1l0 .01M45.8 67.2l0 .01M41.2 44.7l0 .01M85.3 56l0 .01M63.5 34.4l0 .01M52 22.6l0 .01M15.5 28.9l0 .01M42.5 30.9l0 .01M59.4 15.1l0 .01M87.9 36.5l0 .01M87.3 38.3l0 .01M15.1 23.8l0 .01M35.8 20.8l0 .01M15.2 55.6l0 .01M82.9 2.1l0 .01M66.6 23.1l0 .01M-.8 64.7l0 .01M92 31.1l0 .01M54.8 19.1l0 .01M46.5 57.5l0 .01M79.7 68.7l0 .01M18.6 20.1l0 .01M43.8 40.7l0 .01M74.1 65.6l0 .01M64.8 63.7l0 .01M68.4 6.5l0 .01M92.6 46.6l0 .01M28.6 62.8l0 .01M89.1 61.8l0 .01M86.6 28.8l0 .01M41.9 3.8l0 .01M79.2 42.5l0 .01M65.3 37.7l0 .01M59.6 61.2l0 .01M28.4 23.4l0 .01M34.7 44.1l0 .01M1.9 36.6l0 .01M67.4 27.7l0 .01" stroke="#beb1b0" stroke-width="0.68" stroke-linecap="round" stroke-opacity="0.75" fill="none"/><path d="M34.6 61.4l0 .01M66.7 41.6l0 .01M92 33.6l0 .01M86.1 20.3l0 .01M56.3 5.6l0 .01M46.3 59.7l0 .01M32.2 37l0 .01M64.9 33.6l0 .01M65.6 35.9l0 .01M89.5 28.4l0 .01M89.3 35.7l0 .01M75.9 57.9l0 .01M81.6 46.1l0 .01M15.8 25.6l0 .01M24 28.6l0 .01M80.3 4.4l0 .01M18.9 21.6l0 .01M22 30.5l0 .01M9.2 20.2l0 .01M42.1 27.4l0 .01M65.9 8.6l0 .01M50.2 60.2l0 .01M44.3 8l0 .01M73.7 59.1l0 .01M73.9 7.3l0 .01M26.9 60.3l0 .01M31.2 19l0 .01M74.5 56l0 .01M52.5 51.7l0 .01M36.3 7.4l0 .01M32.9 36.5l0 .01M50.2 57.1l0 .01M91.9 30.9l0 .01M18.8 66.7l0 .01M74.7 56.8l0 .01M77 35.4l0 .01M90.8 9.4l0 .01M14.8 36.5l0 .01M63.4 13.1l0 .01M40 51.6l0 .01M54.9 14l0 .01M49.7 20.3l0 .01M29 66.8l0 .01M59.6 6.1l0 .01M65.9 25.8l0 .01M51.9 55.8l0 .01M36 11l0 .01M6.6 58.8l0 .01M23.9 48.3l0 .01M77.9 13.6l0 .01M28 21.3l0 .01M70.5 44.5l0 .01M53.7 58.5l0 .01M62.9 6.9l0 .01M88.1 9l0 .01M61.1 47.1l0 .01M74.7 32.2l0 .01M.1 59.4l0 .01M52.3 24.5l0 .01M21.9 56.1l0 .01M31.1 6.8l0 .01M74.2 5.3l0 .01M8.5 19.5l0 .01M31.3 11.7l0 .01M21.3 4.7l0 .01M55 5.7l0 .01M90.8 2.2l0 .01M80.5 50.6l0 .01M34.6 13l0 .01M82.8 54.4l0 .01M77.2 22.9l0 .01M88 64.2l0 .01" stroke="#ccbabf" stroke-width="0.85" stroke-linecap="round" stroke-opacity="0.75" fill="none"/><path d="M27.4 58.4l0 .01M18.2 31.2l0 .01M57.5 19.2l0 .01M57.4 26.1l0 .01M73.6 48.6l0 .01M78 18.9l0 .01M87.4 65.6l0 .01M92.7 10.5l0 .01M65.4 43.1l0 .01M16.6 33.2l0 .01M11.4 15.1l0 .01M55.4 69.8l0 .01M18.9 10.1l0 .01M67.9 30.1l0 .01M67.8 6.9l0 .01M33.8 62.6l0 .01M9.9 45.4l0 .01M15.5 53.9l0 .01M-.8 34.4l0 .01M33.8 42.1l0 .01M44.5 29.4l0 .01M53.7 43l0 .01M89 68.3l0 .01M17.8 12.4l0 .01M74 41.1l0 .01M57 7.5l0 .01M65 6.9l0 .01M44.9 47.1l0 .01M87 39.3l0 .01M55.5 1.4l0 .01M43.6 62.7l0 .01M42.1 34.1l0 .01M1 50.4l0 .01M14.4 44.7l0 .01M87.5 5.5l0 .01M66 15.5l0 .01M5.3 19.6l0 .01M12.3 6.2l0 .01M73.3 8.4l0 .01M73.8 8.4l0 .01M50 31.3l0 .01M71 30.2l0 .01M35.9 20.8l0 .01M35.7 62.6l0 .01M62.4 63.3l0 .01M72.7 2.8l0 .01M2.8 64.6l0 .01M55.3 27.7l0 .01M84.6 14l0 .01M20.6 18.4l0 .01M87.4 11l0 .01M31.9 45.3l0 .01M62.2 20.7l0 .01M68.3 26.3l0 .01M11.3 15.1l0 .01M58.3 21.1l0 .01M43 59.9l0 .01M40.6 50.3l0 .01M62.1 60.5l0 .01M79.6 18.4l0 .01M55.1 33.2l0 .01M82.9 37.9l0 .01M57.2 7.2l0 .01M90.6 55.7l0 .01M43.2 .7l0 .01M70.6 33.3l0 .01M9.3 7.2l0 .01M2.5 36.6l0 .01M55.8 7.3l0 .01M28.5 23.3l0 .01M87.8 39.5l0 .01M76.9 3.8l0 .01M55.6 20.5l0 .01M38.3 48.3l0 .01M76.3 52.1l0 .01M14 -l0 .01M58.4 32.7l0 .01M7.6 50l0 .01M89.4 45l0 .01M6.7 29.8l0 .01M55 61.8l0 .01" stroke="#beb1b0" stroke-width="1.02" stroke-linecap="round" stroke-opacity="0.75" fill="none"/><path d="M79.3 21.3l0 .01M7.7 37l0 .01M63.2 20.8l0 .01M54.1 34.2l0 .01M78.7 3.2l0 .01M54.2 36.4l0 .01M21 27.8l0 .01M86.9 41.7l0 .01M63.8 17.1l0 .01M.4 49.1l0 .01M92 62.6l0 .01M74.6 18.4l0 .01M28.2 34.8l0 .01M74 .1l0 .01M37.5 3.2l0 .01M41.1 52l0 .01M37.9 58.1l0 .01M33.7 60.8l0 .01M40.7 39.4l0 .01M79.2 48.2l0 .01M65.9 36.5l0 .01M30.4 41.3l0 .01M28.7 .6l0 .01M60.7 4.6l0 .01M46.8 21.5l0 .01M83.9 31.2l0 .01M61.5 45.6l0 .01M17.5 1.1l0 .01M22.2 54.9l0 .01M36.1 42.8l0 .01M74.7 66.5l0 .01M73.5 .4l0 .01M43 45.5l0 .01M58.5 12.1l0 .01M57.7 26.7l0 .01M19.3 66.3l0 .01M45.9 21.1l0 .01M9.7 34.3l0 .01M76.1 53.1l0 .01M52.6 48l0 .01M20.7 .6l0 .01M85.3 46.7l0 .01M68.3 30.5l0 .01M77.4 34.2l0 .01M66.7 14l0 .01M55.9 20l0 .01M82.4 5.2l0 .01M38.2 66.5l0 .01M8 40.1l0 .01M62.4 9.3l0 .01M85.8 11.4l0 .01M51 47.1l0 .01M66.8 48l0 .01M78.8 12.4l0 .01M90.2 30.5l0 .01M69.9 52.4l0 .01M49.5 32.4l0 .01M70.1 63.7l0 .01M47 12.3l0 .01M17.3 .9l0 .01M43.6 40.6l0 .01M31.9 23.6l0 .01M41.2 4l0 .01M76.7 59.1l0 .01M32.2 5.8l0 .01M1.6 36.7l0 .01M55.5 37.1l0 .01M58.4 51.9l0 .01M1.9 38l0 .01M68.2 7l0 .01M90.4 17.8l0 .01M59.7 57l0 .01M22.1 18.4l0 .01" stroke="#d5b3bb" stroke-width="0.68" stroke-linecap="round" stroke-opacity="0.75" fill="none"/>
</g></svg>
<line x1="644.0" y1="310.7" x2="680.8" y2="310.7" stroke="#808080" stroke-width="0.8"/>
<text x="662.4" y="318.3" font-size="5.3" font-weight="bold" text-anchor="middle" fill="#222" font-family="'Liberation Sans',sans-serif">100 µm</text>
<svg x="269.2" y="388.9" width="99.20" height="72.10" viewBox="0 0 99.20 72.10" overflow="hidden">
<rect width="99.20" height="72.10" fill="#dac0ae"/>
<rect width="99.20" height="72.10" fill="#fff" filter="url(#g1a)"/>
<rect width="99.20" height="72.10" fill="#fff" filter="url(#g1b)"/>
<rect width="99.20" height="72.10" fill="#fff" filter="url(#g1c)"/>
<g filter="url(#texH)">
<path d="M.7 19.6l-.2 .1M25.5 62.8l0 .2M88.8 49.1l0 .5M90 13.4l-.4 .7M29.3 57.8l.1 .8M75 45l.3 .4M90.7 56.2l-.4 .2M63.7 11.1l-.3 .8M84.6 4.3l-.6 .3M65.4 60.9l.1 .5M58 21.8l-.1 .1M2.1 40l.6 .4M73.9 28.5l-.1 .1M86.5 62.7l0 .01M51.4 23.7l.1 .2M6.6 72l.2 .9M59.9 4.2l.4 .4M39.7 49.2l.2 .6M10.7 14.7l.4 .5M41.8 4.8l-.6 .3M10 20.4l-.5 .1M86.8 13.1l-.5 .2M67.1 11.4l-.1 .6M2.9 47.7l-.5 .5M71.2 68.9l.7 .5M74.2 47.2l0 .01M93.7 6.5l-.3 .4" stroke="#9f7f76" stroke-width="2.50" stroke-linecap="round" stroke-opacity="0.55" fill="none"/><path d="M29.3 50.9l0 .1M77.9 71.5l.9 1.2M35.9 60.1l-.8 .1M95.1 51.1l1.3 .2M8.9 -.1l-.1 1.1M65.3 44l.2 .2M46.7 .8l.2 .8M22.6 4.3l-.8 .9M23.4 25.6l0 .1M5.2 6.3l.7 .1M68 63.5l-.7 .7M60.7 20.5l-.1 .01M93.9 -.6l.6 .5M5 17.2l.4 .8M89.1 -l-.6 .5M34.4 40l-.6 .8M41.5 31l.1 .9M83.8 60.4l-.7 .2M26.9 7l-1.2 .4M35.6 13.8l0 .01M79 56.3l.4 .01M85.8 41l.4 1M56.4 64.3l-.9 .2M13.5 55.5l-.8 1.1M40.1 39.9l.2 1.1M27.6 51.2l.1 1.1M62.6 72.9l-1.4 .3M92.9 46.5l-.1 .2M62.6 57l.1 1.1M28 25.2l.2 .1M55.6 9.8l0 .01" stroke="#9f7f76" stroke-width="3.70" stroke-linecap="round" stroke-opacity="0.55" fill="none"/><path d="M68.3 35l.2 .1M69.9 4.8l.3 1M56.8 10.3l-.2 .8M36.7 58.6l-1.3 .6M43.1 63.5l.1 .5M12.3 27l.1 1M78.7 18.8l.4 1.1M20 25.7l-.2 .1M30.6 29l1.3 .4M57.4 57.7l0 .1M38.7 40.9l-.4 1.2M5.8 26.3l.1 1.1M46.4 51.1l-.1 .01M3.8 34l-.1 .2M13.2 7.8l.6 1.2M.7 72.1l.5 .3M46.8 -.8l.5 .6M42.9 3.2l.4 1M100.1 61.4l-.1 1.3M66 57.4l-.5 .01M16.2 10.1l0 .1" stroke="#9c7574" stroke-width="3.70" stroke-linecap="round" stroke-opacity="0.55" fill="none"/><path d="M12.5 35.4l-.6 .1M98 9.3l.9 .2M73.3 51.8l-.1 .01M71.5 2.6l-.5 .01M71.7 51.2l-.3 .2M96.3 64.4l-.7 .5M36.2 l1 .1M60.3 30.7l-.9 .1M1.1 42.6l.5 .9M17.2 15.9l1 .5M86.9 66l.6 .7M65.8 46.6l.1 .01M77.4 64.1l-.6 .2M65.5 42.4l.1 .01M38.1 61.3l-.4 1M68.8 55.7l-.6 .7M93.8 57.1l-1.1 .4M72.8 40.2l1.1 .3M43.7 66.6l-.6 .6M27.8 16.6l-.6 .8M74.6 57.5l1 .4M32.1 13.8l.3 .9M6.5 7.4l-.6 .8M70.7 41l.1 .01M-.5 25.3l-.2 .3M63.8 11.6l-.4 .4M26.5 72.5l.1 .7M98.9 12.4l-.1 .1M97.3 57.4l.4 .8M83.2 42.3l-.1 .4M45.4 61.5l-.3 .8M7 29.3l.1 .6" stroke="#9d6f81" stroke-width="3.10" stroke-linecap="round" stroke-opacity="0.55" fill="none"/><path d="M55.9 39.3l.9 .4M88.3 6.3l-.2 1.1M82.6 53.3l.2 .5M.7 69.6l.4 .1M26.7 58.9l.3 .2M47.5 71.7l-.3 .9M76.8 10.1l.1 .01M96.5 14.4l0 .2M68.1 65.9l-.9 .3M87.2 28.9l-.7 .9M3.7 3.8l-1.1 .01M43.8 44.1l-.9 .01M11 9.5l-.9 .2M42.6 63l-.1 .2M60.1 .8l.4 .01M77.7 70.9l.4 1M75.4 72.1l-.3 .7M82.6 1.8l-.8 .9M20 62.3l.4 .8M96.3 19l.2 .1M73.9 13.7l-.7 .01M86.4 47.9l-.3 .2M69.1 5.5l.2 .6M18.3 43.8l0 .01M10 37.7l.2 .7M50 68.6l.2 .7M16.8 38.9l.4 .4M51.2 60.7l0 1M13.6 1.2l-.3 .2M86.7 17l0 .1M92 70.8l.2 .01M4.6 36.5l.3 .3M30.9 70.8l-1 .5M81.9 65.8l0 .01M75.2 3l.6 .4" stroke="#9c7574" stroke-width="3.10" stroke-linecap="round" stroke-opacity="0.55" fill="none"/><path d="M54 16.4l-.3 .5M43.9 2.7l-.6 .4M49.2 72.6l0 1M16.6 13.1l-.4 .4M21.1 67.3l-.8 .01M30.2 31.1l-.7 .3M38.8 44.4l.4 .7M25.9 3.1l.2 .2M75.9 56.1l.1 .3M39.1 55.4l.2 .3M66.1 48.3l0 .2M16 61l-.2 .4M80.7 -.7l-.1 .4M37.3 23l-.3 .1M13.4 7l-.3 .8M16.8 71.6l-.1 .4M38.8 32.5l-.6 .1M85 63.9l.2 .5M28.9 57.4l.2 .1M2.5 53.2l-.8 .1M12.7 58l-.1 .3M45.4 71l-.9 .3M7.1 58.7l-.5 .3M90.1 6.6l-.4 .8M54.3 23l-.1 .1M15.6 8l.8 .4M40.3 57.5l0 .1" stroke="#9c7574" stroke-width="2.50" stroke-linecap="round" stroke-opacity="0.55" fill="none"/><path d="M95.7 22.7l1.1 .01M52.5 33.5l-.1 .5M54.3 7.6l.4 .2M96.6 60l-.1 .3M49.5 23.6l-.5 .6M16 57.1l1.1 .5M69.7 16l-.9 .01M53 40l-.6 .4M52.1 60.5l-.3 .2M73.4 19.5l-.1 .5M20.5 64.8l-.8 .3M98.4 54.5l-.2 .9M-.8 17.1l1.1 .1M83.1 19.2l.7 .01M86.9 53.2l-.1 .1M93.5 9.4l0 .01M95.1 8.9l-.3 .3M57.6 23l.7 .1M38.1 48l1.1 .2M15.1 62.7l.6 .01M19.3 57.2l-.3 .8M68.1 17l0 .6M47.8 65.6l-.4 .2" stroke="#9f7f76" stroke-width="3.10" stroke-linecap="round" stroke-opacity="0.55" fill="none"/><path d="M73.3 70.6l-.7 .4M92 51.6l.3 .3M56.5 43.1l.9 .1M79.3 55.7l.2 .1M16.1 29.6l.4 .9M52.6 28.7l.5 .2M67.9 54l.2 .7M100.2 29.1l-.5 .1M33.4 50.7l.7 .2M8.1 20.8l-.1 .4M28.8 14.7l.2 .3M60.8 34.8l.2 .5M92.9 16.5l-.3 .4M10.9 5.9l.6 .3M45.3 5.2l.3 .01M54 56.5l-.4 .8M39.1 .9l-.1 .01M2.4 53.1l0 .7M25.6 45.6l0 .1M87.1 37.6l-.1 .3M34.5 56.6l.2 .7M-1.3 67.2l.6 .01M64.4 71.5l.3 .2M51.1 53.5l-.4 .2M66.7 3.8l-.7 .5M80.3 40l0 .3M85.5 15.3l.6 .3M77.8 35.6l0 .5" stroke="#9d6f81" stroke-width="2.50" stroke-linecap="round" stroke-opacity="0.55" fill="none"/><path d="M94.4 -.2l.2 1.1M43.9 31.1l-.6 .1M66.9 64.4l-.1 .1M28.3 9.9l-.8 .7M-.6 5.9l.9 .4M13.2 8.3l.1 .1M50 63.8l1.3 .6M74 32.1l.1 .1M20.2 7.3l-1.1 .8M89.8 53.4l.6 .8M45.2 69.3l.4 .1M6 43.2l-.4 .7M42.7 26.2l.5 .4M63.9 51l-.6 .1M17.2 61.3l1.5 .1M37.1 55.5l-.2 .3M37.6 30.8l-.2 .01M78 56.6l.2 .5M45.4 42.8l.1 .01M99.8 57.8l.1 .1M34.4 35.7l-.3 .2M1 15l.2 .01M75.9 30.5l.2 .5M18.9 43l-.2 .1M90.8 43.1l-.4 .8M93.4 31.6l-.4 .3" stroke="#9d6f81" stroke-width="3.70" stroke-linecap="round" stroke-opacity="0.55" fill="none"/>
<path d="M12.7 41.6l.1 .7M72.7 39l1 .01M37.4 4.3l-.1 .1M23.9 2l-.6 .7M100.4 2.5l-.7 .3M35 15.8l.1 .4M98.6 6.1l-.3 .6M50.1 22.3l1 .1M50.1 40.4l0 .01M55.5 22.4l.2 .6M78.7 16.7l-.4 .2M9.1 42.3l0 .1M45.8 49.4l-.1 1.1M13.3 45.6l-.5 .2M73.4 43.8l.3 .2M98.5 19.8l-.5 .7" stroke="#b07d6a" stroke-width="2.20" stroke-linecap="round" stroke-opacity="0.60" fill="none"/><path d="M99.5 7.9l-.3 .01M93.5 11.4l.3 .1M99.9 69.4l-.1 .01M1.1 65.2l-1 .2M46.6 23.2l-.7 .2M85.4 5.3l.1 .1M13.9 30.7l.1 .01M45.7 41.9l.6 .9M28.9 45.3l-.1 .01M43.7 19.4l.9 .1M42.9 3.8l-.3 1M92.9 61.3l0 .01M62.8 54l.3 .2M65.1 6l-1.1 .3M84.5 60l-.5 1M90.1 15.2l.7 .2M29.2 43.9l.2 .7M88.1 46l.3 .5M34.5 67.7l.7 .2M46.8 33l.7 .4" stroke="#b77964" stroke-width="2.20" stroke-linecap="round" stroke-opacity="0.60" fill="none"/><path d="M48.2 23.9l.8 .01M5 40.2l.1 .1M88 42.5l0 .01M40.5 62.7l-.6 .1M82.2 42.1l.6 .3M13.9 28.1l-.6 .2M3 43.5l.5 .4M70.7 20.2l.1 .1M79.1 20.5l-.1 .2M44.2 59.2l-.2 .3M29.6 64.8l.6 .5M6.5 28.2l-.1 .2M77.5 2.1l.1 .5" stroke="#b77d65" stroke-width="1.80" stroke-linecap="round" stroke-opacity="0.60" fill="none"/><path d="M16.1 22.7l-.5 .5M67.5 1.3l-.1 .01M58.6 37.1l.1 1.2M25.2 17.1l.3 .01M79 7.9l.2 .3M75.9 36.7l-1.1 .6M57 67l-.9 .2M74.9 26.2l.4 .2M75.3 8.9l-.8 .1M1.2 31.5l.4 .2M23.8 19.5l-.1 .4M.4 62.9l0 .2M.9 41.1l.2 .01M91.6 5.7l-.5 .3M76.3 72.1l0 .6M18.6 29.6l.4 .3M3.9 56l-.9 .4" stroke="#b77964" stroke-width="2.60" stroke-linecap="round" stroke-opacity="0.60" fill="none"/><path d="M36.2 33.4l-.9 .2M11.9 13.3l.2 .8M99.7 13l-.4 .7M69.3 5.7l.3 1M10.2 64.9l-.7 .3M27 18.8l.6 .5M28.9 8.1l0 .01M6.3 19.3l.6 .1M31.8 25.3l-.2 .5M80 50.9l.3 .2M64.6 19.8l.6 .9M22.5 31.5l.2 .01M80.1 62.8l0 .01M62.5 31.8l1 .5M88.6 57.3l.3 1M63.1 21.4l.5 1.1M82.1 71.5l.3 .01M92.4 38.9l1 .4M8.8 66.9l-.2 .9M75.6 14.8l.9 .01" stroke="#b07d6a" stroke-width="2.60" stroke-linecap="round" stroke-opacity="0.60" fill="none"/><path d="M78.7 43.7l.5 .3M75.3 32.5l.2 .3M60.9 73.1l0 .01M24.2 64.8l-.2 .4M1 54.4l-.1 .2M96.7 2.3l-.5 .4M85.5 54.6l.2 .9M26.5 65.1l.3 .1M4.5 -.8l.9 .4M11.1 44.3l-1.1 .01M64.7 46l-.3 .3M74.1 41.3l.5 .5M20.2 52.2l-.9 .2" stroke="#b77d65" stroke-width="2.20" stroke-linecap="round" stroke-opacity="0.60" fill="none"/><path d="M42.6 30.2l0 .2M29.4 49.6l.1 .5M22.5 52.4l.7 .4M90.9 11.2l.5 .1M58.1 46.6l.4 .7M22 21.2l-.1 .4M6.2 35.8l-.4 .1M85.2 70.8l-.3 .2M47.1 41.9l.1 .6M34.6 16.9l.2 .5M51.3 47.8l0 .7M70.1 64.4l-.7 .2M44.5 56l-.8 .2" stroke="#b07d6a" stroke-width="1.80" stroke-linecap="round" stroke-opacity="0.60" fill="none"/><path d="M.6 19.3l.1 .2M53 15.2l.5 .1M47 23.6l-.3 .6M99.7 22.9l0 .01M10.9 32l.1 .01M33.8 57.7l.7 .3M41.7 23.9l.7 .2M31.1 58.4l-1 .5M41.8 -1.1l.7 .6M85 71.6l.9 .2M64.7 19.4l-.2 .1" stroke="#b77d65" stroke-width="2.60" stroke-linecap="round" stroke-opacity="0.60" fill="none"/><path d="M85.2 63.9l-.1 .6M24.1 4l-.4 .5M21.7 58.1l.2 .9M37.3 15.1l-.7 .2M53.3 13.6l.2 .2M84.2 37.7l-.2 .2M80.7 6.8l.7 .4M16.3 66.6l0 .6M21.3 8.2l.6 .4M9.1 45.8l.6 .1M55.3 29.3l.3 .4M7.5 33.8l-.2 .6M57.3 15.6l.3 .2M20.8 57.3l-.4 .5M47.2 42.8l.7 .3M25 12.8l0 .01M32.8 48.8l-.4 .4" stroke="#b77964" stroke-width="1.80" stroke-linecap="round" stroke-opacity="0.60" fill="none"/>
<path d="M49.7 23l.8 1.2M35.5 61.2l.2 .5M3.1 68.7l-.2 1M80.9 47.8l-.1 .2" stroke="#704334" stroke-width="1.40" stroke-linecap="round" stroke-opacity="0.80" fill="none"/><path d="M69.5 45.8l-.5 1.5M2.3 33.2l-1 .1M8.5 58.1l-1.3 .3M62.1 63.9l-.1 .01M1.4 39.6l.2 .5" stroke="#73314c" stroke-width="1.40" stroke-linecap="round" stroke-opacity="0.80" fill="none"/><path d="M17.2 41.9l1.4 1.5M72.8 38.8l-1.2 1.7M84.8 60.6l-2.3 .9" stroke="#7b323e" stroke-width="1.67" stroke-linecap="round" stroke-opacity="0.80" fill="none"/><path d="M78.5 55.6l-.7 .6M3.5 64.6l-.4 .3M98 17.1l-.3 .2M40.8 72.5l1.3 .8" stroke="#73314c" stroke-width="1.67" stroke-linecap="round" stroke-opacity="0.80" fill="none"/><path d="M87.1 56.1l-1.4 .01M23.1 23.2l.9 1.2M69 3.6l0 .01M12.3 37.3l.1 .2M34.6 32.1l-.7 .5M24.9 33l.6 .8M32.2 52l.1 .9" stroke="#704334" stroke-width="1.13" stroke-linecap="round" stroke-opacity="0.80" fill="none"/><path d="M86.6 71l1.5 .1M47 48.7l-.1 .5" stroke="#73314c" stroke-width="1.13" stroke-linecap="round" stroke-opacity="0.80" fill="none"/><path d="M34.1 44.6l0 .1M13.4 33.2l0 .1" stroke="#7b323e" stroke-width="1.40" stroke-linecap="round" stroke-opacity="0.80" fill="none"/><path d="M10.2 44.9l-.4 .4M36.2 -.7l-.1 1.1M89.3 30.1l.8 .6" stroke="#704334" stroke-width="1.67" stroke-linecap="round" stroke-opacity="0.80" fill="none"/>
<path d="M84 69l.6 .2M61.9 28.5l0 .3M50.7 61.5l0 .8M69 27.2l-.2 .5M59.6 65.6l.4 .4M82.9 47.1l.5 .5M74.5 33.5l.2 .2M75.2 45.3l.4 .1" stroke="#8b73a5" stroke-width="1.33" stroke-linecap="round" stroke-opacity="0.60" fill="none"/><path d="M69.7 59.1l-.3 .1" stroke="#9388a9" stroke-width="1.60" stroke-linecap="round" stroke-opacity="0.60" fill="none"/><path d="M53.1 39.6l-.9 .9M47.7 50.5l-.1 .6" stroke="#8b73a5" stroke-width="1.87" stroke-linecap="round" stroke-opacity="0.60" fill="none"/><path d="M55.1 71.9l0 .01M83.7 54.2l-.2 .2M70.5 55.7l-.7 .2" stroke="#9573a1" stroke-width="1.60" stroke-linecap="round" stroke-opacity="0.60" fill="none"/><path d="M75.8 69.3l-1 1M70.4 25.5l.1 .5M48.7 26.2l-.6 .6" stroke="#9573a1" stroke-width="1.87" stroke-linecap="round" stroke-opacity="0.60" fill="none"/><path d="M67.1 33.7l.4 .9M72 47.3l-.2 .1M60.7 47.4l-.9 .2" stroke="#9388a9" stroke-width="1.33" stroke-linecap="round" stroke-opacity="0.60" fill="none"/><path d="M48.8 69.3l-.9 .3M62.6 39.3l-.1 .1" stroke="#9388a9" stroke-width="1.87" stroke-linecap="round" stroke-opacity="0.60" fill="none"/><path d="M64.2 60.5l-.2 1M49.6 63.3l.6 .3" stroke="#9573a1" stroke-width="1.33" stroke-linecap="round" stroke-opacity="0.60" fill="none"/><path d="M71.7 33.5l-.4 .2" stroke="#8b73a5" stroke-width="1.60" stroke-linecap="round" stroke-opacity="0.60" fill="none"/>
<path d="M41.9 61.8l.4 .01M31.4 13.3l.5 .1M90.2 66.5l.8 .4M73.1 18.7l-.9 .2M51.8 6.2l1.2 .5M3.7 7.2l-.2 .8M9.9 10.6l.3 1.2M72.8 55.5l.3 .01M94.5 32.5l-.2 .01M10.1 50.7l.1 .01" stroke="#f2e9e0" stroke-width="2.87" stroke-linecap="round" stroke-opacity="0.70" fill="none"/><path d="M7.8 17.6l-.7 1M33.6 62.9l-1.2 .3M71.7 37.3l-.2 .3M62.1 1.1l-.6 .1M85.3 63.9l0 .8M18.3 18.5l-.5 1.3M29.9 9.8l.8 .9M93.9 6.2l.4 .8" stroke="#f0ede3" stroke-width="2.87" stroke-linecap="round" stroke-opacity="0.70" fill="none"/><path d="M64.6 2.1l.1 .5M67.1 23.5l0 .01M57 34.2l-.2 .6M13.6 7.8l0 .1" stroke="#f3e9ea" stroke-width="1.53" stroke-linecap="round" stroke-opacity="0.70" fill="none"/><path d="M54.7 46.3l-1.1 .3M1.9 15.6l-.5 .8M59.4 72.3l-.7 .6" stroke="#f3e9ea" stroke-width="2.87" stroke-linecap="round" stroke-opacity="0.70" fill="none"/><path d="M11.5 34.8l-.7 .01M59 7.2l.3 .01M64.8 48.9l.2 .4M34.3 18.8l.8 .7" stroke="#f0ede3" stroke-width="2.20" stroke-linecap="round" stroke-opacity="0.70" fill="none"/><path d="M49.4 23.6l.6 .7M-.2 51.3l-.5 .5M8.1 20.5l.3 .2M94.9 46.2l.1 .4M32.8 -1l0 .01" stroke="#f2e9e0" stroke-width="2.20" stroke-linecap="round" stroke-opacity="0.70" fill="none"/><path d="M82.9 14.3l.1 .2M42.7 16.9l-.1 .4M56.9 1.9l-.1 .4M4.9 48.9l-.3 .2M60.3 61l0 .01M58.9 24.8l0 .01M14.5 40.9l.2 .1" stroke="#f2e9e0" stroke-width="1.53" stroke-linecap="round" stroke-opacity="0.70" fill="none"/><path d="M62.2 48.9l.4 .4M33.4 58.4l0 .01M100 59.1l-.1 .8" stroke="#f3e9ea" stroke-width="2.20" stroke-linecap="round" stroke-opacity="0.70" fill="none"/><path d="M57.6 65.9l.1 .1" stroke="#f0ede3" stroke-width="1.53" stroke-linecap="round" stroke-opacity="0.70" fill="none"/>
<circle cx="5" cy="14" r="2.4" fill="#eee8e6" fill-opacity="0.85"/>
<circle cx="86" cy="18" r="2.8" fill="#eee8e6" fill-opacity="0.85"/>
<circle cx="78" cy="30" r="2.0" fill="#eee8e6" fill-opacity="0.85"/>
<circle cx="8" cy="55" r="2.4" fill="#eee8e6" fill-opacity="0.85"/>
<circle cx="30" cy="58" r="1.8" fill="#eee8e6" fill-opacity="0.85"/>
<circle cx="14" cy="6" r="1.6" fill="#eee8e6" fill-opacity="0.85"/>
</g>
</svg>
<line x1="272.2" y1="451.4" x2="308.5" y2="451.4" stroke="#222" stroke-width="0.8"/>
<text x="290.3" y="458.6" font-size="5.2" font-weight="bold" text-anchor="middle" fill="#111" font-family="'Liberation Sans',sans-serif">100 µm</text>
<svg x="371.0" y="388.6" width="99.60" height="71.80" viewBox="0 0 99.60 71.80" overflow="hidden">
<rect width="99.60" height="71.80" fill="#e6d6ce"/>
<rect width="99.60" height="71.80" fill="#fff" filter="url(#g2a)"/>
<rect width="99.60" height="71.80" fill="#fff" filter="url(#g2b)"/>
<g filter="url(#texH)">
<path d="M86.1 43.9l1.5 .3M93.9 -l-.6 .3M21.9 39.5l.2 .4M21.2 29l.2 .2M45.4 10.1l-.9 .2M72.8 8.7l-.2 .5M36.7 6l-.5 .2M40.8 42.3l.2 1.5M76.8 31.8l.1 1.3M57.4 7.7l0 .01M54.9 31.5l1.3 .4M50.4 43.6l.2 .1M21.1 16.4l.1 .1M90.3 39.2l.3 1.5M30.9 31l-.4 .1M34.7 59.3l.5 .2M61.7 25.8l-.2 1M72 12.1l0 1" stroke="#c19174" stroke-width="2.60" stroke-linecap="round" stroke-opacity="0.60" fill="none"/><path d="M22.2 65.7l.2 .2M50.2 66.1l1 .1M73 35l0 .2M4 43l.1 .4M9.1 34.9l.3 .01M98.1 43l0 .01M36.2 71.4l1 .01M69.1 10l.6 .2M10.3 39.6l-.2 .1M3.3 58l-.6 .01M76.4 12.1l0 .2M53 12l-.4 .4M55.7 44.1l.2 .4M54.9 60.7l0 .01M75 14.6l-.8 .5M54.1 14.1l-.7 .4M13.7 64.3l-.5 .01M97.7 65.7l-.1 .8M74.8 34.1l-.4 .5M53.4 -.1l-.6 .6M40.9 70.8l.2 .2M87.1 61.4l.3 .01" stroke="#c19174" stroke-width="1.80" stroke-linecap="round" stroke-opacity="0.60" fill="none"/><path d="M26.6 12.2l-1.1 .3M33.1 64.4l0 .01M38.1 11.1l.7 .3M24.1 35.4l-.1 .2M71.7 27.2l-1.1 .8M3.2 26.2l.8 .1M73.4 18.7l.1 .8M55.4 25.7l-.6 1M83.1 .4l-.8 .2M26.7 44.2l0 .01M64.1 9.5l.5 .4M63.3 9l-1.1 .8M59.8 46.3l.2 .1M54.8 10.9l-.3 .6M27.9 2.6l.6 .5M84.2 32.6l-.1 1.2M.9 61.3l0 .7M51.1 36.7l1.3 .5M3.4 62.1l.4 1.4M19.2 65.8l.9 .8M85.4 25.4l.1 .01M46.6 52l-.1 .3M30.9 45.1l1.3 .1M20.5 9.5l-1 .2" stroke="#c79d87" stroke-width="2.60" stroke-linecap="round" stroke-opacity="0.60" fill="none"/><path d="M89.9 55l-.6 .3M99.5 40l-.5 .4M30.7 24.5l.1 .2M43.4 21.8l-.7 .9M81.9 42.4l0 1.1M67.6 61.7l.8 .8M-1 16l.5 .1M96.8 51.1l-.3 1.2M17.1 45.3l.4 .4M62.7 19.2l.8 .2M86.1 47.5l-.4 1M54.3 9.5l.9 1M18.3 28.6l.2 .4M-.1 7.9l-.1 .01M74.6 69.8l.5 .6M78.5 38.2l-.1 .6M7.2 18.4l.8 .2M41.3 53.7l-.1 .1M10.8 36.9l.1 .8M11.7 52.8l.5 .6M28.3 24.1l-.2 .4M41.4 25.8l-.3 1.1M83.9 18.7l.3 .7M71.2 29l-1.1 .3M97 29l0 .9M38.1 58.3l-1 .1M24.2 32.9l-.1 .01M37.4 48.4l-.4 .8M99.7 5.6l.5 .1" stroke="#cc9d81" stroke-width="2.20" stroke-linecap="round" stroke-opacity="0.60" fill="none"/><path d="M71.1 29.9l.2 .1M99.4 62.2l-.2 .3M67.2 53.4l-.3 .01M78.9 71.7l-.5 .2M55.3 39.3l.2 .5M41.9 56.1l-.6 .3M30.6 33.8l-.2 .2M55 43.2l-.4 .4M93.4 29.4l-.2 .4M8 14.7l0 .3M36.1 48.9l-.2 .3M7.3 31.9l-.1 .2M93.6 15.5l.6 .4M11.4 63.2l0 .1M6.7 38.1l0 .3M86.2 19.3l0 .7M56.4 16.3l-.2 .1M35.7 44.6l.6 .7" stroke="#c79d87" stroke-width="1.80" stroke-linecap="round" stroke-opacity="0.60" fill="none"/><path d="M71.6 17l-.3 .8M10.2 18.6l-.6 .5M94.3 70.9l1 .4M61.2 41.5l0 .1M55.4 61.1l-.2 .3M65.4 18.7l-1 .4M70.8 11.8l.6 .2M3.1 39.9l.4 .4M80.7 70.8l-.4 .3M21.7 69.9l.7 .5M99 14.6l-.4 .1M24.8 70.4l.5 .2M58.6 59.8l-.6 .5M96.1 35.6l.9 .5M73.2 64.9l-.4 1.1M39.9 8.2l-.1 .3M69.6 43.4l.4 .4M.9 29.4l-1.1 .4" stroke="#c19174" stroke-width="2.20" stroke-linecap="round" stroke-opacity="0.60" fill="none"/><path d="M48.1 42.6l1.3 .3M42.1 9.2l.3 .2M27.4 48.7l.1 1.1M-.7 6.9l.7 .1M48.3 31.4l-.2 .4M58.5 29.4l-.7 .7M5.8 15.3l-.8 .1M81.5 27.3l1.2 .5M18.1 50.7l-.9 .4M46.6 1.4l.3 .3M7 6.7l-.1 .6M21 56.5l-.1 .01M.8 43.5l.4 .01M72.3 57.6l-.4 .2M65.3 46.2l-.1 .01M89 7.6l.9 .2M45.4 52l0 .4M5.8 59.4l0 .5M71.1 44.4l1.1 1M56.5 22.3l0 .9M37.6 25.4l.8 .1M15.8 1.2l0 .2" stroke="#cc9d81" stroke-width="2.60" stroke-linecap="round" stroke-opacity="0.60" fill="none"/><path d="M45.7 62.7l.3 1M81.7 50.8l.6 .1M45.6 5l0 .01M45 47.8l.1 .4M7 22.7l1 .3M6.5 65.7l-.3 .6M3.8 57.9l0 .01M34 2.6l.1 .5M85.2 63l.1 .2M46.7 2.5l-.2 .7M72.4 22.4l0 .5M62.2 21.6l0 .2M89.7 9.6l.7 .2M49.9 37l-.1 .1M93.2 4.2l.6 .5M89.7 11.2l-.3 .01M73.6 6.6l.8 .2M70.8 47.5l.1 .1M73 32.3l-.3 1M15.8 14.4l0 .01M90.5 63.4l-.5 .8M89.1 18.5l0 .01M8.5 5.1l.4 .3M29.1 13.1l-.2 .6" stroke="#c79d87" stroke-width="2.20" stroke-linecap="round" stroke-opacity="0.60" fill="none"/><path d="M59.8 36.3l-.1 .6M3.4 36.5l.1 .2M69.3 67.3l.6 .1M86.2 20.7l-.5 .7M14 39.6l-.2 .3M2.3 .4l.2 .3M31.6 2.3l0 .01M63.3 15.6l-.2 .01M68.1 62.7l.3 .9M80.3 68.3l-.3 .8M82.5 31l.8 .3M47.8 45.1l-.2 .3M63.2 52.9l.5 .6M67 30.6l.2 .1M65.4 6.9l.4 .2M4.5 20.2l.2 .8M67.4 21.9l-.1 .01M41 32.7l.2 .2M90.5 3.1l-.6 .5M60.2 47.5l.3 .6M37 34.7l.1 .1M.5 57.8l.2 .1M87.3 34.4l.9 .6M89.2 50.9l1 .2M9.4 51.5l.3 .2" stroke="#cc9d81" stroke-width="1.80" stroke-linecap="round" stroke-opacity="0.60" fill="none"/>
<path d="M75.6 9.1l.4 .2M26.6 3.8l-1.5 .9M31.5 59.6l.6 2.1M64.1 30l-1.4 .7M44.7 23.8l.9 .8M-.4 13l-.2 .7M22.1 71.8l1.3 1.4M80.4 67.8l-.1 1M52.1 21.8l-.2 .01M13.2 67.9l0 .01M66.5 28.6l-.7 .7M23.2 22.2l1.4 1.2M18 -1.1l1.3 .2M45.8 46.3l-.3 2.4M35.6 43.6l.4 1.6M57.1 15.8l-.1 .9M71.9 65.3l.4 .7M66.3 30.1l.9 .1M42.2 25.1l0 .9M1.2 .3l.1 .01M11.6 21.6l-.7 2.3M83.9 66.6l-.6 .6M9.1 62l-.4 2.4M34 65l-.4 2.2M51.4 63.6l.8 2.2M49 30.8l-.4 .3M91.4 67.6l.3 .1M88.8 19l.2 .3M12.7 39.6l-.5 .5M84 14.3l-.4 1.4M41 52.2l.6 .1M98.4 5.6l2.1 .1M16.6 65.3l.3 1.3M81.6 28.3l-1 .1M26.1 27.9l-.1 .8M61.9 23.9l-2.1 .4M18.2 22.1l1.3 .6M78.5 28.2l.6 .5M86.6 2.1l-.2 2.1M76.5 46.7l-2 .4" stroke="#814338" stroke-width="1.93" stroke-linecap="round" stroke-opacity="0.73" fill="none"/><path d="M68.6 19.4l-.8 .8M71.8 28.4l.4 .8M54.8 11.5l-.6 .5M89.3 14.6l1.4 .01M20.5 43.9l.8 .3M72.7 -.5l1.5 .5M63.6 27.2l1.5 .2M6.3 27.3l1.2 .2M59.7 64.3l.1 1M42 25.7l-.2 1.3M34.1 33.8l.3 .2M8.4 61l-.5 .8M89.1 60.7l0 .01M52.7 30.1l-1.3 .3M47.8 7.2l.7 .2M44.2 55.7l1.1 .3M97.6 63.1l1.2 .3M40.3 48.9l0 .1M92.2 42.2l.2 .1M81.7 -.3l0 .2M96.1 23.4l-.4 .1M.8 71l-.8 1M64.1 6.3l.3 .8M67.6 33.5l.6 .4M62.9 20l-.1 .1M71.2 51l.9 .3M21.5 67.8l1.4 .3M2.7 28.2l0 .01M85.1 47.3l.3 .1M31.9 53.9l.3 1.3M39.5 6.5l-.2 .4M45.3 38.1l-.1 .3M16.2 32.1l-.7 1.2M40 21.8l.3 .6M72.5 26.4l0 .2M58.7 39.1l.8 .1M43 24.2l-1.1 .4M46.4 .8l-.3 1.3M3.4 63.6l.6 .2M38.6 60.8l.2 .5M39.8 4.5l-.6 .1M94 21.7l.9 .4M52.9 49.7l-1.1 .8M99.3 15.3l-.7 .5M42.9 31.1l-.7 .9M55.5 41.2l-.4 1.1M40.3 38.1l-1.2 .2M94.7 20.7l0 .6M51.8 65.1l0 .3M23.6 6.9l-.3 1.6" stroke="#913746" stroke-width="1.27" stroke-linecap="round" stroke-opacity="0.73" fill="none"/><path d="M66 4.5l1 .2M50.1 40.2l1.1 .8M10.2 4.2l-2.4 .1M64.1 7l-1.1 .3M26 14.7l1 .3M70.2 34.4l-.3 .2M80.8 13.4l-2.5 .2M51.4 -1.2l.9 1.1M36.3 34.2l-.9 .9M12.9 67.2l-1.2 .5M1.8 62.6l.2 .01M7.6 29.5l.4 .6M27.9 36.1l-.5 .5M32.8 36.3l0 .7M35.6 47.2l-1.5 .4M69.8 52.2l.4 2.3M41.6 33l1.1 .2M21.8 33.5l2 .5M88.9 9l-.7 .4M-.6 11.5l-.6 .5M69.7 51.3l1.2 1.2M30.3 13.6l.3 1.8M-.6 31.3l-.5 .01M51.2 26.2l-.9 1.4M84.3 26.9l.5 .8M36.6 6.9l-1.4 .8M71.1 32.3l-2.5 .3M17.6 71l-1 1.1M58.2 59.8l-2.3 .7M38 65.3l-1.6 .7M58.4 3.6l.7 2.3M74.5 66.4l-.2 .3M55.4 66.7l0 .01M63.3 61.2l-1.1 .8M62.4 63.3l.2 .6M11.3 48.5l.5 .1M48.5 61.2l.7 2.3M93 47.2l-.6 .1M22.2 54.4l-.2 1.5M83.1 69.1l.6 .5M82.5 52.7l.7 .2" stroke="#913746" stroke-width="1.93" stroke-linecap="round" stroke-opacity="0.73" fill="none"/><path d="M60.3 42.2l-.3 .4M35.1 61.4l0 .01M78.8 16.2l-.4 .7M-.5 33.3l-.6 .4M77.2 .6l-.2 1.4M74.5 48.2l-.7 .1M15.9 20.9l0 .2M54.6 58.2l-.4 .2M79.2 58.9l-.4 .8M13.5 3.1l-.4 1.5M70 24l-1 .5M50.6 32l-.9 .1M66.9 26l-.1 .2M10.7 49l-.3 1.2M18.9 52.9l.9 1.3M23.7 .9l-1 .9M94.9 17.7l0 .2M59.4 61.5l-1.4 .4M-.7 46.8l.4 .2M58.9 65.7l.4 .4M99.1 55.5l-.5 1.3M3.6 25.8l-1.4 .7M17 26.7l0 .2M36.8 22.6l0 .01M59.9 44.3l-1.3 .6M42.5 55.9l-.4 .8M52.7 12.2l-.1 1.4M62.3 49l-.4 .01M9.5 45.8l.3 .8M65.9 2.6l.9 .6M42.3 69.2l-.9 1.1M45.9 62.1l-.1 .2M61 33.7l.1 .1M26.9 30.8l-1.6 .3M100.4 44.5l-.2 .3M83.2 66.8l.7 .9M18.4 66.7l.6 .1M50 46.6l-.2 .1M35.2 67.9l-.5 1.1" stroke="#8c3748" stroke-width="1.27" stroke-linecap="round" stroke-opacity="0.73" fill="none"/><path d="M82.1 68.7l.2 .01M56.2 12.5l-.2 .1M55.4 38l-1 .1M15.4 35.5l1.1 1.1M93.8 64.1l-1.2 .2M3.9 8.6l-.1 .5M59.2 71.4l-.2 .7M.6 36.4l-.8 .2M46.5 39.7l.4 1.3M29.8 54.7l1.3 .4M44.5 39l-.1 1M64.2 18l1.4 .1M72.1 36.1l.6 .1M75 39.3l-.1 1.2M28.8 46l-.7 1.8M51.2 64l.2 .7M38.2 43.6l.1 1.1M100.7 59.1l-1.3 1.5M6.2 60l1.3 .5M36.3 8.7l.5 .5M12.2 25.1l-.6 .5M82 66.6l0 .5M73.7 44.5l-.6 .6M17.1 39.3l-1.3 .2M61.6 43.3l-.2 .01M32.8 68l-1 .1M87.3 19l-.7 .7M64.3 31.3l-.8 .5M10.2 2.7l-.2 .2M7.9 24.7l0 .1M33.4 69.2l.1 .01M15.4 36.6l-.1 .01M21.5 52.7l-.4 .4M18.7 41.5l.7 .4M52.5 32.7l1.3 .8M38 2.5l-1.1 .01M72.7 29.1l-.2 .5M16.4 60l-.9 1.8M69.2 7.2l-.3 .4M65.6 3.2l.7 1.9M13.3 60.6l-.6 1M6.5 67.6l.8 1.3M.8 14.7l.6 .01M98.5 65.2l-.4 .7" stroke="#913746" stroke-width="1.60" stroke-linecap="round" stroke-opacity="0.73" fill="none"/><path d="M65.6 29.9l.9 .3M64.5 52.6l1.7 .9M18 25.4l0 1.2M46.6 59.3l.2 .2M55.5 59.8l0 .4M21 22.2l.4 .4M87.9 52l0 1.7M37.9 60.9l.8 .9M88.4 39.4l-1.1 .01M44.5 28.8l-1.6 .3M40 16.1l.3 .7M98.6 12l.2 .01M98.9 67.8l.4 1.1M31.2 8.5l-.6 .7M18.7 38.2l.4 1M74.7 69.3l.8 .8M56.1 40.3l.4 .2M67.2 38.2l.2 1.8M93 21.7l.1 .3M8.9 43.7l-1 .4M42.5 42.6l0 1.4M57.6 43l-.7 .7M77.4 40.6l.1 .1M37.1 34.3l0 .01M75.1 46.9l1.1 .6M67.7 52.6l.9 1.6M82 69.1l-.1 .01M36.6 44.3l.3 .3M.4 30.6l-.9 .4M73.2 17.8l-.9 1.1M72.3 6.2l-.4 .01M81.3 71.8l-.7 .5M66.7 41.6l-.8 .01M61 6.5l-.4 .3M8.6 50l.8 .5M26.3 1.3l.1 .5M52.8 23.6l.5 1.8M40.9 44.8l-.3 .4M38.1 33.8l-1.5 1.1M90.8 51.8l1.4 .4M4.7 61l-.4 .2M92.7 31.8l.2 .1M79.3 5.5l0 .1" stroke="#8c3748" stroke-width="1.60" stroke-linecap="round" stroke-opacity="0.73" fill="none"/><path d="M90.7 43.1l-.4 .1M48.8 10l1.4 .3M39 15.4l-1.6 .01M-.2 35l0 .01M78 22.1l-1.1 .3M93.6 37.8l0 .2M38.3 70.3l.9 1.2M99 59.5l-.1 1.6M38.7 57.7l-.6 .2M98.6 6.7l.2 .5M12.6 72l-1.4 1.3M64.5 40.9l.5 1M92.4 42.4l-1 .3M65.8 36.3l.7 .9M50.4 31.1l-.9 1.2M-.3 34l-.6 .6M68.5 25.9l-.2 .1M19.2 19l.2 .5M38.8 58.8l1 1.1M88.2 45.5l1.5 .4M36.9 26.8l-.1 .2M80.7 40.5l-1.9 .2M1.4 63.5l.4 .3M10.3 20.3l-.6 .5M8.5 35.1l-.2 1M97.6 59.5l.2 .5M42.6 28.5l.7 .6M75.8 45.9l-.6 .2M20.9 49.2l-.1 .7M13.8 55.9l.2 .4M29.5 27.4l1.5 .9M33.2 20.5l.1 1.2M46.2 40.4l.1 .2M80.9 38.2l-.4 .1M23.6 55.5l-.6 .3M49.1 28.6l-1 1M.8 27.6l-.5 .3M65.2 37l1.2 .4M23.9 39.4l-1.5 .3M98.8 59.8l-1.9 .2M3.7 20l-.4 .8M92.9 3.9l-.1 .2M82.1 38.7l-.5 .2M54.5 62.8l-.7 1.9M93.4 17.5l.3 1.7" stroke="#814338" stroke-width="1.60" stroke-linecap="round" stroke-opacity="0.73" fill="none"/><path d="M10 56.8l-.8 .4M32.4 40.6l-1.1 .6M83.4 70.4l.5 .9M4.1 70.7l-.5 1.2M98.8 4.8l.5 .7M10.2 34.6l.3 .1M3.7 19.3l-.3 .3M64.6 36.3l0 .8M47.5 39.7l-.6 .2M64.7 23.9l1.2 .2M64.3 11.1l-1.2 .5M10.6 40.7l-.7 .8M32 27.6l-.1 .1M8.2 58.4l-.8 1.3M6.1 34.1l-.7 .3M28.3 23.1l.9 1.3M70.1 14.3l.2 .01M26.9 -.9l.5 .9M44 28l1.2 .8M93.1 49.8l1.3 .6M62.6 58.7l-1.4 .5M6.3 64.8l.4 .8M93.6 41.6l.3 .2M23.9 -1.3l-.3 .7M57.1 38.3l.1 .1M11.5 52.5l.7 1.1M22.9 39.1l-.5 .01M48.5 8l.1 .4M36.5 4l.6 .3M4.1 68.8l1.2 .7M44.2 31l-.2 .2M60 52.5l0 .5M17.6 16l-.5 .7M74.2 61.5l-.1 .1M58.6 35.9l-.6 1.3M20.8 60.8l.8 .1M72.3 27.1l0 .01M18.9 51.8l-.9 .8M48.3 43.3l-.6 .4M69.4 6.7l.6 .9M17.9 24.7l.7 .3M14.6 3.2l-.9 .8M-1.2 29.3l.5 .5" stroke="#814338" stroke-width="1.27" stroke-linecap="round" stroke-opacity="0.73" fill="none"/><path d="M35.2 31.7l1.8 .3M32 31.3l.3 1.8M92.3 63.1l1.1 .3M55.2 25.1l1 .5M50.5 33.6l-.2 .9M3.6 28l0 .2M21.7 44.2l.5 .1M63.6 53.7l-.8 .2M53.1 27.4l1.8 .3M51.3 35.3l.1 .1M28.7 55.4l.7 1.2M52.8 56.1l-1.1 1.4M1.6 51.1l.3 .4M12 9.2l2 1.3M80.5 33.9l-.1 .1M77.2 46.4l.3 .6M-.2 51.4l1.7 1.2M50.5 67.3l-.8 1.6M92.8 27.9l.2 .3M26.4 66l.5 1.9M49.9 58.3l-1.8 .8M67.8 54.2l-.5 .1M31.1 56.5l.7 1.4M45.3 13.9l-.4 1M66.5 32.9l.1 1.5M12.3 11.7l-.8 .4M21.1 41.2l.3 .1M95 24.2l1.6 .5M73.7 32.7l0 .3M45.9 68.2l-.3 .01M53.3 63l1.4 .6M68.6 37.7l.2 1.2M31.9 66.2l.8 .4M21.5 29.7l-.8 .3M86.8 65.3l-.5 2" stroke="#8c3748" stroke-width="1.93" stroke-linecap="round" stroke-opacity="0.73" fill="none"/>
<path d="M5.7 62.1l-.3 .2M78.9 65.1l.2 .01M50.3 10l0 .1M78.3 35.8l.7 .2M7 48.6l.2 1.3M68.4 -.3l-.7 .8M76.7 52.7l-.3 .01M11.5 63.6l-.4 .7M11.4 4.5l.3 .4M17.2 13.8l-.4 .01M58.5 35.9l-.1 .1" stroke="#a17cb3" stroke-width="1.85" stroke-linecap="round" stroke-opacity="0.65" fill="none"/><path d="M6.6 11.4l-.4 .01M44.5 8.8l-.1 1M56.7 26.9l-1.1 1M37.2 55.4l-.3 .4M52 19.6l.1 1.2M82.7 20.5l.6 .3M14.8 69.1l.1 .7M38.7 61l.3 .8M52.7 55.6l-.2 .6M98 29.8l0 .01M20 12.8l-.2 .01M44.2 33.8l-.7 .2M45.9 38.1l1.1 .2M41.5 63.2l1 .2M-.4 9.3l.1 .4" stroke="#9179b8" stroke-width="1.85" stroke-linecap="round" stroke-opacity="0.65" fill="none"/><path d="M43.2 54.2l0 .4M47.8 16.1l-.4 .3M53.2 69.4l-.6 .6M75.2 58.6l-.2 .1M67.8 58.6l-.1 .1M3.2 35.5l-.7 .5M62.1 8.1l0 .01M73.2 24.8l-.2 1.1M91.9 69.8l.7 .5M75.4 64.4l-.3 .5M74.3 54.5l1 .3M43.7 17.9l-.1 1M12.8 43.2l.2 .01M17.3 10.5l.6 .6M96.9 33.6l-.1 .3" stroke="#9179b8" stroke-width="1.55" stroke-linecap="round" stroke-opacity="0.65" fill="none"/><path d="M18.2 7.2l-.2 .2M9.4 54l-.3 .6M70.3 40.3l0 .5M58.4 64.2l-.6 .2M91.7 43.8l-.3 1M99.5 65.1l.3 .4M55.4 29.5l.8 .5M31.3 19.2l-.5 .7M88.3 40.4l.8 .6M34.8 33.4l.7 .9M19.7 35.3l-.4 .8M16.8 43.3l.5 .2" stroke="#987eb1" stroke-width="1.85" stroke-linecap="round" stroke-opacity="0.65" fill="none"/><path d="M43 62l0 .5M12.9 48.4l-.8 .4M80.3 37.8l-.4 .4M54.9 12l-.1 .1M43.4 69.7l-.4 .6M84.4 .3l.9 .1M50.3 30.4l-.9 .4M18 64.6l.1 .1M29.1 60.7l.5 .2M3.9 11.9l-.2 .1M58.2 51.6l-.9 .3M16.5 24.1l0 .01" stroke="#987eb1" stroke-width="1.25" stroke-linecap="round" stroke-opacity="0.65" fill="none"/><path d="M43.5 45.7l.1 .01M32.5 23.6l.2 .8M58.1 11.8l.2 .8M26.3 39.7l-.8 .2M65.5 33.7l0 .1M30 68.9l-.5 .7M53.3 50.9l-.6 .5M94.6 43.5l.7 .5M48.7 57.8l-.7 .7M33.1 57.9l0 .4M44.4 66.3l.1 .01M17.3 39.6l-.2 .4M46.5 69.3l0 .6M64 19.1l0 .5M74.9 54.8l-.9 .1M46.3 60.3l.1 .8" stroke="#a17cb3" stroke-width="1.25" stroke-linecap="round" stroke-opacity="0.65" fill="none"/><path d="M19.7 11.5l-1 .5M18.8 26.3l-.5 .9M15.3 42.2l-.1 .01M42.3 68.2l-1.1 .2M79.9 60.6l.1 .1M50.7 27l.4 .8M4.1 53.7l0 1.1M72.4 51.8l.1 .3M77 23.5l-.6 .9M30.9 25.3l-.4 .3M60.8 51.8l0 1.1M78.5 15.5l-1.1 .3M65.3 35.2l.8 .3M91 58.1l.1 .1M24.8 66.9l0 .01M13.2 35.3l1 .6M21.4 49.8l-.4 .9M12.8 7l-.7 .01M97.3 20.5l-.1 .4M51.3 63l.2 1.1" stroke="#987eb1" stroke-width="1.55" stroke-linecap="round" stroke-opacity="0.65" fill="none"/><path d="M52.9 71.1l-.3 .6M62.7 57.7l.4 .1M97.9 13.5l-.1 .3M41.4 30.2l.4 .3M88.8 54.8l0 .01M70.6 43.7l0 .01M77.8 27.6l-.5 .8M57.4 56.4l.1 .2M51.3 57.9l-.7 .6M6.3 66l-.4 .3M88.2 21.9l-.1 .1M69.6 32.7l-.2 .5M84.5 66.3l.3 .4M49.3 14.4l-.1 .1M30.6 56.3l1 .2" stroke="#9179b8" stroke-width="1.25" stroke-linecap="round" stroke-opacity="0.65" fill="none"/><path d="M74 64.2l0 .4M91.5 50.4l0 .4M39.2 51.7l.8 .2M56 39.9l-.2 .8M26.2 18.4l0 .1M74.1 8.8l0 .01M21 17.4l-.1 .8M53.5 66.5l-.1 .01M47.5 14.6l.7 .1M42.2 1.3l.2 .5M74.9 39.1l.4 .5M13.4 55.2l0 .01M58.8 17l-.3 .6M6.3 19.6l.5 .5" stroke="#a17cb3" stroke-width="1.55" stroke-linecap="round" stroke-opacity="0.65" fill="none"/>
<path d="M64.1 9.4l.6 .7M71.1 7.5l0 .1M52.8 69.3l0 .01M84.5 36.5l-.4 .01M77.6 36.5l-.1 .5M65.5 41.3l-.7 .7M94.6 11.8l.3 1" stroke="#fcf9f2" stroke-width="2.20" stroke-linecap="round" stroke-opacity="0.80" fill="none"/><path d="M53.9 51.2l.7 .9M8.1 49.1l.3 .9M19.7 59.1l1.6 1M87.3 37.7l1.8 1M67.5 63.6l.3 .1M75.9 2.1l.1 .2M14.3 59.2l.2 1.1M15.2 50l1.1 .01M59.5 9.8l-.9 1.3" stroke="#faf5f1" stroke-width="2.87" stroke-linecap="round" stroke-opacity="0.80" fill="none"/><path d="M61.9 24.1l.1 .01M3.2 35.7l-.4 .2M26.2 60.5l.7 .8M95.6 61.6l1.3 1.2M25.3 65.6l.6 .6M53.1 45.3l1 .4" stroke="#faf5f1" stroke-width="2.20" stroke-linecap="round" stroke-opacity="0.80" fill="none"/><path d="M92.8 32.1l-.2 .1M3 50.7l-.9 .7M57.9 4.9l-1.4 .7M44.8 43.6l0 .4M76.1 60.5l-.1 1.1M28.4 7.9l1.5 1" stroke="#fff8f0" stroke-width="2.87" stroke-linecap="round" stroke-opacity="0.80" fill="none"/><path d="M72.7 35.4l0 .9M4.2 3.3l-.6 .4M94.9 10.7l.2 .1M28.7 10.8l.1 .01M8.6 70.4l-.6 .3M98.1 17.8l.4 .2M86.1 19.1l-.9 .1" stroke="#fff8f0" stroke-width="2.20" stroke-linecap="round" stroke-opacity="0.80" fill="none"/><path d="M57.1 12.9l-.6 .8M99.4 38.7l0 .8M5.3 18.6l-.3 .2M21.8 17.9l-.1 .9M31.2 8.4l-.2 .1M81.1 35.7l.2 .6M47.4 24.7l.5 .01M7.5 17.6l-.8 .7" stroke="#fff8f0" stroke-width="1.53" stroke-linecap="round" stroke-opacity="0.80" fill="none"/><path d="M.2 40.7l-1.1 .3M4 26.8l.2 .1M61.1 42.2l.5 .3M25.8 5.8l-.3 .5M51.5 33.9l.3 .4M53.1 1.8l-.1 .6" stroke="#faf5f1" stroke-width="1.53" stroke-linecap="round" stroke-opacity="0.80" fill="none"/><path d="M49.7 10.3l-.2 1.1M76.3 42.6l.1 .4M92.6 56.1l1.7 .4M43.3 70.1l-.3 .4M14.8 36.1l-1.3 1.8M64.8 .4l-.3 1M79.5 28.8l-.8 .9M20.9 69.1l-.5 .1M62 60.3l.6 .5" stroke="#fcf9f2" stroke-width="2.87" stroke-linecap="round" stroke-opacity="0.80" fill="none"/><path d="M12.2 36.4l-.1 .9M91.5 53.7l-.1 .7" stroke="#fcf9f2" stroke-width="1.53" stroke-linecap="round" stroke-opacity="0.80" fill="none"/>
</g>
</svg>
<line x1="374.0" y1="451.4" x2="410.3" y2="451.4" stroke="#222" stroke-width="0.8"/>
<text x="392.1" y="458.6" font-size="5.2" font-weight="bold" text-anchor="middle" fill="#111" font-family="'Liberation Sans',sans-serif">100 µm</text>
<svg x="472.8" y="388.6" width="99.80" height="71.80" viewBox="0 0 99.80 71.80" overflow="hidden">
<rect width="99.80" height="71.80" fill="#c08472"/>
<rect width="99.80" height="71.80" fill="#fff" filter="url(#g3c)"/>
<rect width="99.80" height="71.80" fill="#fff" filter="url(#g3a)"/>
<rect width="99.80" height="71.80" fill="#fff" filter="url(#g3b)"/>
<g filter="url(#texH)">
<path d="M53.1 13.7l-.7 .4M28.8 53.4l-.9 .1M12.6 2.6l.1 .9M1.1 37.2l.2 .2M22.7 30.8l.6 .6M71.2 3.6l0 .01M73.2 8.8l0 .2M86.3 31.2l-.2 .3M35.4 .5l0 .2M74.7 2.4l.1 .7M53.6 44.6l.8 .1M96 47.8l.1 1.3M18.2 61.1l.8 .7M54.1 54.8l.9 .8M23.2 40.3l0 .2M88.5 13.7l-.3 .9M40.5 65.2l.6 .5M29.9 47.9l-.2 .1M99.8 11.8l-.3 .6M.6 33.3l-.6 .5M3.4 70.6l0 .01M88.8 59.7l0 .2M17.7 35l.8 .3M68.6 58.2l-.7 .5M40.6 54.5l.3 1M-.1 17.3l.5 .8M8.1 23.7l-.2 .1M10.6 32.3l.6 .01M86.5 8.5l-.9 .4M81.4 30.5l1.2 .3M16.6 49.7l1 .1M51.7 35.7l-.1 1.1M87.1 .7l-.5 .01M80.3 28.2l.9 .7M56.4 53l.2 .6" stroke="#8c6187" stroke-width="3.33" stroke-linecap="round" stroke-opacity="0.65" fill="none"/><path d="M52.2 63l0 .1M62.8 6.4l0 .01M87.8 40.5l.2 .2M75.9 13.7l.3 .3M70.5 50l-.2 .01M44.8 56.2l-.5 .1M81.2 50.2l.5 .3M89.8 41.1l.2 .9M.7 41.8l1 .3M2.1 16.1l0 .3M26.2 47.3l.5 .2M59.7 68.7l-.8 .5M56.5 19.3l1 .1M61.3 40.2l.2 .7M89.7 36.9l-.7 .5M55 59.9l0 .01M100 70.2l0 .01M42.1 59.9l-.7 .3M36.1 32l0 .01M6 18.7l-.2 .1M60.5 5.6l.8 .5M86.3 -.6l.3 .1M3 68.9l-.8 .3M-.5 14l-.2 .8M6 23.4l.1 .5M45.5 37.5l.5 .2M24.9 24.5l.2 .01M-.7 57.1l.8 .7M6.3 53.7l-.1 .01M73.5 24.8l.3 .5M89.7 19.3l.3 .6M67.5 6.4l.4 1.1M28.8 41.8l1 .2M40.6 14.1l-.6 .8M99.3 70.1l-.1 .2M13.5 39.2l.3 .1M40.8 59.2l1 .01M78.2 42.5l.2 .1M7.6 52.1l.5 .9M62.5 44.9l.4 .9M89.8 3.1l-.1 .3M23.7 41.2l.4 .7M6.5 25.2l-.5 .9M10.6 32l-.7 .2M-.6 45.3l.2 .3" stroke="#8c6187" stroke-width="2.80" stroke-linecap="round" stroke-opacity="0.65" fill="none"/><path d="M71.7 51.1l.2 .2M19.1 25.1l.9 .6M29.8 47.1l0 .2M55.8 17l-.6 1.1M72.2 69l-.6 .7M31.9 68.6l-1 .5M65.7 72.3l-.5 .1M45.7 24l-.7 .6M63.1 6.4l-.5 .4M4.2 49.4l-.1 .2M31.5 55.9l1 .7M13.4 20.8l-.2 .2M54.1 .5l-.1 .2M20.4 17.2l-.1 .9M91.6 24l.5 .5M88.2 71l0 .4M61.1 28.1l-.3 .01M84.7 49.8l-.4 .1M31.4 61.4l.4 .3M94.1 33.2l.7 .6M44.7 27.3l.4 .1M9.3 62.5l.5 .9M98 53.7l-.5 .2M79.4 67.7l.6 .2M1.7 40.9l-.2 .8M83.9 41.4l-.5 .8M27.4 37.2l.8 .6M-1.3 28.5l.9 .5M31.5 65.6l.7 .6M18.5 48l-.4 .3" stroke="#9b6077" stroke-width="3.33" stroke-linecap="round" stroke-opacity="0.65" fill="none"/><path d="M46.6 62.4l.7 .4M55.7 24.3l-.2 .8M79.4 13.9l.6 .6M13.3 72.8l0 .01M36.2 48.8l0 .01M88.5 54.9l.4 .4M66.7 69.5l0 .1M41.9 66.1l0 .3M75.2 54.4l-.2 .3M66.2 6.3l-.8 .3M18.3 13.6l.2 .8M36.1 55.9l-.1 .01M96.9 39.9l.3 .1M71.9 19.4l.6 .2M91.6 1.9l0 .4M92.1 9.8l-.5 .3M74 72.2l-.4 .5M93.3 24l0 .01M22.8 13.8l-.3 .3M45.7 43.8l-.4 .7M69.2 22.2l.5 .4M70.9 22.5l.1 .1M32.4 61.5l.1 .2M36.2 33.8l.7 .6M77.6 28.6l.2 .1M15 31.5l.5 .2M91.5 52.1l.2 .2M31.3 17l-.2 .3M55.7 39.1l-.3 .1M31 12.5l-.4 .2M17.6 33l.2 .5M59.9 70.5l.5 .8M88.5 .7l.3 .01M97.9 48.4l.1 .1M74.6 68.5l.3 .3M67.4 51.6l-.1 .01M27.7 4.2l0 .01M95.7 48.6l.2 .5" stroke="#8c6187" stroke-width="2.27" stroke-linecap="round" stroke-opacity="0.65" fill="none"/><path d="M99 21.7l.1 .2M79.5 27.8l.3 .2M.4 69.4l.3 .5M21.5 43.7l-.2 .01M96.6 71.7l.1 1.1M54.7 46.3l0 1M100.4 3.9l0 .01M62.9 17.1l1 .5M56.7 15.5l.1 .1M42.5 62.9l.4 .3M29.2 42.9l.5 .6M64.1 45.3l.5 .4M87.1 72.4l-.9 .3M3.6 26.6l.6 .3M86.9 69.2l.3 .8M31.7 3.2l.2 1M72 19.9l.9 .4M8.5 50.1l.4 .9M50.4 36.1l-.3 .6M89.5 67.3l-.2 .5M-.3 10.5l.1 .01M73.4 2.2l.3 .2M86.8 33.6l-.3 .5M24 29.9l-.3 .2M78.4 24.2l.1 .2M98.2 22.5l-.3 .2M44.2 29.5l.1 .2M89.7 70.7l.5 .3M81.3 54.3l-.2 .01" stroke="#92666d" stroke-width="2.80" stroke-linecap="round" stroke-opacity="0.65" fill="none"/><path d="M87.2 72.2l-.3 .8M96.8 35.5l-.1 .2M95 11.6l-.4 .3M6.9 14.2l1.1 .2M62.7 14.5l-.3 .7M77 28.9l0 .1M36.3 48.9l.1 .3M60.3 23.4l.6 .3M62.3 63.5l.8 .3M68.2 58.3l.3 .9M10.4 40.7l.5 .4M76.4 63.4l-.3 .5M78.1 15.8l-.8 .2M9.9 66.2l0 .4M44.5 64.6l-.1 .1M55.8 9.1l-.1 .01M85 21.2l-.1 .4M98.9 54.6l.2 .7M95.2 57l-.9 .6M8.4 24.8l.3 .3M16.6 46.1l.1 .3M31.7 36.1l-.7 .2M54.5 28.5l-.1 .3M38.7 49.9l-.4 .1M30.5 46.2l-.1 .1M71.1 57.6l.2 .4M77.1 45.9l0 .5M77 41.8l-.1 .4M47.3 51.8l-.8 .5M90.2 7.4l0 .7M22.1 54l0 .01M31.3 71.6l-.2 .1M86.9 65l-.1 .01M66.9 46.6l-.6 .7M17 59l.6 .9M14.3 26.7l-.3 .8M32 47.1l.4 .3M40.5 25.3l-.2 .3M66.6 4.9l-.5 .2M81.6 1.5l.5 .1M85.7 23.2l.9 .2" stroke="#9b6077" stroke-width="2.80" stroke-linecap="round" stroke-opacity="0.65" fill="none"/><path d="M60.3 .8l.5 .2M18.6 13.2l.1 .8M1.1 23.7l-.3 .4M59 38.6l.3 .6M23.8 67.8l-.4 .3M90.8 52l.1 .3M52.4 36.6l-.3 .1M46.3 36.2l-.1 .01M94.8 16.5l.6 .3M51.1 29.2l-.2 .2M95.5 59l.7 .3M75.9 66.4l.5 .5M27.4 29.5l.1 .3M77 43.2l.2 .01M14.6 51l-.7 .3M.2 38.9l.1 .8M93.3 -1.2l.4 .8M54.1 39.2l-.9 .1M97.5 44.2l.8 .1M74.2 70.6l0 .01M46.9 34.1l.6 .3M19.1 19l-.8 .3M77.8 16.3l.5 .3M42.9 28l.1 .1M11.2 15.1l0 .5M83 29.4l0 .9M15.1 30l.4 .1" stroke="#9b6077" stroke-width="2.27" stroke-linecap="round" stroke-opacity="0.65" fill="none"/><path d="M42.9 16.9l-.8 .1M4.9 61.5l.1 .3M29.9 36.1l-.1 .6M75.4 60l-.2 .6M74.1 21.8l-.1 .01M12.8 47.6l-.1 .1M100.3 41.1l-.4 .01M90.2 53.5l.1 .1M81 39.5l-.7 .4M81.6 66.5l-.6 .4M36.4 6.5l.3 .3M.8 45.3l.2 .4M34.9 35.5l0 .2M87.9 64.5l-.2 .5M35.7 7.4l-.1 .3M44.4 9.3l0 .01M86.3 56.6l.7 .1M32.8 38.4l.1 .1M67 .7l0 .01M62 62.9l.1 .1M47.8 71.5l.2 .4M84.5 54.3l0 .4M6.9 66.7l-.2 .6M22.8 23.3l-.1 .01M84 45.8l.3 .2M31.3 66.7l0 .8M80.7 24l0 .01M94.4 38.4l.2 .2M71 38.5l.6 .1" stroke="#92666d" stroke-width="2.27" stroke-linecap="round" stroke-opacity="0.65" fill="none"/><path d="M30.7 45l.3 .6M9.1 39.4l.2 .6M54.4 7.4l.8 1M16.7 12.7l-.1 .2M87.2 32.2l.3 .2M65.5 51.5l.5 .2M30.5 33.8l0 .2M41.5 .1l-.2 .2M76.6 52.3l0 .01M14.2 17.1l-.3 .2M32 12.1l.4 .2M34.1 23.3l-.2 .01M30.2 14.5l-.1 .7M99 31.5l-1.2 .2M31 41.7l0 .8M90.5 70.1l-.3 .1M84 29.1l-.1 .1M86.5 28.6l.1 .6M32.1 6.1l-1.1 .4M37.8 68l-1.2 .3M35.2 36l-.2 .9M69.1 22.9l-.2 .7M62.6 23.9l.3 .6M42.6 13l-.1 .1M43.4 70.5l.1 .1M28.3 54.5l0 .1" stroke="#92666d" stroke-width="3.33" stroke-linecap="round" stroke-opacity="0.65" fill="none"/>
<path d="M91.3 34.1l.6 .8M28.1 12.7l-.4 .1M49.1 30.1l-.2 .3M61 32.6l-.2 .2M 58.4l1 .5M28.7 72.1l.8 .8M41.6 31.5l-.7 .01M32.5 48.1l-.4 .6M78.4 8.4l-.2 .2M19.6 14.4l-.2 1" stroke="#9c6389" stroke-width="2.50" stroke-linecap="round" stroke-opacity="0.60" fill="none"/><path d="M87.5 58l-.7 .5M61.6 50l-1 .2M51.7 43.7l.4 .3M94.9 39.3l.7 .8M42.8 1.5l-.6 .4M84 47.4l.4 .8M7.5 49.3l-.8 .9M67.6 3.4l.1 .1M3.8 33.5l.5 .4M83 40.1l-.8 .3M52.4 22.7l.3 1M62.7 69.8l-.3 1.1M33.1 18.4l-.3 .5M57.9 56.8l-.5 .5" stroke="#9c6389" stroke-width="2.97" stroke-linecap="round" stroke-opacity="0.60" fill="none"/><path d="M1.1 25.2l0 .01M65.6 18l.8 .1M29.8 71.4l0 .9M93 58.8l0 .2M78.4 8.2l-1.1 .4M92.4 23.9l.7 .7M38.5 47.4l-.2 .7M60.8 53l-.8 .7M90.2 18.2l-.2 .2M61.6 60.2l-.5 .6M85.2 22.3l-.6 1M81.2 49.1l.8 .9M95.3 15.5l.7 .7M75.3 16l0 .01M54.6 32l-.2 .3M65.4 11.4l.9 .01M78 26.9l.3 .7M44.9 12l-1.1 .01" stroke="#876f9d" stroke-width="2.50" stroke-linecap="round" stroke-opacity="0.60" fill="none"/><path d="M79.7 29.3l-.4 .3M86.5 60l.2 .5M54.1 22l-.7 .7M100.8 39.4l0 .01M20.1 51.9l0 .7M85 7.6l-.5 .01M27.4 69.5l.1 .8M86.5 53.6l.1 .4M3.4 49.2l-.3 1.1M.8 31.1l-.4 1.1M26.6 14.8l.2 .4M54.3 38l.5 .7M25.2 59.1l-.8 .1M93.7 11.9l.8 .6M50 22.5l0 .01M32.1 60.2l-.1 .9M44.2 44.5l-.1 .2M9.3 63.1l-.6 .1" stroke="#8b6d98" stroke-width="2.50" stroke-linecap="round" stroke-opacity="0.60" fill="none"/><path d="M-.3 54l.2 .2M16.5 70.2l-.6 .4M24.8 49.6l.2 .7M52 39.9l-.4 .1M87.8 28.8l.3 .7M35.7 48.2l-.4 .6M55.6 69.2l-.2 .3M87.9 66.9l.8 .4M84.6 27l-.4 .8M49.1 4.7l.7 .2M8.5 69l-.1 .1M29.8 25.1l-.7 .01M61.2 66.4l0 .1M76.9 36.3l.9 .01" stroke="#9c6389" stroke-width="2.03" stroke-linecap="round" stroke-opacity="0.60" fill="none"/><path d="M76.9 17l-.4 .1M77.4 53l0 .01M12.4 57.6l-.6 .2M50.1 17.7l-.8 .01M7.2 37l-.7 .1M37.4 8.2l-.4 .01M24 34.8l-.3 .6M91.2 20.3l-.2 .3M18.5 9.4l0 .7M21.1 42.5l0 .3M56.6 26.6l-.3 .4" stroke="#8b6d98" stroke-width="2.03" stroke-linecap="round" stroke-opacity="0.60" fill="none"/><path d="M100.8 63.6l0 .2M36.7 63.4l-.2 .2M57.9 2.5l-.8 .5M29 44l0 .2M2 26.7l-.2 .9M19.1 46l.3 .2M68.3 22.4l.2 1M69.2 5.1l.3 .4M38.4 32.5l-.1 .1M21.3 70.1l-.2 .1" stroke="#876f9d" stroke-width="2.03" stroke-linecap="round" stroke-opacity="0.60" fill="none"/><path d="M72.7 18.5l.3 .4M56.7 60.2l-.3 1M77.4 18l.5 1.3M5.5 58.6l.6 .8M49.6 -.4l-.1 .2M2.4 48.7l1.1 1M4.3 38.3l.2 .1M47.2 62.1l-.1 .1M14.9 27l.4 1.2M88.2 15l-.5 .4M27.3 18.7l.1 1.1M91 2.9l-.5 .2" stroke="#8b6d98" stroke-width="2.97" stroke-linecap="round" stroke-opacity="0.60" fill="none"/><path d="M3.5 22.2l-.8 .3M31.7 70.9l.2 1M71.1 60.2l0 .1M29.2 25.4l1 .2M38.2 32.8l-.2 .5M6.4 18.2l-.5 1M45.1 -.2l-.4 .4M70.4 57.3l-.8 .1M92.4 10l.8 .1M30.9 6.6l-.1 .01M34.1 12.9l0 .01M16 20.9l-.9 .7M69.6 2.2l0 .01" stroke="#876f9d" stroke-width="2.97" stroke-linecap="round" stroke-opacity="0.60" fill="none"/>
<path d="M17.1 50.5l-.2 .2M76.1 10.9l-1.1 .1M54.3 61.1l.1 .9M17.1 42.8l.1 .9M8.7 29.5l-.1 .1M45.4 .4l.8 .8M82.2 57.2l-.6 .9M91.1 47.2l-.3 .3M5.3 37.8l-.5 .01M62.3 70.3l-.7 .8M89 31.5l.4 .01M43.4 41l.2 .2M94.9 3.8l.2 .01M12.6 61.4l.1 .1M43 5.4l0 .01M5 22.8l.2 .1" stroke="#bc7555" stroke-width="2.40" stroke-linecap="round" stroke-opacity="0.60" fill="none"/><path d="M58.6 62l-.4 .9M44.6 61.6l-.2 .3M80.8 32.3l.7 .2M99.1 46.7l0 .2M57.6 46.5l-.7 .7M4.3 25.7l-.2 .2M2.1 67.8l.9 .1M40.2 31.7l-.1 .2M97.5 61.2l.4 .3M52.5 60l.1 .01M49.2 53.5l.2 .3M26.2 13l-.3 .3M77.9 57.9l.1 .2" stroke="#c87256" stroke-width="2.00" stroke-linecap="round" stroke-opacity="0.60" fill="none"/><path d="M31.5 16.4l-.3 .7M28 58.9l.4 .6M95.8 53.5l-.3 .01M50.5 49.1l.5 .3M20.4 1.4l.8 .01M4.8 29.6l-.1 .2M18.3 41.3l.5 .5M1.1 25.4l0 .01M82.7 16.1l.5 .1M43.2 51.1l-.1 .7M85.5 32.1l.1 .3M16.5 14.2l-.3 .6M54.4 1.4l.2 .2M47.7 31l.6 .4M55.3 18.9l.1 .1M23.9 53.6l.3 .01M73.8 3.5l.1 .1M4 2.3l0 .2M65 44.1l0 .01" stroke="#b07853" stroke-width="1.60" stroke-linecap="round" stroke-opacity="0.60" fill="none"/><path d="M91.5 39.9l.2 .1M66 -.7l-.4 .6M56.3 29.4l.7 .4M28.9 43l-.8 .6M63 58.8l0 .1M59.6 57.4l.6 .8M48 57.8l.1 .01M49.1 61.8l-.7 .4M5.9 23.9l.1 .2M45.4 53.1l-.5 .5M57.5 34.7l0 .01M46.3 .6l.5 .4M69.6 72l-.1 .6M98.9 36.6l-.1 .3M98.7 49.3l.4 .7M62.2 62.1l-.6 .6M99.4 61l-.1 .01M38.7 60.2l-.3 .4M21.1 63l-.3 .3M50.6 31.2l0 .8" stroke="#b07853" stroke-width="2.00" stroke-linecap="round" stroke-opacity="0.60" fill="none"/><path d="M33.1 57.1l-.3 .5M7.4 34.4l0 .3M27.9 35.5l-.1 .5M100.1 17l-.8 .01M29.6 40.2l-.1 .1M46.3 58.9l.2 .6M82 32.3l-.5 .5M36.8 65.3l.2 .9M69.4 17.4l-.6 .2M72.4 59l.8 .5M98.8 19l-.8 .6M46.9 39.4l-.1 .2M58.9 60.2l.6 .5" stroke="#bc7555" stroke-width="2.00" stroke-linecap="round" stroke-opacity="0.60" fill="none"/><path d="M2.4 57l-.1 .1M14.2 35.9l.3 .1M40.8 48.3l.5 .4M32.7 59.3l-.4 .7M20.8 70.9l0 .01M48.5 35.4l.2 .7M51.3 35.8l.1 .7M97.8 39.7l0 .01M85.2 33.2l.6 .1M38.4 69.5l-.6 .5M94.9 6.3l.2 .5M59.8 26.1l-.4 .3M32.1 70.6l-.4 .1M80 61.5l.6 .2M83.1 59.7l.3 .3M50.5 34.4l0 .4M21.7 60l-.6 .2M8.7 63.7l.1 .2M25.3 8.7l.3 .3M65 7.9l0 .1M39.6 9.7l-.3 .1M83 56.5l.2 .4M7.5 63.4l.1 .1" stroke="#bc7555" stroke-width="1.60" stroke-linecap="round" stroke-opacity="0.60" fill="none"/><path d="M89.3 70.2l.4 .1M47.1 57l-.2 .2M57.2 65.5l-.3 .7M55.8 -1l-.2 .4M40.3 29.1l-.2 .01M36.1 35.1l.4 .3M12 9.7l.3 .5M10.3 50.8l-.3 .5M34.5 33.1l0 .01M49.6 62.5l-.1 .7M5.6 64.3l.1 .5M96.1 41l-.1 .2M100.7 9l-.2 .5M.8 61.3l.2 .1M100.5 24.2l-.3 .3" stroke="#c87256" stroke-width="1.60" stroke-linecap="round" stroke-opacity="0.60" fill="none"/><path d="M77.8 14.6l-.2 .1M-.9 60.2l.7 .1M53.5 9.6l.1 .01M97.5 63.3l-.4 .6M64.8 28.3l-.3 .3M76.2 7.2l-.1 .3M79.4 18.5l-.2 .3M91.3 62l.4 .4M41.2 -1.1l-.4 1M53.7 46.6l-.6 .3M66.8 20.3l-.1 .6M25.6 66.1l-.1 .01M54.5 59.5l.2 .01M35.7 15.7l-.2 .4M90.4 22l0 .01M74.4 69.7l.3 .4M13.7 -.4l.7 .8M78.7 27.6l.2 .5M92.2 17.4l-.5 .8" stroke="#c87256" stroke-width="2.40" stroke-linecap="round" stroke-opacity="0.60" fill="none"/><path d="M28.1 26.7l.1 .1M15.2 44.4l-.4 .4M42.6 58.5l-.6 .6M30.1 54.8l.5 .1M63.1 10.1l.5 .1M90.3 62.7l-.2 .8M22.3 60.5l-.3 1M2.9 -l.1 .4M100.4 68.5l.5 .9M89.8 28.4l0 .1M9.1 41.8l-.4 .9M18.8 56.7l0 .1M19.6 20.4l.3 .1M32.8 49l0 .4M96 16.7l.5 .1M56.5 52.9l.3 .2M81.5 .6l0 .01M65.7 72.1l.1 .5M25.4 55.6l0 .1M75.3 56.4l.1 .2M20 69.6l.5 .6M86.7 23.2l.2 .6" stroke="#b07853" stroke-width="2.40" stroke-linecap="round" stroke-opacity="0.60" fill="none"/>
<path d="M72.1 56.5l.1 .2M6 27l.2 .2M60.9 42.7l0 .01M100.7 12.3l.1 .2M35.3 18.3l0 .01M89.5 38.1l0 .01M82.7 12l-.3 .1" stroke="#f0ebda" stroke-width="1.30" stroke-linecap="round" stroke-opacity="0.72" fill="none"/><path d="M90.7 63.1l0 .4M66 22.6l0 .1M89.6 37l0 .2M37.9 30.7l-.2 .3M61.1 10.5l.2 .01M95.3 12.2l0 .01" stroke="#f0ebda" stroke-width="1.63" stroke-linecap="round" stroke-opacity="0.72" fill="none"/><path d="M69.1 20.6l.1 .2M44.4 22.9l.2 .1M68.2 -.3l-.2 .1M-.7 30.3l-.1 .01M47.4 19.1l-.1 .1M55.7 34.2l-.1 .1M54 46.9l0 .01M6.5 16.6l.1 .01M100.2 69.9l0 .2M31.4 5.5l.1 .1M97.4 24.2l0 .01M25.1 65.8l0 .01M37.9 60.2l0 .1M88.9 55.7l0 .1M36.3 18.5l-.1 .01" stroke="#f0ebda" stroke-width="0.97" stroke-linecap="round" stroke-opacity="0.72" fill="none"/><path d="M75.7 34.6l-.2 .2M24.1 26l-.2 .2M21.4 32.6l.2 .1M9.7 38.5l.2 .01M39.4 10.2l0 .2M70.5 65.4l0 .01M9.3 48l-.2 .01M95.6 30.1l0 .01" stroke="#f6dbe1" stroke-width="1.30" stroke-linecap="round" stroke-opacity="0.72" fill="none"/><path d="M30.8 65.6l-.1 .1M75.3 52.6l0 .2M39.8 43.8l0 .4M20.7 68.9l-.2 .2M64.5 53.7l.3 .4M.1 63.3l.4 .1" stroke="#f0e2db" stroke-width="1.63" stroke-linecap="round" stroke-opacity="0.72" fill="none"/><path d="M34.6 52.8l0 .01M69.7 13.4l.1 .3M13.4 70.2l-.1 .01M98.8 54.2l-.1 .1M73.7 61.7l-.1 .01M39.7 22.5l0 .01" stroke="#f0e2db" stroke-width="1.30" stroke-linecap="round" stroke-opacity="0.72" fill="none"/><path d="M54.6 18.1l0 .01M97 37.1l0 .3M84.8 10.2l0 .01M43.7 43.7l.1 .2M97.7 9.9l0 .01M91.6 7.3l-.1 .1M-1 54.8l0 .01M39.2 45.2l0 .1M20.7 33.7l.1 .01" stroke="#f0e2db" stroke-width="0.97" stroke-linecap="round" stroke-opacity="0.72" fill="none"/><path d="M13.7 35.4l0 .1M23.8 36.4l-.1 .2M70.3 57.5l.2 .1M3.2 15.4l0 .2" stroke="#f6dbe1" stroke-width="1.63" stroke-linecap="round" stroke-opacity="0.72" fill="none"/><path d="M79.5 6.7l0 .1M61.6 15.1l0 .01M25.9 54.1l0 .3M51.8 47.9l-.1 .1M29.4 27l-.1 .1M87.1 70.1l-.2 .1M84.7 61.6l0 .1M78.4 29.1l.1 .1M34.7 36.9l.1 .2" stroke="#f6dbe1" stroke-width="0.97" stroke-linecap="round" stroke-opacity="0.72" fill="none"/>
</g>
<g filter="url(#soft2)">
<path d="M0,0 L42,0 C36,5 30,9 24,11 C16,14 8,13 0,15 Z" fill="#ece4e2"/>
<path d="M72,0 L100,0 L100,14 C92,12 82,8 72,0 Z" fill="#e0d2de"/>
<path d="M27,30 C30,34 32,42 31,48 L28.5,48 C27.5,42 26.5,36 27,30 Z" fill="#ece4e2"/>
<circle cx="71" cy="34.5" r="13" fill="#d8bcb8" opacity="0.8"/>
<circle cx="71" cy="35" r="9.5" fill="#eadcd8"/>
<circle cx="76" cy="53" r="2.5" fill="#ece4e2"/>
<circle cx="84" cy="55" r="2.2" fill="#ece4e2"/>
<circle cx="92" cy="50" r="2.6" fill="#ece4e2"/>
<circle cx="60" cy="20" r="1.8" fill="#ece4e2"/>
<circle cx="20" cy="58" r="2" fill="#ece4e2"/>
<circle cx="44" cy="22" r="1.4" fill="#ece4e2"/>
<circle cx="88" cy="24" r="1.6" fill="#ece4e2"/>
<circle cx="70" cy="60" r="1.8" fill="#ece4e2"/>
<circle cx="96" cy="62" r="2.2" fill="#ece4e2"/>
<circle cx="64" cy="50" r="1.5" fill="#ece4e2"/>
<path d="M88,12 C92,20 93,32 90,48 L100,50 L100,12 Z" fill="#e2d0d8" opacity="0.75"/>
<path d="M0,56 C4,60 8,66 10,72 L0,72 Z" fill="#e0d0d6" opacity="0.7"/>
<path d="M42,0 L62,0 C58,3 50,4 42,0 Z" fill="#ece2e0" opacity="0.9"/>
</g>
<g filter="url(#texH)">
<path d="M92 26.6l0 .2M98 18.3l-.5 .3M89.1 37.6l.6 .3M96.5 15.8l.6 .3M97.8 26l.2 .3M96.6 39.4l-.2 .3M99.6 45.8l-.1 .1M96.9 29.9l.2 .01M94.6 43.7l0 .2M95.2 46.2l.3 .3M92.3 43.7l.4 .2" stroke="#8d7a9f" stroke-width="1.37" stroke-linecap="round" stroke-opacity="0.65" fill="none"/><path d="M89.4 26.3l0 .01M95.3 14.6l-.1 .5M90.2 21.8l0 .2M91.1 48.4l.2 .01M100.6 42.8l-.1 .6M88.5 15.8l-.4 .7" stroke="#a17a91" stroke-width="1.37" stroke-linecap="round" stroke-opacity="0.65" fill="none"/><path d="M89.4 44l.2 .8M96.6 22.2l.7 .1M99.9 30.7l.4 1.1M92.4 30.2l0 .3M89.6 49.5l0 .1" stroke="#8d7a9f" stroke-width="2.03" stroke-linecap="round" stroke-opacity="0.65" fill="none"/><path d="M98 15.6l.1 .01M99.8 13.1l-.1 .01M96.6 17.9l1.1 .3M6.6 63.2l.4 .4M100 32.3l-.1 .9M97.7 47.3l-.1 .1M92.3 47.2l.1 .1M91 44.3l.8 .1" stroke="#91668e" stroke-width="2.03" stroke-linecap="round" stroke-opacity="0.65" fill="none"/><path d="M89 16.1l.2 .9M95.9 38.2l.7 .1M93.9 22.6l.9 .1M5.7 65.4l-.8 .3M93.9 38.3l-.1 .5M89.4 23.8l.4 .2M3 62.8l-.1 .01" stroke="#91668e" stroke-width="1.70" stroke-linecap="round" stroke-opacity="0.65" fill="none"/><path d="M90.3 12.8l0 .1M5.9 67.3l.3 .8M94.9 28.5l-.9 .2M94.1 36.1l.7 .3M8.7 60l-.2 .8" stroke="#a17a91" stroke-width="1.70" stroke-linecap="round" stroke-opacity="0.65" fill="none"/><path d="M6.1 56.3l1 .1M4.9 68l0 .01M96.6 49.8l-.6 .3M91.8 44.8l-.5 .1M97 24.2l-.3 .4M5.7 60.3l-.2 .5M100.3 17l0 .3" stroke="#8d7a9f" stroke-width="1.70" stroke-linecap="round" stroke-opacity="0.65" fill="none"/><path d="M95.2 30.6l.2 .2M98.3 38.1l.3 .2M91.7 22.5l-.2 .01M98.6 34.2l0 .4M91.7 48.4l-.3 .4" stroke="#91668e" stroke-width="1.37" stroke-linecap="round" stroke-opacity="0.65" fill="none"/><path d="M98.8 27.1l1.1 .01M98 43.7l.5 .01M95 20.5l0 .01M98.3 16.4l.3 .2M99 38.8l-.9 .6M93.3 27l0 .7" stroke="#a17a91" stroke-width="2.03" stroke-linecap="round" stroke-opacity="0.65" fill="none"/>
</g>
<g filter="url(#texH)">
<path d="M7.5 7l1.3 .3M7 10l.8 .9M21.8 3.3l.1 .01" stroke="#9e6080" stroke-width="2.03" stroke-linecap="round" stroke-opacity="0.60" fill="none"/><path d="M7 6.3l.4 .9M5.8 5.8l0 .1M21.5 2.2l.4 .01M75.3 31.5l-.6 .7M76.8 35l-.1 .1" stroke="#a2617c" stroke-width="1.37" stroke-linecap="round" stroke-opacity="0.60" fill="none"/><path d="M70.6 26.3l.5 .4M1.4 1.8l-.6 1M76 28.8l-.1 .01M11 4.1l-1.2 .1M76.2 36.1l.1 .01" stroke="#9e6080" stroke-width="1.70" stroke-linecap="round" stroke-opacity="0.60" fill="none"/><path d="M4 6.7l1.2 .3" stroke="#9c5f82" stroke-width="1.70" stroke-linecap="round" stroke-opacity="0.60" fill="none"/><path d="M9.9 8.7l-.4 .1M29.3 5.3l-1 .4M23.4 2.6l0 .01M31.2 .1l-.3 .5M69.5 35.4l1 .3M11.9 8.9l0 .01" stroke="#a2617c" stroke-width="1.70" stroke-linecap="round" stroke-opacity="0.60" fill="none"/><path d="M23.1 1.6l1 .4M27.4 -.4l.1 1.1M18.3 5l.1 .2M22.4 .8l-.4 .1M70.9 28.2l1.6 .4M73.4 30.9l.9 .7M76.8 37.2l0 .1" stroke="#9c5f82" stroke-width="2.03" stroke-linecap="round" stroke-opacity="0.60" fill="none"/><path d="M70.7 26.7l-.7 .2M26 3.4l-.3 .2M.5 3.5l-1.1 .2M16.8 .5l-.9 .4M38.2 3.4l0 .01" stroke="#9c5f82" stroke-width="1.37" stroke-linecap="round" stroke-opacity="0.60" fill="none"/><path d="M2.7 3.5l-.4 .1M74.2 27.5l0 .1M19.3 3.5l-.3 .3" stroke="#9e6080" stroke-width="1.37" stroke-linecap="round" stroke-opacity="0.60" fill="none"/><path d="M2 8.8l.6 .6M66.9 34.6l-.7 1.1M63.6 32.6l-.6 1.2M15.3 6l-.8 .9M6.8 -l.7 .7" stroke="#a2617c" stroke-width="2.03" stroke-linecap="round" stroke-opacity="0.60" fill="none"/>
<path d="M76 5.9l.5 1.3M99.4 5.9l-1.3 .2M73.3 5.2l.7 .6M99.3 -1.4l.1 1M91 2.5l1.1 .2" stroke="#9d82b6" stroke-width="1.87" stroke-linecap="round" stroke-opacity="0.60" fill="none"/><path d="M92.1 6.4l-.1 .2M96.2 1.1l.7 .4M83.7 1.1l.8 .1" stroke="#9d82b6" stroke-width="1.33" stroke-linecap="round" stroke-opacity="0.60" fill="none"/><path d="M80.6 6.6l-.5 .5" stroke="#9981a7" stroke-width="1.60" stroke-linecap="round" stroke-opacity="0.60" fill="none"/><path d="M75.3 7l.1 .2M82.4 7.1l.2 .01M86.4 5.7l-.3 .6M98.3 3.9l.7 .4M85.5 -.2l0 .01M95.4 1.3l-.3 .5M90.1 8.8l.1 .2M100.5 2.6l.5 .4" stroke="#9277be" stroke-width="1.33" stroke-linecap="round" stroke-opacity="0.60" fill="none"/><path d="M80.4 8.1l.6 .1M99.7 7.5l.2 .7M88.2 7.8l.1 .4" stroke="#9981a7" stroke-width="1.33" stroke-linecap="round" stroke-opacity="0.60" fill="none"/><path d="M98.3 5.3l0 .01M93.1 -.3l-.9 .5M91.4 -.2l.1 .8M84 5.6l-.6 .1M88.4 8.5l.9 .3" stroke="#9d82b6" stroke-width="1.60" stroke-linecap="round" stroke-opacity="0.60" fill="none"/><path d="M86.8 6l-.7 .2M72.3 .4l1 .3M78.7 6.3l.8 .4M92.3 .5l1.2 .4M88.3 4.5l.2 .01M73.6 4.1l-.5 1.2" stroke="#9277be" stroke-width="1.60" stroke-linecap="round" stroke-opacity="0.60" fill="none"/><path d="M87 8.9l-.4 1.2" stroke="#9277be" stroke-width="1.87" stroke-linecap="round" stroke-opacity="0.60" fill="none"/><path d="M72.3 3.6l-.4 .1M91.2 3.2l-.7 .8M85.8 -.3l1.4 .3M73.9 7.7l-.6 .6" stroke="#9981a7" stroke-width="1.87" stroke-linecap="round" stroke-opacity="0.60" fill="none"/>
</g>
</svg>
<line x1="475.8" y1="451.4" x2="512.1" y2="451.4" stroke="#222" stroke-width="0.8"/>
<text x="493.9" y="458.6" font-size="5.2" font-weight="bold" text-anchor="middle" fill="#111" font-family="'Liberation Sans',sans-serif">100 µm</text>
<svg x="575.2" y="388.8" width="100.60" height="71.60" viewBox="0 0 100.60 71.60" overflow="hidden">
<rect width="100.60" height="71.60" fill="#c4866c"/>
<rect width="100.60" height="71.60" fill="#fff" filter="url(#g4c)"/>
<rect width="100.60" height="71.60" fill="#fff" filter="url(#g4a)"/>
<rect width="100.60" height="71.60" fill="#fff" filter="url(#g4b)"/>
<g filter="url(#texH)">
<path d="M78 24.1l1.1 .4M45.7 40.8l-.6 .1M21.7 2.7l.1 .1M12.8 60.4l-.2 .9M55.8 42.9l-.2 1.2M70.9 53l-.1 .2M28.8 4.4l-.5 .1M93.4 33.8l-.6 .3M11.3 13.6l-.8 .1M61 53.5l-.2 .7M68.2 17.8l-.6 .7M51.9 .8l-.9 .9M36.7 17.6l1.1 .3M45.4 32.1l-.3 .3M70.9 48.7l-.6 .4M39.6 20l-.1 .1M5.7 40.7l-1 .01M36.4 31.7l-1.2 .5M60.4 51.3l1 .2M47 53.9l.3 1.3M10.7 69.8l.4 .7M4.1 1.6l-.3 .6M34.2 27.1l.3 .6M30 35.2l-.8 .2M97.2 31.8l-1.2 .3M22.3 55.9l-.2 .6M27 8.7l-.1 1.1M9.7 63.5l-.2 .4" stroke="#987278" stroke-width="3.33" stroke-linecap="round" stroke-opacity="0.60" fill="none"/><path d="M25.6 26.8l.5 .7M2.9 36.8l-1.1 .3M23.7 9.4l-.1 1.1M40.7 1.7l-.5 .1M56.2 16.9l-.8 .1M32.9 65.5l.6 .6M4.5 21.4l.2 .4M52 19.6l.6 .2M25.6 24.3l.6 .2M99.3 58.7l0 .01M83.2 20.3l.2 .1M92.2 26.2l.4 .9M44.3 8.2l-.3 .5M37.1 53l-.5 .5M15.8 51.6l.2 .01M33.6 56l-.7 .5M48.1 42.3l-.2 .4M60.3 39.9l0 .9M13.2 6.5l0 .01M67.1 46.8l0 .01M36.1 70.9l.2 .1M92.9 38.8l0 .2M41.5 7.4l0 .01M26 16.8l.5 .7M32.4 64.5l.1 .01M.1 14.5l.1 .01M33 34.7l0 .01M1.4 22.7l0 .01M99.9 27.8l-.4 .6M49.1 25l-.3 .4M45.3 40.1l.5 .3M68 2.3l.3 .9M49 38.2l.2 .2M29.8 45.2l-.4 .1M44.9 54.5l.2 .8M14.3 43.4l1 .4M76.9 24.1l.9 .6M81.1 23.5l-.7 .2M7.7 70.1l-.3 .2M68.3 27l-.1 .01M11.1 67.5l0 .1M37 34.7l-.6 .2M17.9 2.7l-.2 .6M9 48.2l-.2 .4" stroke="#987278" stroke-width="2.80" stroke-linecap="round" stroke-opacity="0.60" fill="none"/><path d="M6.4 42.8l.2 .01M1.3 61.4l0 .01M51.2 47.3l.6 .2M8.6 19l1.1 .2M22.3 56.1l.4 .2M69.6 45.2l1 .5M42.5 16.7l0 .01M49.3 55l-.3 .8M22.3 47.1l0 .1M83.3 40.7l-.6 .5M1.3 3.8l.9 .4M15.1 40.5l-.3 .3M87.5 -.2l.3 .1M94.6 17.7l.3 .8M33.3 5.5l0 .7M91.8 12.3l-.2 .3M23.7 70.8l-.6 .6M-.6 23l.1 .6M56.2 45.4l.3 1.2M41.5 18.1l1.2 .5M22.3 10.9l-1.1 .5M65.8 25.3l.3 .5M2.3 39.4l-.3 .2M52.5 51.9l.2 .2M61.1 63l.2 .01M 43.6l.3 .6M60.4 3.1l-.6 .1M53.5 49.8l1 .2M9.2 22.3l-.1 1.3M6.8 67.7l.9 .9M42.5 10.1l-.7 1.1M88.7 13.1l.4 1M26.1 30.1l-.3 .3M59.3 54l1.2 .3M24.4 29.1l-.2 .5" stroke="#9b7178" stroke-width="3.33" stroke-linecap="round" stroke-opacity="0.60" fill="none"/><path d="M85.3 26.7l-.4 .2M16.3 14.7l-.1 .6M7.2 14.9l-.5 .6M65.2 17l-.3 .6M74.6 33.6l-.6 .01M7.9 29l-.5 .2M39 3.1l.3 .2M49.2 52.7l-.6 .01M87.7 43.7l-.5 .3M.5 63.4l0 .01M1.1 26.8l.1 .6M5 31.2l-.3 .5M90.2 36.9l0 .01M63.1 53.8l-.4 .6M65 25.7l-.2 .3M12.9 20.2l-.1 .4M82.8 48.4l-.7 .5M16.2 24.3l-.5 .2M9.2 60.7l0 .3M27.1 37.1l.2 .5M29.5 19.9l.5 .3M10.2 40.2l-.6 .3M35.2 19.2l-.1 .3M6.1 7.7l-.4 .1M.7 39.5l.2 .01M24.7 4.1l.3 .2M12.4 36.2l-.3 .4M92.1 13.3l-.1 .5M43.1 38.7l.1 .1M52.1 62.8l.3 .1M46.4 60.1l-.3 .5M64.6 .7l-.6 .2M100.1 54.1l.7 .4" stroke="#aa6d7b" stroke-width="2.27" stroke-linecap="round" stroke-opacity="0.60" fill="none"/><path d="M6.2 45.4l-.6 .5M58.8 27.3l.2 1M9.1 69.2l-.2 .01M34.6 66l-.5 .2M39 53l0 .01M59 42.5l-.4 1M74 12.5l.3 .4M34.3 23.9l0 .4M93.2 5.1l0 .5M76 42.6l.2 .1M.2 22.7l-1 .2M70.3 15.2l.1 .1M5.6 13.3l-.4 .5M96.2 48l0 .01M73.4 17.1l.4 .4M56.3 20.6l.1 .2M90 36.6l-.9 .3M28.4 17l-.5 .3M53 62.3l.1 .1M98.4 72.1l-.2 .1M23.9 37.3l-.1 .8M14 32.7l-.1 .2M52.7 50.7l-.5 .01M44.4 2l-.2 .4M23.1 26.5l-.1 .6M52.9 20.2l-.2 .6M19.5 16.2l0 .1M1.4 60.3l-.3 1M4.7 30.3l0 .01M16.2 17.5l0 .7M101.2 33.7l-.2 .7M67.2 48.4l-.8 .4M101.2 15.5l.2 .2M15.8 33.1l-.5 .2M38.8 51.7l.1 .4M81.5 39.8l-.6 .6M26.4 14.2l.1 .2M33.6 51.8l.1 .3M6.8 30.2l0 .01M89.5 31.3l.1 .4M29.8 .6l-1.1 .2M1.4 29.1l-.4 .01" stroke="#9b7178" stroke-width="2.80" stroke-linecap="round" stroke-opacity="0.60" fill="none"/><path d="M63.5 2.8l.7 .1M79.1 4.8l.3 .3M41.2 38.5l-.4 .5M90.6 8.9l-.4 .01M49.8 11.8l0 .01M47.9 45.2l.7 .5M92.5 65l-.8 .1M49.7 70l.1 .01M42.7 4.1l.8 .4M10.4 48.6l-.3 .6M4.2 7.7l.5 .2M49 37.1l-.2 .01M47.9 47.3l0 .01M1.3 66.2l-.2 .1M64.7 23l-.2 .1M39.9 43.7l-.2 .2M39.3 15.1l.3 .1M45.6 14.1l.2 .1M60.5 54.6l.1 .01M37.4 55.8l.2 .1M36.8 39.7l-.7 .2M73.1 21.7l0 .3M26.6 41.7l.6 .4M23.3 35.2l0 .1M28.5 39.3l.3 .8M22.7 32.6l-.6 .4M50.9 66.5l.4 .1M91.5 1.1l.3 .5M55.9 31.5l-.8 .1M21 62.6l-.1 .1M63.7 18.2l-.2 .4M53.9 55.9l.5 .01M8 55.3l-.3 .4M60.2 58.4l.4 .7M67 45.3l-.1 .7M67.4 38.1l-.7 .5M62.8 38.7l-.2 .1M86.4 65.5l-.4 .2M29 26.2l.2 .6M1.6 28.2l.5 .7M21.6 62.2l-.8 .5" stroke="#987278" stroke-width="2.27" stroke-linecap="round" stroke-opacity="0.60" fill="none"/><path d="M79.7 35l-.1 .01M30.4 4.9l-.5 1.1M4.8 35.7l-.1 .01M6.9 5.9l.2 .1M11.6 56.2l-.6 .7M37 25.1l-.6 .7M-1 71.4l.1 1.3M2.9 l-.2 .1M76.4 14.9l-.4 .01M24 59.3l.7 .4M56.8 19.4l-.1 .3M79.5 7.1l.7 .3M100.7 3.8l-.1 .1M32 12.9l-.2 .4M22.5 39.5l0 .5M49.6 11.1l-1 .2M90.9 1.8l0 .01M61.9 .9l-.5 .1M36.4 70.2l-.1 .2M23.3 16.3l.7 .6M40.5 63.5l-.4 .4M55.7 51.9l-.4 1.1M34.5 53.9l-.4 .7M44.5 16.3l.9 .01M94.3 17l.1 .01M95.9 25.8l.6 .4M59 25.2l0 .01M81.8 42.4l.8 .8M27.8 53.9l.7 1M60.3 42.6l.1 .8M34 24.2l-.8 .8M8 23.8l-.7 .01M5.8 14.4l1 .8M57.7 9.7l1.2 .01M84.1 9.8l0 .1M54 18.3l.5 1.1M46.2 29.7l-.4 .9M16.2 13.3l0 .4M36.7 30.2l.3 .5" stroke="#aa6d7b" stroke-width="3.33" stroke-linecap="round" stroke-opacity="0.60" fill="none"/><path d="M10.3 66.3l-.4 .3M42.4 45.7l-.1 .2M9.1 22.6l-.2 .1M59.3 49.9l0 .2M74 50.8l.3 .6M54.2 20.1l0 .1M101.1 22.9l.2 .9M5.2 48.7l.1 .1M51.9 .1l1.1 .1M62.8 18.5l1.1 .01M8.4 42.3l.4 .5M93 33l-.1 .1M69.9 15.5l0 .01M90.6 34.8l-.5 .8M49.4 67.1l.6 .3M51 18.2l-.7 .7M44.4 59.9l-.4 .8M101.7 4.7l-.6 .9M83 44.4l.2 .5M29.4 48.9l-.6 .8M32.9 11.1l-.3 .2M32.9 4.8l-.3 .9M54 48.7l.9 .4M26.8 40.9l.1 .2M64.9 32.7l0 .01M76.6 6l.8 .1M57 21.4l.2 .01M6.9 26.1l-1 .5M33.2 41.5l-.1 .6M95.1 35.1l.8 .3M53 64.7l-.1 .01M79.2 .1l0 .01M59.9 50.7l.1 .1M26.1 -.6l0 .3M4.7 43.5l-.1 .6M73.2 23.7l.3 .4M48.2 64.9l-.1 .6M25.8 -.5l-.1 .4M87.4 19.4l0 .1" stroke="#aa6d7b" stroke-width="2.80" stroke-linecap="round" stroke-opacity="0.60" fill="none"/><path d="M98.9 4.6l.6 .4M70.3 17.1l.6 .5M29.8 61.8l.7 .2M101.5 30.5l-.4 .3M99.1 32.6l-.3 .3M44.8 40.7l.1 .7M72.8 53.7l-.8 .2M3 10.2l0 .2M15.9 52.9l-.2 .5M35.6 33.1l-.4 .1M71.6 11.4l.9 .2M5.8 19.9l.8 .1M17.1 63.1l.7 .4M85.2 .3l-.2 .4M85.3 4.2l0 .01M86.5 45.8l0 .01M79.2 49l.3 .7M65.7 17.8l-.2 .3M85.5 38.4l-.1 .1M33.6 21.4l-.1 .4M81.5 25.8l-.5 .4M3.1 20.7l0 .01M85.6 62.9l-.8 .2M65.8 26.4l.4 .4M4.6 30.5l.9 .1M89.1 26.8l.5 .1M63.7 44.6l.1 .3M87.5 10l.2 .2M77.7 31.5l-.6 .6M14.7 7.7l-.5 .2M27.8 13.8l.8 .1M48.1 70.7l.5 .2M22.8 35.6l-.2 .2M100.5 21.5l0 .2M91.8 29.5l.3 .01M.1 48.7l.4 .1M38.9 12.5l0 .4M27 16.4l-.2 .5M18.6 28.8l-.2 .2" stroke="#9b7178" stroke-width="2.27" stroke-linecap="round" stroke-opacity="0.60" fill="none"/>
<path d="M19.4 58.8l.2 .2M12.3 3.9l-.9 .2M95.2 34.8l.1 .01M66.9 14.6l0 .01M84.1 44.2l-.7 .2" stroke="#957b9a" stroke-width="1.80" stroke-linecap="round" stroke-opacity="0.53" fill="none"/><path d="M54.1 45.3l-1.2 .3M12.5 15.6l-.2 .8M2.6 66.5l-.9 .3M42.4 31.2l1 .3M64 25.7l.2 .2" stroke="#a06891" stroke-width="2.60" stroke-linecap="round" stroke-opacity="0.53" fill="none"/><path d="M3.1 43.8l0 .01M3.6 21.9l.2 .7M85.1 45.1l.6 .2M21.6 38.4l.3 .1M27.6 36.1l.6 .1M25.9 13l-.4 .7M38.5 5.7l.6 .3" stroke="#957b9a" stroke-width="2.20" stroke-linecap="round" stroke-opacity="0.53" fill="none"/><path d="M57.3 43.4l.2 .1M50.9 27l.3 .4M25.4 62.7l.9 .7M29.4 36.6l-.1 .7M51.8 35l.3 .4M52.1 18.9l.1 .8M29.8 15.8l.1 .01M40.6 15.2l1 .4M63.6 55.2l.1 .9M46.4 56.7l-.1 .6M55.3 6l-.4 .3M93.4 27l.2 .6M10.6 69l.6 .01M37.6 39.7l.8 .1M63.2 .1l-.1 .1" stroke="#957b9a" stroke-width="2.60" stroke-linecap="round" stroke-opacity="0.53" fill="none"/><path d="M22.7 52.4l-.4 .3M21 70.5l0 .01M16.9 7.9l-.6 .8M98.5 4.2l.5 .9M27.4 14.1l.2 .01M46.2 49.1l-.1 .1M65.1 36.2l-.4 .2" stroke="#a06891" stroke-width="2.20" stroke-linecap="round" stroke-opacity="0.53" fill="none"/><path d="M65.1 24.6l-.6 .7M83.1 24.1l-.4 .1M3.9 70.4l0 .2M8 38.4l-.1 .2M25.7 16.6l0 .4M77 8.5l.4 .1M46.6 43.2l-.1 .01M70.9 38l.3 .2M16.4 41.9l0 .6M56.4 63.3l0 .4M41.2 50l.6 .01" stroke="#a06891" stroke-width="1.80" stroke-linecap="round" stroke-opacity="0.53" fill="none"/><path d="M-.3 64.1l.6 .3M51 44.4l0 .1M20.3 58.2l-.9 .5M95 34.9l-.1 .01M99.4 48.2l.5 .4M72 4.3l-.2 .3M27.2 31.2l0 .2" stroke="#8c748b" stroke-width="2.20" stroke-linecap="round" stroke-opacity="0.53" fill="none"/><path d="M59.1 17.6l-.5 .5M94.7 4.3l-.2 .1M51.7 29.6l.1 .2M4.1 13.7l.1 .3M57.2 27.2l0 .01M52 68.3l-.1 .1M61.4 6.2l-.7 .5M3.4 29.7l.3 .2M97.3 28.3l-.1 .7M20.4 14.9l.2 .2" stroke="#8c748b" stroke-width="1.80" stroke-linecap="round" stroke-opacity="0.53" fill="none"/><path d="M95.7 33.9l-1.2 .1M68.3 5.2l-.5 .7M48.6 46.6l.4 .8" stroke="#8c748b" stroke-width="2.60" stroke-linecap="round" stroke-opacity="0.53" fill="none"/>
<path d="M38.3 16.5l0 .2M30.4 3.1l.6 .01M8.7 49.9l-.1 .6M38.8 16l.3 .5M27.1 36.8l.6 1.1M10 15.5l-.4 .8M21.1 70.8l0 .01M49.3 17.1l-1 .9M61.7 45.5l-.6 .01M44.6 71.5l-.1 .1M62.5 43.8l-.1 1.2M35.1 4l.5 1.1M38.5 18.8l.6 .4M73 9.8l-.3 .01M81.4 10.7l-.1 .1M13.8 25.1l-.4 .1M32.9 21l-.1 .01M51.8 34.3l-.2 .2" stroke="#cb9375" stroke-width="2.93" stroke-linecap="round" stroke-opacity="0.57" fill="none"/><path d="M24.1 25.9l-.1 .01M2.7 8.4l0 .7M76.5 43.8l0 .01M20.5 26.2l-.7 .01M21.6 31.9l0 .01M14.3 48.5l.5 .3M21.4 66.8l.4 .7M-.4 11.2l-.1 .3M9 57l-.8 .3M56.4 31.3l.4 .5M95.3 22.5l.2 .7M23.3 10.4l-.4 .8M50.8 61.5l-.3 .1M84 7.8l.3 .1M56.4 37.9l-.1 .1M92.7 17.3l-.6 .3M61.1 49.5l.4 .2M45.6 68.5l.9 .2M46.9 71.8l.6 .1M77.5 24.2l-.1 .1M36.4 42.2l.7 .3" stroke="#c98f74" stroke-width="1.87" stroke-linecap="round" stroke-opacity="0.57" fill="none"/><path d="M13.6 18.6l0 .4M77.8 59.9l.2 .8M4.8 29.2l.4 .2M15.7 21l.4 .2M6.1 26.7l.5 .2M45.5 17.2l-1.1 .2M81 44.4l-.1 .01M79.7 13l-.3 .3M45.6 60.4l0 .2M62.4 31.1l-.7 .4M28.7 71l-.6 .7M57.5 39.8l.4 .1M80.1 -.2l-.6 .5M48.7 62.1l-.1 .1M58.1 .1l.6 .7M70.2 16.1l-.2 1.2M21.7 50l.5 .4M100.5 7.8l.5 .1M17.7 61.3l.4 .9M17.5 55.5l.1 1M5.8 61.4l-.1 .6" stroke="#c98f74" stroke-width="2.40" stroke-linecap="round" stroke-opacity="0.57" fill="none"/><path d="M6.2 40.8l-.3 .5M94.9 34l-.3 1.4M100.6 4.8l.6 .7M12.4 36.9l-1.1 .2M97.2 12.5l-.3 .2M63.8 55.8l0 .5M33.8 41.7l.1 .3M7.4 11.8l0 .01M35.8 39.9l0 .1M39.5 50l0 .1M9.7 12.2l-.1 .1M9.2 13l.5 .01M20.1 17.6l-1.1 .7M101.4 17.5l0 .01" stroke="#ca8064" stroke-width="2.93" stroke-linecap="round" stroke-opacity="0.57" fill="none"/><path d="M14.8 19.4l.2 .4M40.9 4.5l.4 .4M51.4 35.5l-.1 .5M29.4 39.6l.5 .6M47.5 60.7l0 .01M40.7 53l.6 .1M93.5 36.8l.6 .1M1.9 49.5l-.1 .2M51.5 56.6l-.4 .3M14.5 5.2l.3 .8M28.2 33.6l-.3 .7M25.7 33.4l0 .3M60.2 48.5l.5 .5M86.4 22.3l-.4 .1M25.7 23l0 .01M70.4 10.3l.9 .01M79.6 34l.6 .7M17.8 42.7l.2 .5M56.3 33.2l.3 .1M64.4 35.6l.6 .3M39.9 43.4l-.6 .5M39.2 45.7l.4 .1" stroke="#cb9375" stroke-width="1.87" stroke-linecap="round" stroke-opacity="0.57" fill="none"/><path d="M17.9 .5l-.8 .5M59.6 41.1l-1 .3M7 49.6l.2 .5M1.8 34.5l-.1 .1M54.4 23.4l.8 .8M44.4 17l-.2 .4M3.5 36.3l.2 .1M89.2 25.6l-.3 1M67.2 5.3l1 .2M96.5 28.7l.3 .7M73.7 40.1l-.1 .1M36.4 .6l-.1 .1M-.3 42l-.7 .1M37.3 43.9l-.3 .8M93.1 11.8l1.1 .01" stroke="#ca8064" stroke-width="2.40" stroke-linecap="round" stroke-opacity="0.57" fill="none"/><path d="M77.3 9.5l.1 .01M69 35.8l-.2 .3M65.8 15.9l.6 .2M28.9 66.2l-.5 .3M62.7 37.7l-.8 .1M99.5 4.1l.6 .2M6.5 22.1l.6 .3M5.4 4.4l-.1 .1M91.4 47.1l0 .2M100.3 21.7l.4 .01M49.8 15.6l.2 .7M25 50.4l.2 .2M87.7 5.1l-.3 .01M6.3 12.9l.4 .3M35.5 66.5l-.3 .4" stroke="#ca8064" stroke-width="1.87" stroke-linecap="round" stroke-opacity="0.57" fill="none"/><path d="M40.4 46.6l-.2 .4M37.6 21.2l.2 .3M18.6 40.9l-.3 .3M48.9 15.6l1 .5M56.1 61.9l-.2 .4M17.7 37.4l-.1 .1M85.6 21.7l-.2 .2M66.9 36.5l-.6 .5M87.1 24.2l.3 .5M95.6 25.1l0 .9M19.9 27.4l-.3 1M11.7 48.4l-.4 .5M15.7 56.9l.7 .1M36.3 49.5l0 .2M68.3 31.7l0 .3M13.2 .8l-.3 1M65.4 17.6l-.2 .3M-.3 42.3l-.3 .3M79.4 18.3l-.5 .7" stroke="#cb9375" stroke-width="2.40" stroke-linecap="round" stroke-opacity="0.57" fill="none"/><path d="M70.8 5.8l-.7 .3M15.5 13.8l1.1 .4M10.2 58.9l0 .9M60.1 35.7l.3 .2M11.8 32.4l.1 .1M71.8 20l.6 .4M49.2 30.5l.9 .6M53.6 40.5l-.5 1.1M46.3 59.7l.3 .3M52.6 7.7l0 .1M75.5 5l.7 1.1M6.9 11.9l.4 .1M82.6 47.7l-.1 .1M35.9 40.3l0 .1M79.6 29.6l.9 .5" stroke="#c98f74" stroke-width="2.93" stroke-linecap="round" stroke-opacity="0.57" fill="none"/>
<path d="M78.6 35.9l.5 .01M66 15.8l0 .4M5.9 59.5l0 .2M34.7 65.5l0 .3M45.6 10l0 .01M12.3 39.7l-.1 .1" stroke="#e7e1d4" stroke-width="1.63" stroke-linecap="round" stroke-opacity="0.72" fill="none"/><path d="M61.2 37.1l.3 .01M15 11l.2 .01M26 43.4l-.3 .1M42.6 60.6l.1 .01" stroke="#e8e3e0" stroke-width="1.63" stroke-linecap="round" stroke-opacity="0.72" fill="none"/><path d="M19.8 47.1l0 .1M36.9 57.4l0 .1M48.3 7l-.1 .01M44.1 49.6l-.2 .01M53.5 30.9l.3 .01" stroke="#e8e3e0" stroke-width="0.97" stroke-linecap="round" stroke-opacity="0.72" fill="none"/><path d="M9.5 42.7l0 .3M29.6 51l-.2 .01M75 12.4l.2 .1" stroke="#f0d5de" stroke-width="0.97" stroke-linecap="round" stroke-opacity="0.72" fill="none"/><path d="M30.1 16.8l-.3 .01M39.4 35.9l-.2 .1M35.4 37.6l0 .1M14.6 9.3l.2 .01" stroke="#e7e1d4" stroke-width="0.97" stroke-linecap="round" stroke-opacity="0.72" fill="none"/><path d="M83.3 44.3l.1 .3M46.6 40.6l0 .01M94.8 33l-.1 .01M25.3 22.4l-.1 .1" stroke="#e8e3e0" stroke-width="1.30" stroke-linecap="round" stroke-opacity="0.72" fill="none"/><path d="M101.1 34.1l0 .01M81.6 42.3l.1 .01M22.6 18.4l.1 .3M13.8 21.3l0 .1M45.2 52.6l-.1 .4" stroke="#f0d5de" stroke-width="1.30" stroke-linecap="round" stroke-opacity="0.72" fill="none"/><path d="M71.6 5.6l0 .3M81.4 70.1l.2 .1M-.5 16.6l0 .1M67.5 21.4l-.1 .01M25.7 60.1l0 .01M48 2.6l.2 .01" stroke="#e7e1d4" stroke-width="1.30" stroke-linecap="round" stroke-opacity="0.72" fill="none"/><path d="M59 5.2l0 .4M84 9.7l.3 .1M26 23.2l.1 .01" stroke="#f0d5de" stroke-width="1.63" stroke-linecap="round" stroke-opacity="0.72" fill="none"/>
</g>
<g filter="url(#soft2)">
<path d="M100,37 L100,72 L53,72 C56,64 61,60 69,58 C80,54 90,46 100,37 Z" fill="#d8c2c8"/>
<path d="M80,0 L100,0 L100,9 C92,8 85,5 80,0 Z" fill="#e2d6dc"/>
<path d="M15,0 L20,0 C19,5 18,10 17,14 L15,14 C15,9 15,5 15,0 Z" fill="#f0e8e6"/>
<path d="M100,30 L100,35 C96,40 92,44 88,46 L86,45 C90,40 95,35 100,30 Z" fill="#ede2e2"/>
<ellipse cx="9" cy="59" rx="5" ry="4" fill="#f0e8e6"/>
<path d="M0,12 C5,10 8,12 10,16 L6,18 C4,15 2,14 0,15 Z" fill="#ece0dc"/>
</g>
<g filter="url(#texH)">
<path d="M60,66 C70,62 80,60 92,56 M68,70 C78,66 88,64 99,58 M75,62 C82,58 90,54 98,48" stroke="#9070a8" stroke-width="0.9" fill="none"/>
<path d="M82.6 56.8l-1.5 .3M97.8 59.1l-.7 1.2M93.3 64.4l.1 .3M75.8 56.7l-.2 .01M101.3 38l-.5 1.1M69.5 64.2l-.5 1.2M97.4 54.5l.1 .01M89.1 53.5l-.9 .1M77.4 67.3l-.3 1.2M91 51.6l-.2 1.4" stroke="#957aa1" stroke-width="1.80" stroke-linecap="round" stroke-opacity="0.65" fill="none"/><path d="M77.6 53.7l-1.3 .8M69.5 71l-.2 1M95.5 52.5l-.1 2M63.5 67.7l.3 .1M95.5 62.3l-1 .9M77.4 71.2l-.1 .7M98.7 47.3l-.1 1.3M91.8 66.2l.7 .1" stroke="#957aa1" stroke-width="2.20" stroke-linecap="round" stroke-opacity="0.65" fill="none"/><path d="M80 62.1l1 1M93.3 68.4l-.3 .01M86.2 47.6l-.3 .7M78.3 69l-.2 .5M86.5 51.5l-.4 1.7M67.8 71.6l-.3 .2" stroke="#8d669a" stroke-width="1.80" stroke-linecap="round" stroke-opacity="0.65" fill="none"/><path d="M88.8 60.3l.6 1.2M83 64.7l.6 .1M78.1 64.9l-.2 .3M71.8 58.2l-.4 .5M80.4 54.8l0 .01M75 62.3l-.5 1M75.6 69.5l-.9 1.3" stroke="#9e64a2" stroke-width="1.80" stroke-linecap="round" stroke-opacity="0.65" fill="none"/><path d="M93.3 71l-.6 1M87.5 46.2l-.1 .4M87.3 52.3l-.8 1.1M95.3 62.3l-.4 .3M75 56.4l-.1 .4" stroke="#957aa1" stroke-width="1.40" stroke-linecap="round" stroke-opacity="0.65" fill="none"/><path d="M93.3 41.1l0 .1M74.1 59.2l1.7 .1M62.4 67.3l-.3 .4M99.3 70.3l-.8 .01M97 65.6l2 .3M85.7 53.4l0 .01" stroke="#9e64a2" stroke-width="2.20" stroke-linecap="round" stroke-opacity="0.65" fill="none"/><path d="M55.8 70.6l-.1 .2M80.9 60l-.6 1.2M71.6 70.2l-.2 .01M84.5 57.8l-.4 .6M93.2 53.1l-.1 .4M92.9 48.5l.3 .6" stroke="#8d669a" stroke-width="1.40" stroke-linecap="round" stroke-opacity="0.65" fill="none"/><path d="M82.3 58.4l-.5 .2M84.4 71l-.8 1.1M101.7 52.7l-1.2 1M85.8 51.5l0 .7M89.2 59.8l.1 .3M76.6 63.8l.5 .1M81.7 50.8l1.4 .9" stroke="#8d669a" stroke-width="2.20" stroke-linecap="round" stroke-opacity="0.65" fill="none"/><path d="M83.4 62.7l-.9 .4M84 56.7l.2 .4M96.8 51.7l-.6 1.2M91.4 47.2l-.7 .8M71.4 64l-.5 .2" stroke="#9e64a2" stroke-width="1.40" stroke-linecap="round" stroke-opacity="0.65" fill="none"/>
</g>
</svg>
<line x1="578.2" y1="451.4" x2="614.5" y2="451.4" stroke="#222" stroke-width="0.8"/>
<text x="596.3" y="458.6" font-size="5.2" font-weight="bold" text-anchor="middle" fill="#111" font-family="'Liberation Sans',sans-serif">100 µm</text>
</svg>
</body></html>
